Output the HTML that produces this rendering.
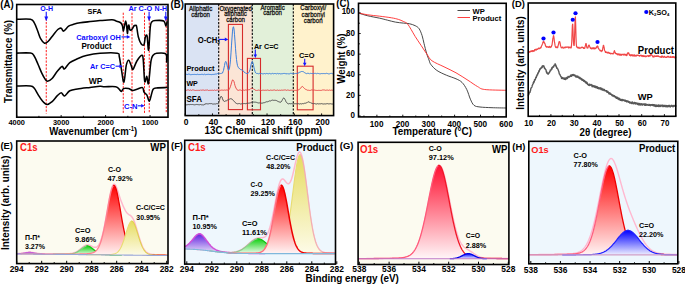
<!DOCTYPE html><html><head><meta charset="utf-8"><style>html,body{margin:0;padding:0;background:#fff;width:685px;height:284px;overflow:hidden}svg{display:block}text{font-family:"Liberation Sans",sans-serif;font-weight:bold}</style></head><body>
<svg width="685" height="284" viewBox="0 0 685 284"><defs>
<linearGradient id="gr" x1="0" y1="0" x2="0" y2="1"><stop offset="0" stop-color="#ff0000"/><stop offset="1" stop-color="#fff4f4"/></linearGradient>
<linearGradient id="gy" x1="0" y1="0" x2="0" y2="1"><stop offset="0" stop-color="#e6dc60"/><stop offset="1" stop-color="#fdfbe8"/></linearGradient>
<linearGradient id="gg" x1="0" y1="0" x2="0" y2="1"><stop offset="0" stop-color="#10d010"/><stop offset="1" stop-color="#eefcee"/></linearGradient>
<linearGradient id="gp" x1="0" y1="0" x2="0" y2="1"><stop offset="0" stop-color="#6020e0"/><stop offset="1" stop-color="#ece6fa"/></linearGradient>
<linearGradient id="gb" x1="0" y1="0" x2="0" y2="1"><stop offset="0" stop-color="#0000ff"/><stop offset="1" stop-color="#eeeeff"/></linearGradient>
<linearGradient id="gr2" x1="0" y1="0" x2="0" y2="1"><stop offset="0" stop-color="#ff1030"/><stop offset="1" stop-color="#fff6f8"/></linearGradient>
</defs>
<line x1="46.25" y1="18.5" x2="46.25" y2="113.5" stroke="#ff1010" stroke-width="0.95" stroke-dasharray="2.2,1.3" />
<line x1="123.25" y1="12.7" x2="123.25" y2="113.5" stroke="#ff1010" stroke-width="0.95" stroke-dasharray="2.2,1.3" />
<line x1="132" y1="12.7" x2="132" y2="113.5" stroke="#ff1010" stroke-width="0.95" stroke-dasharray="2.2,1.3" />
<line x1="144.5" y1="12.7" x2="144.5" y2="113.5" stroke="#ff1010" stroke-width="0.95" stroke-dasharray="2.2,1.3" />
<line x1="149.25" y1="19" x2="149.25" y2="113.5" stroke="#ff1010" stroke-width="0.95" stroke-dasharray="2.2,1.3" />
<line x1="166.25" y1="19" x2="166.25" y2="113.5" stroke="#ff1010" stroke-width="0.95" stroke-dasharray="2.2,1.3" />
<path d="M16.7 19.3 C19 19.3 27.57 18.7 30.5 19.3 C33.43 19.9 33.13 21.03 34.3 22.9 C35.47 24.77 36.45 27.87 37.5 30.5 C38.55 33.13 39.43 36.58 40.6 38.7 C41.77 40.82 43.22 42.77 44.5 43.2 C45.78 43.63 46.83 42.68 48.3 41.3 C49.77 39.92 51.72 36.87 53.3 34.9 C54.88 32.93 56.48 30.62 57.8 29.5 C59.12 28.38 60.22 27.93 61.2 28.2 C62.18 28.47 62.47 31.45 63.7 31.1 C64.93 30.75 66.95 27.23 68.6 26.1 C70.25 24.97 71.7 24.85 73.6 24.3 C75.5 23.75 77.25 23.25 80 22.8 C82.75 22.35 86.77 21.97 90.1 21.6 C93.43 21.23 96.35 20.9 100 20.6 C103.65 20.3 109.33 19.75 112 19.8 C114.67 19.85 114.92 20.57 116 20.9 C117.08 21.23 117.67 21.43 118.5 21.8 C119.33 22.17 120.33 22.42 121 23.1 C121.67 23.78 122.1 24.6 122.5 25.9 C122.9 27.2 123.05 30.97 123.4 30.9 C123.75 30.83 124.22 27.15 124.6 25.5 C124.98 23.85 125.37 21 125.7 21 C126.03 21 126.32 23.42 126.6 25.5 C126.88 27.58 127.13 33.33 127.4 33.5 C127.67 33.67 127.93 27.87 128.2 26.5 C128.47 25.13 128.73 24.78 129 25.3 C129.27 25.82 129.43 28.82 129.8 29.6 C130.17 30.38 130.75 30.17 131.2 30 C131.65 29.83 132.03 29.28 132.5 28.6 C132.97 27.92 133.5 26.43 134 25.9 C134.5 25.37 135.07 25.32 135.5 25.4 C135.93 25.48 136.13 24.5 136.6 26.4 C137.07 28.3 137.55 33.9 138.3 36.8 C139.05 39.7 140.15 42.5 141.1 43.8 C142.05 45.1 143.28 45.77 144 44.6 C144.72 43.43 144.88 38.22 145.4 36.8 C145.92 35.38 146.57 33.9 147.1 36.1 C147.63 38.3 148.07 51.53 148.6 50 C149.13 48.47 149.78 31.57 150.3 26.9 C150.82 22.23 150.88 23.05 151.7 22 C152.52 20.95 153.2 20.77 155.2 20.6 C157.2 20.43 161.92 20.1 163.7 21 C165.48 21.9 165.32 25.95 165.9 26 C166.48 26.05 166.98 22.08 167.2 21.3" stroke="#000" stroke-width="1.55" fill="none" stroke-linejoin="round" />
<path d="M16.7 53.1 C19 53.1 27.57 52.58 30.5 53.1 C33.43 53.62 33.03 54.3 34.3 56.2 C35.57 58.1 36.83 61.63 38.1 64.5 C39.37 67.37 40.73 70.97 41.9 73.4 C43.07 75.83 44.15 77.8 45.1 79.1 C46.05 80.4 46.43 81.3 47.6 81.2 C48.77 81.1 50.52 80.12 52.1 78.5 C53.68 76.88 55.45 73.52 57.1 71.5 C58.75 69.48 60.77 66.83 62 66.4 C63.23 65.97 63.2 69.53 64.5 68.9 C65.8 68.27 67.63 64.28 69.8 62.6 C71.97 60.92 74.75 59.97 77.5 58.8 C80.25 57.63 82.55 56.52 86.3 55.6 C90.05 54.68 94.85 53.7 100 53.3 C105.15 52.9 113.98 52.63 117.2 53.2 C120.42 53.77 118.6 54 119.3 56.7 C120 59.4 120.63 65.17 121.4 69.4 C122.17 73.63 123.08 82.8 123.9 82.1 C124.72 81.4 125.5 68.85 126.3 65.2 C127.1 61.55 127.87 60.08 128.7 60.2 C129.53 60.32 130.58 64.37 131.3 65.9 C132.02 67.43 132.07 70.22 133 69.4 C133.93 68.58 135.43 63.35 136.9 61 C138.37 58.65 140.75 55.55 141.8 55.3 C142.85 55.05 142.72 55.15 143.2 59.5 C143.68 63.85 144.1 78.58 144.7 81.4 C145.3 84.22 146.17 76.05 146.8 76.4 C147.43 76.75 147.8 86.08 148.5 83.5 C149.2 80.92 150.23 65.6 151 60.9 C151.77 56.2 152.17 56.58 153.1 55.3 C154.03 54.02 154.48 53.43 156.6 53.2 C158.72 52.97 164.13 52.43 165.8 53.9 C167.47 55.37 166.37 61.98 166.6 62 C166.83 62.02 167.1 55.33 167.2 54" stroke="#000" stroke-width="1.55" fill="none" stroke-linejoin="round" />
<path d="M16.7 86 C19 86 27.57 85.63 30.5 86 C33.43 86.37 33.03 86.77 34.3 88.2 C35.57 89.63 36.83 92.58 38.1 94.6 C39.37 96.62 40.42 98.67 41.9 100.3 C43.38 101.93 45.3 104.18 47 104.4 C48.7 104.62 50.42 103.02 52.1 101.6 C53.78 100.18 55.58 97.38 57.1 95.9 C58.62 94.42 59.97 92.7 61.2 92.7 C62.43 92.7 63.07 96.22 64.5 95.9 C65.93 95.58 67.63 91.97 69.8 90.8 C71.97 89.63 74.12 89.47 77.5 88.9 C80.88 88.33 86.35 87.83 90.1 87.4 C93.85 86.97 97.6 86.42 100 86.3 C102.4 86.18 101.88 86.63 104.5 86.7 C107.12 86.77 113.23 86.27 115.7 86.7 C118.17 87.13 118.35 88.52 119.3 89.3 C120.25 90.08 120.7 91.52 121.4 91.4 C122.1 91.28 122.33 89.07 123.5 88.6 C124.67 88.13 126.87 88.3 128.4 88.6 C129.93 88.9 131.28 90.28 132.7 90.4 C134.12 90.52 135.27 89.77 136.9 89.3 C138.53 88.83 141.32 87.13 142.5 87.6 C143.68 88.07 143.28 90.88 144 92.1 C144.72 93.32 145.92 93.37 146.8 94.9 C147.68 96.43 148.55 101.3 149.3 101.3 C150.05 101.3 150.67 96.9 151.3 94.9 C151.93 92.9 152.22 90.47 153.1 89.3 C153.98 88.13 154.37 88.18 156.6 87.9 C158.83 87.62 164.68 87.65 166.5 87.6 C168.32 87.55 167.33 87.6 167.5 87.6" stroke="#000" stroke-width="1.55" fill="none" stroke-linejoin="round" />
<rect x="16.7" y="4.5" width="151.3" height="112.7" fill="none" stroke="#000" stroke-width="1.6" />
<line x1="16.7" y1="117.2" x2="16.7" y2="115" stroke="#000" stroke-width="0.9" />
<line x1="38.92" y1="117.2" x2="38.92" y2="115.8" stroke="#000" stroke-width="0.9" />
<line x1="61.15" y1="117.2" x2="61.15" y2="115" stroke="#000" stroke-width="0.9" />
<line x1="83.38" y1="117.2" x2="83.38" y2="115.8" stroke="#000" stroke-width="0.9" />
<line x1="105.6" y1="117.2" x2="105.6" y2="115" stroke="#000" stroke-width="0.9" />
<line x1="127.83" y1="117.2" x2="127.83" y2="115.8" stroke="#000" stroke-width="0.9" />
<line x1="150.05" y1="117.2" x2="150.05" y2="115" stroke="#000" stroke-width="0.9" />
<text transform="translate(16.7 124.7) scale(1 1.06)" font-size="7.4" fill="#000" text-anchor="middle" >4000</text>
<text transform="translate(61.15 124.7) scale(1 1.06)" font-size="7.4" fill="#000" text-anchor="middle" >3000</text>
<text transform="translate(105.6 124.7) scale(1 1.06)" font-size="7.4" fill="#000" text-anchor="middle" >2000</text>
<text transform="translate(150.05 124.7) scale(1 1.06)" font-size="7.4" fill="#000" text-anchor="middle" >1000</text>
<text transform="translate(49.2 135.1) scale(1 1.06)" font-size="9.6">Wavenumber (cm<tspan font-size="6" dy="-3.6">-1</tspan><tspan dy="3.6">)</tspan></text>
<text font-size="9.64" fill="#000" text-anchor="middle" transform="translate(11.9 61.5) rotate(-90) scale(1 1.12)">Transmittance (%)</text>
<text transform="translate(0.3 7.8) scale(1 1.06)" font-size="9.6" fill="#000" text-anchor="start" >(A)</text>
<text transform="translate(87.6 13.9) scale(1 1.06)" font-size="7.35" fill="#000" text-anchor="start" >SFA</text>
<text transform="translate(81.4 49.1) scale(1 1.06)" font-size="8.02" fill="#000" text-anchor="start" >Product</text>
<text transform="translate(88.75 83.5) scale(1 1.06)" font-size="8.54" fill="#000" text-anchor="start" >WP</text>
<text transform="translate(40.3 11.2) scale(1 1.06)" font-size="7.04" fill="#0a0aff" text-anchor="start" >O-H</text>
<text transform="translate(128.4 11.4) scale(1 1.06)" font-size="7.36" fill="#0a0aff" text-anchor="start" >Ar C-O</text>
<text transform="translate(154.6 11.4) scale(1 1.06)" font-size="6.98" fill="#0a0aff" text-anchor="start" >N-H</text>
<text transform="translate(76.2 39.6) scale(1 1.06)" font-size="7.4" fill="#0a0aff" text-anchor="start" >Carboxyl OH</text>
<text transform="translate(90 68.5) scale(1 1.06)" font-size="7.32" fill="#0a0aff" text-anchor="start" >Ar C=C</text>
<text transform="translate(124 108.5) scale(1 1.06)" font-size="7.6" fill="#0a0aff" text-anchor="start" >C-N</text>
<line x1="46.25" y1="11.8" x2="46.25" y2="16.9" stroke="#1515ff" stroke-width="1.1" />
<path d="M44.35 16.4 L48.15 16.4 L46.25 21.2 Z" fill="#1515ff"/>
<line x1="149.1" y1="11.8" x2="149.1" y2="16.9" stroke="#1515ff" stroke-width="1.1" />
<path d="M147.2 16.4 L151 16.4 L149.1 21.2 Z" fill="#1515ff"/>
<line x1="165.8" y1="11.8" x2="165.8" y2="16.9" stroke="#1515ff" stroke-width="1.1" />
<path d="M163.9 16.4 L167.7 16.4 L165.8 21.2 Z" fill="#1515ff"/>
<line x1="121.5" y1="36.9" x2="127.3" y2="36.9" stroke="#1515ff" stroke-width="1.1" />
<path d="M126.8 35.1 L126.8 38.7 L130.3 36.9 Z" fill="#1515ff"/>
<line x1="115.5" y1="66.2" x2="119.8" y2="66.2" stroke="#1515ff" stroke-width="1.1" />
<path d="M119.3 64.4 L119.3 68 L122.8 66.2 Z" fill="#1515ff"/>
<line x1="137.8" y1="105.8" x2="141.6" y2="105.8" stroke="#1515ff" stroke-width="1.1" />
<path d="M141.1 104 L141.1 107.6 L144.6 105.8 Z" fill="#1515ff"/>
<rect x="185.2" y="4" width="33.5" height="111.6" fill="#dae3f3" stroke="none" stroke-width="1" />
<rect x="218.7" y="4" width="33.6" height="111.6" fill="#fbe5d6" stroke="none" stroke-width="1" />
<rect x="252.3" y="4" width="41" height="111.6" fill="#e2f0d9" stroke="none" stroke-width="1" />
<rect x="293.3" y="4" width="40.3" height="111.6" fill="#fff2cc" stroke="none" stroke-width="1" />
<line x1="218.7" y1="4" x2="218.7" y2="115.6" stroke="#000" stroke-width="1.1" stroke-dasharray="2.2,1.4" />
<line x1="252.3" y1="4" x2="252.3" y2="115.6" stroke="#000" stroke-width="1.1" stroke-dasharray="2.2,1.4" />
<line x1="293.3" y1="4" x2="293.3" y2="115.6" stroke="#000" stroke-width="1.1" stroke-dasharray="2.2,1.4" />
<rect x="228.4" y="24.4" width="14.1" height="85.2" fill="none" stroke="#d62b2b" stroke-width="1.1" />
<rect x="247.4" y="58.4" width="13.1" height="51.4" fill="none" stroke="#d62b2b" stroke-width="1.1" />
<rect x="297.3" y="66.2" width="15.8" height="43.6" fill="none" stroke="#d62b2b" stroke-width="1.1" />
<text transform="translate(200.6 10.7) scale(1 1.06)" font-size="6.15" fill="#111" text-anchor="middle" style="font-weight:normal" stroke="#111" stroke-width="0.25">Aliphatic</text>
<text transform="translate(200.6 16.9) scale(1 1.06)" font-size="6.15" fill="#111" text-anchor="middle" style="font-weight:normal" stroke="#111" stroke-width="0.25">carbon</text>
<text transform="translate(235.6 10.9) scale(1 1.06)" font-size="6" fill="#111" text-anchor="middle" style="font-weight:normal" stroke="#111" stroke-width="0.25">Oxygenated</text>
<text transform="translate(235.6 16.3) scale(1 1.06)" font-size="6.15" fill="#111" text-anchor="middle" style="font-weight:normal" stroke="#111" stroke-width="0.25">aliphatic</text>
<text transform="translate(235.6 22) scale(1 1.06)" font-size="6.15" fill="#111" text-anchor="middle" style="font-weight:normal" stroke="#111" stroke-width="0.25">carbon</text>
<text transform="translate(272.6 9.7) scale(1 1.06)" font-size="6.15" fill="#111" text-anchor="middle" style="font-weight:normal" stroke="#111" stroke-width="0.25">Aromatic</text>
<text transform="translate(272.6 15.3) scale(1 1.06)" font-size="6.15" fill="#111" text-anchor="middle" style="font-weight:normal" stroke="#111" stroke-width="0.25">carbon</text>
<text transform="translate(313.2 9.9) scale(1 1.06)" font-size="6.15" fill="#111" text-anchor="middle" style="font-weight:normal" stroke="#111" stroke-width="0.25">Carboxyl/</text>
<text transform="translate(313.2 17.4) scale(1 1.06)" font-size="6.15" fill="#111" text-anchor="middle" style="font-weight:normal" stroke="#111" stroke-width="0.25">carbonyl</text>
<text transform="translate(313.2 22.8) scale(1 1.06)" font-size="6.15" fill="#111" text-anchor="middle" style="font-weight:normal" stroke="#111" stroke-width="0.25">carbon</text>
<path d="M185.5 74.24 L186 74.43 L186.5 74.32 L187 74.46 L187.5 74.48 L188 74.14 L188.5 74.11 L189 74.6 L189.5 74.26 L190 74.24 L190.5 74.7 L191 74.38 L191.5 74.6 L192 74.39 L192.5 74.48 L193 74.19 L193.5 74.48 L194 74.62 L194.5 74.41 L195 74.54 L195.5 74.5 L196 74.14 L196.5 74.55 L197 74.45 L197.5 74.28 L198 74.12 L198.5 74.62 L199 74.38 L199.5 74.53 L200 74.63 L200.5 74.53 L201 74.65 L201.5 74.34 L202 74.58 L202.5 74.37 L203 74.66 L203.5 74.63 L204 74.16 L204.5 74.18 L205 74.23 L205.5 74.68 L206 74.36 L206.5 74.48 L207 74.28 L207.5 74.4 L208 74.33 L208.5 74.31 L209 74.45 L209.5 74.45 L210 74.64 L210.5 74.51 L211 74.66 L211.5 74.61 L212 74.69 L212.5 74.44 L213 74.06 L213.5 74.42 L214 74.41 L214.5 74.31 L215 74.04 L215.5 74.06 L216 73.69 L216.5 74 L217 73.78 L217.5 73.54 L218 73.34 L218.5 73.81 L219 73.89 L219.5 73.35 L220 73.78 L220.5 73.54 L221 73.36 L221.5 73.36 L222 73.45 L222.5 73.05 L223 71.63 L223.5 70.43 L224 67.86 L224.5 65.61 L225 62.88 L225.5 61.61 L226 61.5 L226.5 62.54 L227 65.14 L227.5 67.25 L228 69.1 L228.5 70.39 L229 69.73 L229.5 68.05 L230 64.78 L230.5 59.8 L231 52.88 L231.5 45.14 L232 37.94 L232.5 31.14 L233 27.52 L233.5 26.73 L234 29 L234.5 34.31 L235 41.13 L235.5 48.25 L236 54.52 L236.5 59.49 L237 63.1 L237.5 65.64 L238 66.84 L238.5 67.69 L239 68.44 L239.5 68.55 L240 68.89 L240.5 69.55 L241 69.52 L241.5 69.81 L242 69.82 L242.5 70.45 L243 71 L243.5 71.14 L244 71.98 L244.5 72.44 L245 72.47 L245.5 73.11 L246 73.22 L246.5 73.49 L247 73.37 L247.5 73.58 L248 73.48 L248.5 72.73 L249 72.1 L249.5 71.33 L250 69.78 L250.5 67.14 L251 64.86 L251.5 62.89 L252 61.6 L252.5 61.76 L253 63.08 L253.5 65.28 L254 67.82 L254.5 69.78 L255 71.42 L255.5 72.7 L256 72.83 L256.5 73.44 L257 73.67 L257.5 73.46 L258 73.43 L258.5 73.78 L259 73.44 L259.5 73.41 L260 73.56 L260.5 73.72 L261 73.36 L261.5 73.49 L262 73.5 L262.5 73.8 L263 73.56 L263.5 73.81 L264 73.4 L264.5 73.5 L265 73.69 L265.5 73.83 L266 73.57 L266.5 73.44 L267 73.37 L267.5 73.62 L268 73.41 L268.5 73.78 L269 73.8 L269.5 73.41 L270 73.47 L270.5 73.78 L271 73.69 L271.5 73.78 L272 73.51 L272.5 73.38 L273 73.48 L273.5 73.78 L274 73.46 L274.5 73.51 L275 73.55 L275.5 73.55 L276 73.55 L276.5 73.85 L277 73.39 L277.5 73.3 L278 73.87 L278.5 73.83 L279 73.89 L279.5 73.56 L280 73.87 L280.5 73.86 L281 73.43 L281.5 73.75 L282 73.8 L282.5 73.7 L283 73.61 L283.5 73.47 L284 73.5 L284.5 73.44 L285 73.34 L285.5 73.65 L286 73.47 L286.5 73.79 L287 73.33 L287.5 73.84 L288 73.72 L288.5 73.85 L289 73.84 L289.5 73.84 L290 73.65 L290.5 73.31 L291 73.75 L291.5 73.4 L292 73.48 L292.5 73.7 L293 73.61 L293.5 73.55 L294 73.86 L294.5 73.66 L295 73.5 L295.5 73.43 L296 73.78 L296.5 73.51 L297 73.62 L297.5 73.26 L298 73 L298.5 72.98 L299 72.87 L299.5 72.15 L300 72.17 L300.5 71.93 L301 71.62 L301.5 71.51 L302 71.03 L302.5 71.55 L303 71.96 L303.5 71.8 L304 72.28 L304.5 72.6 L305 73.03 L305.5 73.18 L306 73.36 L306.5 73.64 L307 73.23 L307.5 73.3 L308 73.36 L308.5 73.37 L309 73.34 L309.5 73.88 L310 73.81 L310.5 73.35 L311 73.6 L311.5 73.49 L312 73.49 L312.5 73.51 L313 73.69 L313.5 73.65 L314 73.52 L314.5 73.41 L315 73.5 L315.5 73.37 L316 73.63 L316.5 73.73 L317 73.53 L317.5 73.35 L318 73.41 L318.5 73.52 L319 73.66 L319.5 73.77 L320 73.53 L320.5 73.78 L321 73.67 L321.5 73.56 L322 73.52 L322.5 73.6 L323 73.72 L323.5 73.55 L324 73.72 L324.5 73.58 L325 73.45 L325.5 73.62 L326 73.72 L326.5 73.34 L327 73.55 L327.5 73.56 L328 73.83 L328.5 73.86 L329 73.52 L329.5 73.84 L330 73.77 L330.5 73.46 L331 73.58 L331.5 73.37 L332 73.79 L332.5 73.7 L333 73.83" stroke="#3a80dc" stroke-width="1" fill="none" stroke-linejoin="round" stroke-linecap="round" />
<path d="M185.5 90.38 L186 90.3 L186.5 90.34 L187 90.24 L187.5 89.96 L188 90.25 L188.5 89.9 L189 89.99 L189.5 90.36 L190 89.93 L190.5 89.96 L191 89.96 L191.5 90.43 L192 90.01 L192.5 89.91 L193 90.4 L193.5 89.97 L194 90.41 L194.5 90.3 L195 90.4 L195.5 90.47 L196 90.25 L196.5 90.38 L197 89.92 L197.5 90.36 L198 90.21 L198.5 90.33 L199 89.96 L199.5 90.35 L200 90.46 L200.5 89.94 L201 90.09 L201.5 90.24 L202 90.4 L202.5 90.05 L203 90.01 L203.5 90.05 L204 90.27 L204.5 90.35 L205 90.14 L205.5 90.12 L206 90.14 L206.5 90.11 L207 90.15 L207.5 89.95 L208 90.2 L208.5 90.48 L209 90.15 L209.5 90.35 L210 90 L210.5 90.31 L211 90.35 L211.5 90.3 L212 90.21 L212.5 90.19 L213 90.29 L213.5 90.44 L214 89.99 L214.5 89.96 L215 90.35 L215.5 90.45 L216 90.21 L216.5 90.17 L217 90.33 L217.5 90.01 L218 90.06 L218.5 90.02 L219 90.25 L219.5 90.09 L220 90.04 L220.5 90.31 L221 90.47 L221.5 90.08 L222 90.32 L222.5 90.15 L223 90.41 L223.5 90.25 L224 90.06 L224.5 90.03 L225 89.91 L225.5 90.19 L226 90.13 L226.5 89.99 L227 90.09 L227.5 90.03 L228 90.2 L228.5 89.62 L229 89.74 L229.5 88.77 L230 87.81 L230.5 86.3 L231 84.78 L231.5 82.91 L232 81.11 L232.5 79.98 L233 79.85 L233.5 80.55 L234 81.62 L234.5 83.6 L235 85.58 L235.5 86.92 L236 88.05 L236.5 88.93 L237 89.76 L237.5 90.04 L238 90.36 L238.5 90.37 L239 90.03 L239.5 90.01 L240 90.05 L240.5 90.01 L241 90.32 L241.5 90.42 L242 90.44 L242.5 90.05 L243 90.42 L243.5 90.09 L244 90.15 L244.5 90.34 L245 89.95 L245.5 89.96 L246 90.4 L246.5 90.07 L247 90.11 L247.5 90.23 L248 90.25 L248.5 89.77 L249 89.83 L249.5 89.66 L250 89.37 L250.5 88.81 L251 88.65 L251.5 88.58 L252 88.13 L252.5 88.33 L253 88.37 L253.5 88.85 L254 89.48 L254.5 89.47 L255 90.16 L255.5 90.31 L256 89.9 L256.5 90.44 L257 90.12 L257.5 90.36 L258 90.35 L258.5 90.08 L259 90.31 L259.5 90.29 L260 90.38 L260.5 90.06 L261 90.35 L261.5 90.48 L262 90.3 L262.5 90.22 L263 89.97 L263.5 90.2 L264 90.11 L264.5 90.33 L265 90.31 L265.5 90.24 L266 90.01 L266.5 90.29 L267 90.28 L267.5 90.01 L268 90.43 L268.5 90.29 L269 89.97 L269.5 90.46 L270 89.98 L270.5 90.1 L271 90.33 L271.5 90.26 L272 90.23 L272.5 90.29 L273 90.17 L273.5 90.09 L274 90.01 L274.5 89.94 L275 90.33 L275.5 90.35 L276 90.23 L276.5 90.34 L277 90.12 L277.5 90.06 L278 90.13 L278.5 90.42 L279 89.93 L279.5 90.2 L280 90.05 L280.5 90.36 L281 90.11 L281.5 90.1 L282 90.14 L282.5 90.22 L283 90.36 L283.5 90.11 L284 90.41 L284.5 89.97 L285 90.06 L285.5 89.96 L286 89.97 L286.5 90.37 L287 90.34 L287.5 90.01 L288 90.01 L288.5 90.15 L289 90.35 L289.5 90.39 L290 90.35 L290.5 90.26 L291 89.99 L291.5 90.14 L292 90.02 L292.5 90.22 L293 90.24 L293.5 90.02 L294 90.05 L294.5 90.37 L295 89.92 L295.5 90.38 L296 90.43 L296.5 90.45 L297 90.08 L297.5 90.13 L298 90.05 L298.5 89.9 L299 89.83 L299.5 89.27 L300 88.53 L300.5 88.29 L301 87.49 L301.5 87.09 L302 86.88 L302.5 86.42 L303 87.12 L303.5 87.49 L304 87.95 L304.5 88.56 L305 89.04 L305.5 89.3 L306 89.79 L306.5 89.69 L307 90.08 L307.5 90.23 L308 90.14 L308.5 90.23 L309 90.47 L309.5 90.43 L310 89.98 L310.5 90.38 L311 90.27 L311.5 89.93 L312 90.12 L312.5 90.04 L313 89.95 L313.5 90.22 L314 90.46 L314.5 90.09 L315 90.42 L315.5 90.32 L316 89.98 L316.5 90.41 L317 90.26 L317.5 90.46 L318 90.33 L318.5 90.34 L319 90.11 L319.5 90.38 L320 90.46 L320.5 90.42 L321 90.16 L321.5 90.35 L322 90.19 L322.5 89.97 L323 89.93 L323.5 89.95 L324 90.02 L324.5 90 L325 90.2 L325.5 90.32 L326 90.22 L326.5 90.15 L327 90.29 L327.5 90.08 L328 90.18 L328.5 90.35 L329 90.14 L329.5 90.01 L330 90.44 L330.5 90.33 L331 90.12 L331.5 90.12 L332 90.22 L332.5 90.26 L333 90.03" stroke="#e84444" stroke-width="0.95" fill="none" stroke-linejoin="round" stroke-linecap="round" />
<path d="M185.5 104.45 L186 104.55 L186.5 104.84 L187 104.52 L187.5 104.68 L188 104.55 L188.5 104.55 L189 104.54 L189.5 104.65 L190 104.53 L190.5 104.46 L191 104.51 L191.5 104.53 L192 104.7 L192.5 104.48 L193 104.46 L193.5 104.67 L194 104.65 L194.5 104.8 L195 104.48 L195.5 104.65 L196 104.65 L196.5 104.46 L197 104.93 L197.5 104.56 L198 104.5 L198.5 104.69 L199 104.53 L199.5 104.76 L200 104.62 L200.5 104.51 L201 104.48 L201.5 104.81 L202 104.59 L202.5 104.84 L203 104.68 L203.5 104.92 L204 104.6 L204.5 104.57 L205 103.68 L205.5 103.96 L206 103.86 L206.5 103.72 L207 103.6 L207.5 103.89 L208 104.03 L208.5 103.85 L209 103.55 L209.5 103.57 L210 103.6 L210.5 103.64 L211 103.57 L211.5 103.58 L212 103.88 L212.5 104 L213 103.65 L213.5 104.04 L214 103.79 L214.5 103.95 L215 104.01 L215.5 104.01 L216 103.55 L216.5 103.67 L217 103.78 L217.5 103.83 L218 103.11 L218.5 102.64 L219 101.91 L219.5 100.09 L220 98.51 L220.5 96.96 L221 96.29 L221.5 96.52 L222 97.1 L222.5 98.73 L223 99.98 L223.5 100.89 L224 101.18 L224.5 101.47 L225 101.1 L225.5 100.96 L226 100.68 L226.5 100.76 L227 100.4 L227.5 100.06 L228 99.75 L228.5 99.74 L229 99.39 L229.5 99.17 L230 98.78 L230.5 98.71 L231 98.54 L231.5 98.95 L232 98.9 L232.5 99.53 L233 100.19 L233.5 100.72 L234 101.02 L234.5 101.64 L235 102.44 L235.5 102.76 L236 103.21 L236.5 103.46 L237 103.44 L237.5 103.79 L238 103.79 L238.5 103.64 L239 103.69 L239.5 103.56 L240 103.74 L240.5 104.02 L241 103.59 L241.5 103.82 L242 103.59 L242.5 103.57 L243 103.84 L243.5 103.62 L244 103.51 L244.5 103.54 L245 103.75 L245.5 103.69 L246 103.35 L246.5 103.41 L247 103.71 L247.5 103.26 L248 103.34 L248.5 103.18 L249 103.25 L249.5 103.05 L250 103.03 L250.5 102.79 L251 102.51 L251.5 102.4 L252 102.26 L252.5 102.56 L253 102.14 L253.5 102.06 L254 102.52 L254.5 102.14 L255 102.52 L255.5 102.16 L256 102.41 L256.5 102.37 L257 102.75 L257.5 102.73 L258 102.83 L258.5 102.97 L259 103.1 L259.5 102.89 L260 103.06 L260.5 103 L261 102.84 L261.5 103.18 L262 103.03 L262.5 103.08 L263 102.7 L263.5 102.78 L264 102.63 L264.5 102.65 L265 102.19 L265.5 102.19 L266 102.11 L266.5 101.76 L267 101.84 L267.5 101.78 L268 101.46 L268.5 101.41 L269 101.23 L269.5 100.88 L270 100.79 L270.5 100.96 L271 100.49 L271.5 100.41 L272 100.13 L272.5 100.1 L273 100 L273.5 100.34 L274 100.22 L274.5 100.32 L275 100.43 L275.5 100.34 L276 100.62 L276.5 100.59 L277 100.72 L277.5 101.2 L278 101.41 L278.5 101.67 L279 101.67 L279.5 102.02 L280 101.96 L280.5 102.25 L281 102 L281.5 101.2 L282 100.76 L282.5 99.44 L283 98.49 L283.5 98.2 L284 97.9 L284.5 98.5 L285 99.49 L285.5 100.33 L286 101.76 L286.5 102.4 L287 103.07 L287.5 103.38 L288 103.77 L288.5 103.86 L289 103.67 L289.5 103.59 L290 103.69 L290.5 103.75 L291 103.59 L291.5 103.63 L292 103.93 L292.5 103.9 L293 104.04 L293.5 104.04 L294 103.99 L294.5 103.74 L295 103.63 L295.5 103.71 L296 103.78 L296.5 103.81 L297 103.82 L297.5 103.73 L298 103.98 L298.5 103.69 L299 103.78 L299.5 103.99 L300 103.95 L300.5 103.7 L301 103.67 L301.5 103.95 L302 103.54 L302.5 103.58 L303 103.75 L303.5 103.7 L304 103.43 L304.5 103.25 L305 103.15 L305.5 103.21 L306 102.8 L306.5 102.79 L307 102.44 L307.5 102.35 L308 101.78 L308.5 101.86 L309 101.89 L309.5 102.31 L310 102.52 L310.5 102.65 L311 103.15 L311.5 103.14 L312 103.41 L312.5 103.5 L313 103.85 L313.5 103.71 L314 103.65 L314.5 103.56 L315 103.76 L315.5 103.86 L316 103.89 L316.5 104.01 L317 103.95 L317.5 103.67 L318 103.62 L318.5 103.93 L319 103.94 L319.5 103.8 L320 103.97 L320.5 103.83 L321 103.69 L321.5 103.63 L322 103.56 L322.5 103.87 L323 104 L323.5 104 L324 103.78 L324.5 103.88 L325 104.01 L325.5 103.96 L326 103.85 L326.5 103.76 L327 103.81 L327.5 103.64 L328 103.64 L328.5 103.89 L329 104.05 L329.5 103.82 L330 103.75 L330.5 103.73 L331 103.78 L331.5 103.95 L332 103.78 L332.5 104.03 L333 103.63" stroke="#505050" stroke-width="1" fill="none" stroke-linejoin="round" stroke-linecap="round" />
<rect x="185.2" y="4" width="148.4" height="111.6" fill="none" stroke="#000" stroke-width="1.6" />
<line x1="185.2" y1="115.6" x2="185.2" y2="113.4" stroke="#000" stroke-width="0.9" />
<line x1="198.84" y1="115.6" x2="198.84" y2="114.2" stroke="#000" stroke-width="0.9" />
<line x1="212.48" y1="115.6" x2="212.48" y2="113.4" stroke="#000" stroke-width="0.9" />
<line x1="226.12" y1="115.6" x2="226.12" y2="114.2" stroke="#000" stroke-width="0.9" />
<line x1="239.76" y1="115.6" x2="239.76" y2="113.4" stroke="#000" stroke-width="0.9" />
<line x1="253.4" y1="115.6" x2="253.4" y2="114.2" stroke="#000" stroke-width="0.9" />
<line x1="267.04" y1="115.6" x2="267.04" y2="113.4" stroke="#000" stroke-width="0.9" />
<line x1="280.68" y1="115.6" x2="280.68" y2="114.2" stroke="#000" stroke-width="0.9" />
<line x1="294.32" y1="115.6" x2="294.32" y2="113.4" stroke="#000" stroke-width="0.9" />
<line x1="307.96" y1="115.6" x2="307.96" y2="114.2" stroke="#000" stroke-width="0.9" />
<line x1="321.6" y1="115.6" x2="321.6" y2="113.4" stroke="#000" stroke-width="0.9" />
<text transform="translate(186.1 125.1) scale(1 1.06)" font-size="8.5" fill="#000" text-anchor="middle" >0</text>
<text transform="translate(213.4 125.1) scale(1 1.06)" font-size="8.5" fill="#000" text-anchor="middle" >40</text>
<text transform="translate(240.7 125.1) scale(1 1.06)" font-size="8.5" fill="#000" text-anchor="middle" >80</text>
<text transform="translate(268 125.1) scale(1 1.06)" font-size="8.5" fill="#000" text-anchor="middle" >120</text>
<text transform="translate(295.3 125.1) scale(1 1.06)" font-size="8.5" fill="#000" text-anchor="middle" >160</text>
<text transform="translate(322.6 125.1) scale(1 1.06)" font-size="8.5" fill="#000" text-anchor="middle" >200</text>
<text transform="translate(263.5 133.6) scale(1 1.06)" font-size="9.83" fill="#000" text-anchor="middle" >13C Chemical shift (ppm)</text>
<text transform="translate(170.6 7.9) scale(1 1.06)" font-size="9.6" fill="#000" text-anchor="start" >(B)</text>
<text transform="translate(186.4 71.4) scale(1 1.06)" font-size="7.46" fill="#000" text-anchor="start" >Product</text>
<text transform="translate(186.4 86) scale(1 1.06)" font-size="7.08" fill="#000" text-anchor="start" >WP</text>
<text transform="translate(186.4 102.4) scale(1 1.06)" font-size="8.07" fill="#000" text-anchor="start" >SFA</text>
<text transform="translate(197.7 42.9) scale(1 1.06)" font-size="7.7" fill="#000" text-anchor="start" >O-CH<tspan font-size="4.5" dy="1.5">3</tspan></text>
<line x1="218.5" y1="39.4" x2="225.3" y2="39.4" stroke="#1515ff" stroke-width="1.1" />
<path d="M224.8 37.6 L224.8 41.2 L228.3 39.4 Z" fill="#1515ff"/>
<text transform="translate(253.9 49.1) scale(1 1.06)" font-size="7.23" fill="#000" text-anchor="start" >Ar C=C</text>
<line x1="255.3" y1="49.5" x2="255.3" y2="55" stroke="#1515ff" stroke-width="1.1" />
<path d="M253.5 54.5 L257.1 54.5 L255.3 58 Z" fill="#1515ff"/>
<text transform="translate(299 58.4) scale(1 1.06)" font-size="7.39" fill="#000" text-anchor="start" >C=O</text>
<line x1="304.7" y1="58.8" x2="304.7" y2="63.2" stroke="#1515ff" stroke-width="1.1" />
<path d="M302.9 62.7 L306.5 62.7 L304.7 66.2 Z" fill="#1515ff"/>
<path d="M358 12.9 C359.63 13.38 364.18 14.92 367.8 15.8 C371.42 16.68 376.4 17.47 379.7 18.2 C383 18.93 384.98 19.55 387.6 20.2 C390.22 20.85 392.78 21.62 395.4 22.1 C398.02 22.58 400.98 22.83 403.3 23.1 C405.62 23.37 407.32 23.27 409.3 23.7 C411.28 24.13 413.57 24.87 415.2 25.7 C416.83 26.53 417.95 27.05 419.1 28.7 C420.25 30.35 421.28 33.15 422.1 35.6 C422.92 38.05 423.25 40.45 424 43.4 C424.75 46.35 425.77 50.53 426.6 53.3 C427.43 56.07 428.3 58.15 429 60 C429.7 61.85 429.5 62.67 430.8 64.4 C432.1 66.13 434.2 68.6 436.8 70.4 C439.4 72.2 443.2 73.8 446.4 75.2 C449.6 76.6 453.4 77.6 456 78.8 C458.6 80 460.2 80.6 462 82.4 C463.8 84.2 465.4 86.8 466.8 89.6 C468.2 92.4 469.2 96.58 470.4 99.2 C471.6 101.82 472.4 104 474 105.3 C475.6 106.6 477 106.6 480 107 C483 107.4 487.67 107.53 492 107.7 C496.33 107.87 503.67 107.95 506 108" stroke="#333" stroke-width="0.9" fill="none" stroke-linejoin="round" />
<path d="M358 12.9 C359.63 13.22 364.18 14.25 367.8 14.8 C371.42 15.35 375.75 15.7 379.7 16.2 C383.65 16.7 388.38 17.27 391.5 17.8 C394.62 18.33 396.43 18.8 398.4 19.4 C400.37 20 401.82 20.68 403.3 21.4 C404.78 22.12 405.98 22.33 407.3 23.7 C408.62 25.07 409.88 27.47 411.2 29.6 C412.52 31.73 413.55 33.87 415.2 36.5 C416.85 39.13 419.13 42.43 421.1 45.4 C423.07 48.37 425.18 51.73 427 54.3 C428.82 56.87 429.17 58.72 432 60.8 C434.83 62.88 440 64.8 444 66.8 C448 68.8 452 70.55 456 72.8 C460 75.05 464.4 78 468 80.3 C471.6 82.6 474.82 85.07 477.6 86.6 C480.38 88.13 479.97 88.88 484.7 89.5 C489.43 90.12 502.45 90.17 506 90.3" stroke="#ff2a2a" stroke-width="0.9" fill="none" stroke-linejoin="round" />
<rect x="358.5" y="3.3" width="147.7" height="113.6" fill="none" stroke="#000" stroke-width="1.6" />
<line x1="358.5" y1="116" x2="360.7" y2="116" stroke="#000" stroke-width="0.9" />
<line x1="358.5" y1="105.69" x2="359.9" y2="105.69" stroke="#000" stroke-width="0.9" />
<line x1="358.5" y1="95.38" x2="360.7" y2="95.38" stroke="#000" stroke-width="0.9" />
<line x1="358.5" y1="85.07" x2="359.9" y2="85.07" stroke="#000" stroke-width="0.9" />
<line x1="358.5" y1="74.76" x2="360.7" y2="74.76" stroke="#000" stroke-width="0.9" />
<line x1="358.5" y1="64.45" x2="359.9" y2="64.45" stroke="#000" stroke-width="0.9" />
<line x1="358.5" y1="54.14" x2="360.7" y2="54.14" stroke="#000" stroke-width="0.9" />
<line x1="358.5" y1="43.83" x2="359.9" y2="43.83" stroke="#000" stroke-width="0.9" />
<line x1="358.5" y1="33.52" x2="360.7" y2="33.52" stroke="#000" stroke-width="0.9" />
<line x1="358.5" y1="23.21" x2="359.9" y2="23.21" stroke="#000" stroke-width="0.9" />
<line x1="358.5" y1="12.9" x2="360.7" y2="12.9" stroke="#000" stroke-width="0.9" />
<text transform="translate(355 118.3) scale(1 1.06)" font-size="8" fill="#000" text-anchor="end" >0</text>
<text transform="translate(355 97.68) scale(1 1.06)" font-size="8" fill="#000" text-anchor="end" >20</text>
<text transform="translate(355 77.06) scale(1 1.06)" font-size="8" fill="#000" text-anchor="end" >40</text>
<text transform="translate(355 56.44) scale(1 1.06)" font-size="8" fill="#000" text-anchor="end" >60</text>
<text transform="translate(355 35.82) scale(1 1.06)" font-size="8" fill="#000" text-anchor="end" >80</text>
<text transform="translate(355 14.4) scale(1 1.06)" font-size="8" fill="#000" text-anchor="end" >100</text>
<line x1="363.95" y1="116.9" x2="363.95" y2="115.5" stroke="#000" stroke-width="0.9" />
<line x1="376.9" y1="116.9" x2="376.9" y2="114.7" stroke="#000" stroke-width="0.9" />
<line x1="389.85" y1="116.9" x2="389.85" y2="115.5" stroke="#000" stroke-width="0.9" />
<line x1="402.8" y1="116.9" x2="402.8" y2="114.7" stroke="#000" stroke-width="0.9" />
<line x1="415.75" y1="116.9" x2="415.75" y2="115.5" stroke="#000" stroke-width="0.9" />
<line x1="428.7" y1="116.9" x2="428.7" y2="114.7" stroke="#000" stroke-width="0.9" />
<line x1="441.65" y1="116.9" x2="441.65" y2="115.5" stroke="#000" stroke-width="0.9" />
<line x1="454.6" y1="116.9" x2="454.6" y2="114.7" stroke="#000" stroke-width="0.9" />
<line x1="467.55" y1="116.9" x2="467.55" y2="115.5" stroke="#000" stroke-width="0.9" />
<line x1="480.5" y1="116.9" x2="480.5" y2="114.7" stroke="#000" stroke-width="0.9" />
<line x1="493.45" y1="116.9" x2="493.45" y2="115.5" stroke="#000" stroke-width="0.9" />
<text transform="translate(376.6 127) scale(1 1.06)" font-size="8.2" fill="#000" text-anchor="middle" >100</text>
<text transform="translate(402.5 127) scale(1 1.06)" font-size="8.2" fill="#000" text-anchor="middle" >200</text>
<text transform="translate(428.4 127) scale(1 1.06)" font-size="8.2" fill="#000" text-anchor="middle" >300</text>
<text transform="translate(454.3 127) scale(1 1.06)" font-size="8.2" fill="#000" text-anchor="middle" >400</text>
<text transform="translate(480.2 127) scale(1 1.06)" font-size="8.2" fill="#000" text-anchor="middle" >500</text>
<text transform="translate(506.1 127) scale(1 1.06)" font-size="8.2" fill="#000" text-anchor="middle" >600</text>
<text transform="translate(432.2 134.7) scale(1 1.06)" font-size="9.88" fill="#000" text-anchor="middle" >Temperature (°C)</text>
<text font-size="9.75" fill="#000" text-anchor="middle" transform="translate(344.5 58.6) rotate(-90) scale(1 1.12)">Weight (%)</text>
<text transform="translate(336.2 6.8) scale(1 1.06)" font-size="9.6" fill="#000" text-anchor="start" >(C)</text>
<line x1="457.5" y1="10.5" x2="470" y2="10.5" stroke="#333" stroke-width="0.9" />
<text transform="translate(472.5 13.5) scale(1 1.06)" font-size="7.6" fill="#000" text-anchor="start" >WP</text>
<line x1="457.5" y1="17.5" x2="470" y2="17.5" stroke="#ff2a2a" stroke-width="0.9" />
<text transform="translate(472.5 20.6) scale(1 1.06)" font-size="7.6" fill="#000" text-anchor="start" >Product</text>
<path d="M528.3 52.34 L528.6 51.99 L528.9 52.58 L529.2 51.65 L529.5 52.19 L529.8 51.84 L530.1 51.3 L530.4 51.82 L530.7 51.05 L531 51.49 L531.3 50.87 L531.6 50.79 L531.9 51.14 L532.2 51.59 L532.5 50.5 L532.8 50.52 L533.1 50.98 L533.4 51.31 L533.7 50.68 L534 50.32 L534.3 51.02 L534.6 49.61 L534.9 50.63 L535.2 49.72 L535.5 49.41 L535.8 49.26 L536.1 49.41 L536.4 50.01 L536.7 49.01 L537 49.46 L537.3 49.43 L537.6 48.94 L537.9 49.08 L538.2 48.28 L538.5 48.17 L538.8 48.25 L539.1 48.81 L539.4 48.38 L539.7 48.12 L540 48.36 L540.3 47.98 L540.6 47.5 L540.9 47.82 L541.2 47.18 L541.5 45.9 L541.8 45.59 L542.1 44.66 L542.4 44.25 L542.7 43.22 L543 41.93 L543.3 42.48 L543.6 41.16 L543.9 41.78 L544.2 42.73 L544.5 42.55 L544.8 43.79 L545.1 43.92 L545.4 45.49 L545.7 46.2 L546 46.36 L546.3 47.08 L546.6 46.47 L546.9 47.1 L547.2 46.99 L547.5 46.96 L547.8 46.75 L548.1 47.27 L548.4 47.44 L548.7 46.79 L549 47.08 L549.3 46.25 L549.6 47.16 L549.9 47.09 L550.2 47.59 L550.5 47.36 L550.8 46.59 L551.1 46.66 L551.4 46.85 L551.7 45.43 L552 45.04 L552.3 42.97 L552.6 40.64 L552.9 38.11 L553.2 37.17 L553.5 35.54 L553.8 36.47 L554.1 38.63 L554.4 41.78 L554.7 42.96 L555 45.16 L555.3 46.34 L555.6 47.34 L555.9 47.5 L556.2 47.66 L556.5 46.88 L556.8 47.09 L557.1 47 L557.4 47.68 L557.7 47.58 L558 45.97 L558.3 45.09 L558.6 43.8 L558.9 42.29 L559.2 41.55 L559.5 41.53 L559.8 41.93 L560.1 43.04 L560.4 45.11 L560.7 46.15 L561 47.06 L561.3 47.91 L561.6 47.66 L561.9 47.47 L562.2 47.63 L562.5 47.73 L562.8 46.87 L563.1 48.07 L563.4 47.92 L563.7 48.06 L564 47.97 L564.3 47.42 L564.6 47.44 L564.9 47.04 L565.2 47.79 L565.5 46.99 L565.8 46.99 L566.1 47.19 L566.4 47.13 L566.7 47.38 L567 46.97 L567.3 46.9 L567.6 47.11 L567.9 47.04 L568.2 47.41 L568.5 46.94 L568.8 48.12 L569.1 47.76 L569.4 47.11 L569.7 47.25 L570 47.39 L570.3 47.41 L570.6 47.06 L570.9 48.02 L571.2 47.82 L571.5 45.44 L571.8 40.96 L572.1 32.58 L572.4 25.07 L572.7 24.05 L573 29.99 L573.3 39.12 L573.6 43.81 L573.9 45.51 L574.2 45.35 L574.5 39.06 L574.8 28.42 L575.1 19.23 L575.4 16.75 L575.7 25.27 L576 36.71 L576.3 43.94 L576.6 46.83 L576.9 47.08 L577.2 47.39 L577.5 47.13 L577.8 47.98 L578.1 47.65 L578.4 47.99 L578.7 47.36 L579 47.21 L579.3 48.04 L579.6 48.28 L579.9 48.09 L580.2 48.04 L580.5 48.07 L580.8 47.97 L581.1 47.27 L581.4 47.69 L581.7 47.48 L582 47.03 L582.3 47.05 L582.6 47.41 L582.9 47.4 L583.2 48.02 L583.5 48.4 L583.8 47.7 L584.1 48.4 L584.4 48.46 L584.7 48.32 L585 47.1 L585.3 45.95 L585.6 44.57 L585.9 43.53 L586.2 43.78 L586.5 45.65 L586.8 47.37 L587.1 48.05 L587.4 47.82 L587.7 48.04 L588 47.92 L588.3 46.09 L588.6 45.68 L588.9 45.16 L589.2 45.19 L589.5 46.27 L589.8 47.05 L590.1 47.31 L590.4 48.42 L590.7 47.85 L591 48.53 L591.3 48.79 L591.6 48 L591.9 48.02 L592.2 48.79 L592.5 48.5 L592.8 47.74 L593.1 47.69 L593.4 47.74 L593.7 48.81 L594 48.68 L594.3 47.77 L594.6 48.73 L594.9 48.95 L595.2 48.55 L595.5 48.16 L595.8 48.36 L596.1 47.52 L596.4 46.89 L596.7 47.6 L597 46.53 L597.3 45.98 L597.6 46.6 L597.9 46.42 L598.2 47.87 L598.5 48.73 L598.8 48.67 L599.1 49.32 L599.4 49.78 L599.7 49.97 L600 50.64 L600.3 50.34 L600.6 50.7 L600.9 50.44 L601.2 51.62 L601.5 50.89 L601.8 51.02 L602.1 50.96 L602.4 50.7 L602.7 48.63 L603 47.48 L603.3 45.42 L603.6 45.27 L603.9 46.54 L604.2 47.82 L604.5 50.15 L604.8 50.86 L605.1 51.12 L605.4 52.45 L605.7 51.68 L606 52.18 L606.3 52.61 L606.6 52.45 L606.9 52.2 L607.2 52.54 L607.5 52.67 L607.8 53.06 L608.1 52.18 L608.4 52.89 L608.7 52.53 L609 52.64 L609.3 53.41 L609.6 53.11 L609.9 53.26 L610.2 53.59 L610.5 53.85 L610.8 53.24 L611.1 53.52 L611.4 53.42 L611.7 53.47 L612 53.77 L612.3 53.47 L612.6 53.6 L612.9 53.47 L613.2 53.89 L613.5 53.03 L613.8 52.48 L614.1 51.79 L614.4 50.52 L614.7 51.34 L615 52.75 L615.3 53.5 L615.6 53.13 L615.9 53.42 L616.2 54.02 L616.5 53.57 L616.8 53.86 L617.1 53.67 L617.4 54.55 L617.7 54.75 L618 54.96 L618.3 53.94 L618.6 54.74 L618.9 54.69 L619.2 53.98 L619.5 55.04 L619.8 55.18 L620.1 54.15 L620.4 55.2 L620.7 54.44 L621 54.59 L621.3 55.31 L621.6 55.11 L621.9 54.19 L622.2 54.59 L622.5 54.73 L622.8 54.5 L623.1 54.32 L623.4 54.51 L623.7 55.1 L624 54.14 L624.3 54.91 L624.6 54.77 L624.9 54.2 L625.2 54.65 L625.5 55.08 L625.8 54.95 L626.1 54.33 L626.4 55.6 L626.7 55.25 L627 55.32 L627.3 53.76 L627.6 53.51 L627.9 52.73 L628.2 53.51 L628.5 52.87 L628.8 53.07 L629.1 54.01 L629.4 55.17 L629.7 55.37 L630 54.78 L630.3 54.71 L630.6 55.84 L630.9 55.38 L631.2 55.58 L631.5 54.75 L631.8 54.72 L632.1 55.62 L632.4 55.28 L632.7 54.8 L633 56.04 L633.3 55.63 L633.6 55.89 L633.9 54.9 L634.2 56 L634.5 54.92 L634.8 56.05 L635.1 55.5 L635.4 55.36 L635.7 55.68 L636 56.22 L636.3 55.32 L636.6 55.15 L636.9 55.73 L637.2 55.34 L637.5 55.18 L637.8 55.28 L638.1 55.14 L638.4 55.37 L638.7 55.55 L639 55.56 L639.3 56.22 L639.6 55.58 L639.9 55.89 L640.2 55.46 L640.5 55.7 L640.8 55.25 L641.1 55.59 L641.4 55.27 L641.7 56.29 L642 56.04 L642.3 55.55 L642.6 55.96 L642.9 56.61 L643.2 55.46 L643.5 56.47 L643.8 55.94 L644.1 56.04 L644.4 56.52 L644.7 55.91 L645 56.08 L645.3 56.35 L645.6 56.77 L645.9 55.89 L646.2 56.58 L646.5 56.42 L646.8 56.33 L647.1 56.02 L647.4 55.95 L647.7 55.55 L648 55.66 L648.3 55.58 L648.6 56.52 L648.9 55.82 L649.2 55.63 L649.5 55.39 L649.8 56.23 L650.1 55.98 L650.4 55.37 L650.7 54.57 L651 54.42 L651.3 54.61 L651.6 55.12 L651.9 55.04 L652.2 55.76 L652.5 55.75 L652.8 56.88 L653.1 56.97 L653.4 56.42 L653.7 56.02 L654 57.04 L654.3 56.13 L654.6 56.21 L654.9 55.72 L655.2 56.27 L655.5 56.41 L655.8 56.46 L656.1 56.04 L656.4 56.48 L656.7 55.79 L657 56.16 L657.3 55.93 L657.6 56.38 L657.9 55.88 L658.2 55.87 L658.5 56.27 L658.8 56.18 L659.1 56.69 L659.4 56.62 L659.7 56.94 L660 56.82 L660.3 56.92 L660.6 57.16 L660.9 56.48 L661.2 56.41 L661.5 57.34 L661.8 56.19 L662.1 57 L662.4 56.9 L662.7 56.08 L663 57.2 L663.3 57.29 L663.6 56.93 L663.9 57.09 L664.2 57.22 L664.5 56.29 L664.8 56.84 L665.1 56.82 L665.4 57.3 L665.7 57.27 L666 57.31 L666.3 56.98 L666.6 57.43 L666.9 57.15 L667.2 57.18 L667.5 56.54 L667.8 56.27 L668.1 56.43 L668.4 56.76 L668.7 56.42 L669 57.45 L669.3 57.08 L669.6 57.19 L669.9 57.2 L670.2 57.29 L670.5 57.03 L670.8 56.36 L671.1 57.49 L671.4 57.43 L671.7 57.1 L672 57.16 L672.3 57.34 L672.6 56.53 L672.9 57.48 L673.2 56.81 L673.5 56.58 L673.8 56.86 L674.1 57.52 L674.4 56.8 L674.7 57.56 L675 57.9 L675.3 57.24 L675.6 57.1 L675.9 57.25" stroke="#f04848" stroke-width="1.2" fill="none" stroke-linejoin="round" stroke-linecap="round" />
<path d="M528.3 95.31 L528.55 95.01 L528.8 94.32 L529.05 93.92 L529.3 92.52 L529.55 92.19 L529.8 91.93 L530.05 92.26 L530.3 90.77 L530.55 90.47 L530.8 88.77 L531.05 88.1 L531.3 87.71 L531.55 87.67 L531.8 87.11 L532.05 86.48 L532.3 85.22 L532.55 85.01 L532.8 84.32 L533.05 83.72 L533.3 82.53 L533.55 83.25 L533.8 81.47 L534.05 82.21 L534.3 81.64 L534.55 79.58 L534.8 79.83 L535.05 79.94 L535.3 79.7 L535.55 78.31 L535.8 77.51 L536.05 76.91 L536.3 77.66 L536.55 75.9 L536.8 75.98 L537.05 74.68 L537.3 74.78 L537.55 74.96 L537.8 73.02 L538.05 73.63 L538.3 72.55 L538.55 72.65 L538.8 71.79 L539.05 70.48 L539.3 71.27 L539.55 70.23 L539.8 69.1 L540.05 68.72 L540.3 69.21 L540.55 68.8 L540.8 68.21 L541.05 67.59 L541.3 67.63 L541.55 67.31 L541.8 67.93 L542.05 66.23 L542.3 67.23 L542.55 67.11 L542.8 65.61 L543.05 66.71 L543.3 66.08 L543.55 66.29 L543.8 65.76 L544.05 66.42 L544.3 66.98 L544.55 68.52 L544.8 68.34 L545.05 68.47 L545.3 69.11 L545.55 69.36 L545.8 69.5 L546.05 70.11 L546.3 71.87 L546.55 71.45 L546.8 73.08 L547.05 72.43 L547.3 72.97 L547.55 73.91 L547.8 73.54 L548.05 73.51 L548.3 74.15 L548.55 73.69 L548.8 73.23 L549.05 72.58 L549.3 72.71 L549.55 72.42 L549.8 71.41 L550.05 71.36 L550.3 69.88 L550.55 70.69 L550.8 69.87 L551.05 70.05 L551.3 69.52 L551.55 68.57 L551.8 67.84 L552.05 69.01 L552.3 67.33 L552.55 67.59 L552.8 67.05 L553.05 66.65 L553.3 67.07 L553.55 67.15 L553.8 65.61 L554.05 65.96 L554.3 65.03 L554.55 65.14 L554.8 64.54 L555.05 63.83 L555.3 63.83 L555.55 64.43 L555.8 66.13 L556.05 65.96 L556.3 66 L556.55 67.69 L556.8 68.36 L557.05 67.95 L557.3 67.94 L557.55 68.54 L557.8 68.89 L558.05 69.85 L558.3 70.03 L558.55 70.89 L558.8 71.52 L559.05 72.66 L559.3 73.8 L559.55 74.17 L559.8 74.21 L560.05 74.81 L560.3 75.61 L560.55 75.96 L560.8 76.5 L561.05 76.63 L561.3 77.19 L561.55 78.45 L561.8 77.11 L562.05 77.84 L562.3 78.14 L562.55 78.62 L562.8 77.61 L563.05 77.79 L563.3 77.84 L563.55 78.18 L563.8 78.35 L564.05 79.3 L564.3 79.21 L564.55 79.34 L564.8 77.98 L565.05 78.08 L565.3 79.32 L565.55 79.57 L565.8 78.68 L566.05 78.7 L566.3 77.53 L566.55 78.02 L566.8 78.75 L567.05 78.41 L567.3 78.28 L567.55 78.31 L567.8 76.91 L568.05 76.5 L568.3 76.4 L568.55 76.85 L568.8 76.95 L569.05 77.23 L569.3 76.77 L569.55 76.55 L569.8 76.66 L570.05 76.04 L570.3 76.11 L570.55 75.15 L570.8 76.32 L571.05 75.3 L571.3 76.37 L571.55 75.81 L571.8 75.14 L572.05 74.75 L572.3 74.87 L572.55 75.43 L572.8 75.45 L573.05 74.36 L573.3 74.35 L573.55 75.23 L573.8 75.43 L574.05 75.2 L574.3 75.02 L574.55 75.76 L574.8 74.86 L575.05 75.46 L575.3 75.83 L575.55 76.78 L575.8 76.35 L576.05 76.86 L576.3 76.26 L576.55 75.96 L576.8 76.08 L577.05 77.4 L577.3 77.06 L577.55 76.49 L577.8 76.11 L578.05 77.03 L578.3 77.48 L578.55 77.2 L578.8 77.08 L579.05 77.93 L579.3 78.52 L579.55 77.49 L579.8 77.31 L580.05 77.98 L580.3 78.28 L580.55 78.88 L580.8 78.21 L581.05 79.38 L581.3 79.43 L581.55 79.19 L581.8 78.83 L582.05 80.29 L582.3 79.32 L582.55 80.34 L582.8 79.49 L583.05 79.63 L583.3 80.7 L583.55 80.06 L583.8 81.35 L584.05 80.78 L584.3 80.46 L584.55 80.72 L584.8 81.26 L585.05 81.88 L585.3 82.57 L585.55 81.41 L585.8 82.03 L586.05 81.93 L586.3 83.43 L586.55 82.22 L586.8 82.27 L587.05 82.49 L587.3 83.26 L587.55 84.32 L587.8 84.5 L588.05 84.45 L588.3 85.1 L588.55 85.19 L588.8 84.28 L589.05 84.12 L589.3 85.49 L589.55 85.25 L589.8 84.12 L590.05 85.29 L590.3 84.89 L590.55 84.97 L590.8 84.99 L591.05 84.8 L591.3 84.6 L591.55 85.16 L591.8 85.37 L592.05 86.48 L592.3 85.16 L592.55 86.67 L592.8 85.48 L593.05 85.82 L593.3 86.69 L593.55 86.78 L593.8 86.21 L594.05 85.64 L594.3 86.45 L594.55 86.37 L594.8 87.39 L595.05 86.24 L595.3 86.62 L595.55 87.61 L595.8 86.23 L596.05 86.96 L596.3 87.73 L596.55 87.74 L596.8 86.59 L597.05 86.66 L597.3 86.79 L597.55 88.34 L597.8 87.29 L598.05 88.21 L598.3 88.55 L598.55 87.69 L598.8 87.66 L599.05 88.91 L599.3 88.41 L599.55 87.89 L599.8 88.75 L600.05 88.15 L600.3 88.17 L600.55 87.79 L600.8 89.15 L601.05 89.51 L601.3 89.11 L601.55 89.72 L601.8 88.25 L602.05 88.69 L602.3 89.18 L602.55 90.08 L602.8 90.16 L603.05 89.28 L603.3 89.14 L603.55 89.53 L603.8 89.72 L604.05 90.54 L604.3 89.36 L604.55 90.5 L604.8 90.54 L605.05 90.85 L605.3 90.94 L605.55 90.82 L605.8 90.52 L606.05 90.67 L606.3 90.91 L606.55 91.8 L606.8 90.77 L607.05 91.14 L607.3 92.25 L607.55 91.56 L607.8 91.42 L608.05 91.54 L608.3 92.59 L608.55 92.37 L608.8 93.65 L609.05 93.66 L609.3 94 L609.55 92.94 L609.8 92.81 L610.05 93 L610.3 93.85 L610.55 94.38 L610.8 94.1 L611.05 93.91 L611.3 94.39 L611.55 94.9 L611.8 95.16 L612.05 95.45 L612.3 95.75 L612.55 95.58 L612.8 94.8 L613.05 96.16 L613.3 95.36 L613.55 95.97 L613.8 95.77 L614.05 96.53 L614.3 95.75 L614.55 95.97 L614.8 96.11 L615.05 96.09 L615.3 97.47 L615.55 97.09 L615.8 96.79 L616.05 97.05 L616.3 98.2 L616.55 97.51 L616.8 97.18 L617.05 98.3 L617.3 98.18 L617.55 98.89 L617.8 97.51 L618.05 98.28 L618.3 99.01 L618.55 99.18 L618.8 99.44 L619.05 98.1 L619.3 98.66 L619.55 98.51 L619.8 98.76 L620.05 100.22 L620.3 99.63 L620.55 100.3 L620.8 99.42 L621.05 100.34 L621.3 99.7 L621.55 99.46 L621.8 100.41 L622.05 100.77 L622.3 99.42 L622.55 100.33 L622.8 100.44 L623.05 99.83 L623.3 100.17 L623.55 99.86 L623.8 100.04 L624.05 100.2 L624.3 100.86 L624.55 101.02 L624.8 100.34 L625.05 100.08 L625.3 100.7 L625.55 101.37 L625.8 100.6 L626.05 100.9 L626.3 100.79 L626.55 101.87 L626.8 101.52 L627.05 100.77 L627.3 100.91 L627.55 101.49 L627.8 101.83 L628.05 102.05 L628.3 101.19 L628.55 101.39 L628.8 102.37 L629.05 101.96 L629.3 101.82 L629.55 101.94 L629.8 103.11 L630.05 102.09 L630.3 102.57 L630.55 102.26 L630.8 102.4 L631.05 103.21 L631.3 103.48 L631.55 102.45 L631.8 102.21 L632.05 103.16 L632.3 102.31 L632.55 102.02 L632.8 103.59 L633.05 102.82 L633.3 103.54 L633.55 102.88 L633.8 103.73 L634.05 103.06 L634.3 102.6 L634.55 102.39 L634.8 103.35 L635.05 103.55 L635.3 104.05 L635.55 102.7 L635.8 103.65 L636.05 103.27 L636.3 103.54 L636.55 102.98 L636.8 103.26 L637.05 103.7 L637.3 104.44 L637.55 103.09 L637.8 103.79 L638.05 104.37 L638.3 104.69 L638.55 103.42 L638.8 103.35 L639.05 104.78 L639.3 104.88 L639.55 104.09 L639.8 103.4 L640.05 104.93 L640.3 104.04 L640.55 104.94 L640.8 104.48 L641.05 104.86 L641.3 103.75 L641.55 104.84 L641.8 103.91 L642.05 104.24 L642.3 105.02 L642.55 105.01 L642.8 103.94 L643.05 104.03 L643.3 104.36 L643.55 104.59 L643.8 104.38 L644.05 103.96 L644.3 104.2 L644.55 105.04 L644.8 105.36 L645.05 103.92 L645.3 104.84 L645.55 105.19 L645.8 103.99 L646.05 105.38 L646.3 104.18 L646.55 105.02 L646.8 104.97 L647.05 105.12 L647.3 104.6 L647.55 104.82 L647.8 105.12 L648.05 104.88 L648.3 105.3 L648.55 104.96 L648.8 104.98 L649.05 104.29 L649.3 105.33 L649.55 105.14 L649.8 104.73 L650.05 105.65 L650.3 105.69 L650.55 105.16 L650.8 104.7 L651.05 105.22 L651.3 104.61 L651.55 104.66 L651.8 105.19 L652.05 104.63 L652.3 105.24 L652.55 105.37 L652.8 104.59 L653.05 105.61 L653.3 104.69 L653.55 105.81 L653.8 105.9 L654.05 105.46 L654.3 104.7 L654.55 105.48 L654.8 105.28 L655.05 106.27 L655.3 104.9 L655.55 106.14 L655.8 106.39 L656.05 105.96 L656.3 106.11 L656.55 105.07 L656.8 106.43 L657.05 105.61 L657.3 106.41 L657.55 106.36 L657.8 105.1 L658.05 106.17 L658.3 106.43 L658.55 104.97 L658.8 105.47 L659.05 106.18 L659.3 105.18 L659.55 106.45 L659.8 105.41 L660.05 106.34 L660.3 105.2 L660.55 105.82 L660.8 106.54 L661.05 105.34 L661.3 105.44 L661.55 105.86 L661.8 105.55 L662.05 105.08 L662.3 105.33 L662.55 105.3 L662.8 106.63 L663.05 106.2 L663.3 106.58 L663.55 105.35 L663.8 106.4 L664.05 105.27 L664.3 105.99 L664.55 106.17 L664.8 105.71 L665.05 106.59 L665.3 106.06 L665.55 106.11 L665.8 106.63 L666.05 105.32 L666.3 106.83 L666.55 106.23 L666.8 105.83 L667.05 106.53 L667.3 105.63 L667.55 106.87 L667.8 106.18 L668.05 105.81 L668.3 106.51 L668.55 105.97 L668.8 105.53 L669.05 106.5 L669.3 105.32 L669.55 106.64 L669.8 105.69 L670.05 106.35 L670.3 106.94 L670.55 106.28 L670.8 106.42 L671.05 105.83 L671.3 105.31 L671.55 105.37 L671.8 105.57 L672.05 106.37 L672.3 106.07 L672.55 106.21 L672.8 106.87 L673.05 105.58 L673.3 105.75 L673.55 106.48 L673.8 105.42 L674.05 105.39 L674.3 106 L674.55 105.59 L674.8 106.02 L675.05 105.8 L675.3 106.42 L675.55 106.44 L675.8 105.79" stroke="#585858" stroke-width="1.4" fill="none" stroke-linejoin="round" stroke-linecap="round" />
<circle cx="543.5" cy="38.5" r="2.1" fill="#0000ff"/>
<circle cx="553.5" cy="32.5" r="2.1" fill="#0000ff"/>
<circle cx="572.75" cy="19.75" r="2.1" fill="#0000ff"/>
<circle cx="575.5" cy="13.25" r="2.1" fill="#0000ff"/>
<circle cx="597.5" cy="42" r="2.1" fill="#0000ff"/>
<circle cx="646.3" cy="12" r="2.1" fill="#0000ff"/>
<text x="648.8" y="14.8" font-size="7.3" font-weight="bold">K<tspan font-size="4.2" dy="1.2">2</tspan><tspan dy="-1.2">SO</tspan><tspan font-size="4.2" dy="1.2">4</tspan></text>
<rect x="528.2" y="3" width="147.6" height="113.3" fill="none" stroke="#000" stroke-width="1.6" />
<line x1="539.55" y1="116.3" x2="539.55" y2="114.9" stroke="#000" stroke-width="0.9" />
<line x1="550.9" y1="116.3" x2="550.9" y2="114.1" stroke="#000" stroke-width="0.9" />
<line x1="562.25" y1="116.3" x2="562.25" y2="114.9" stroke="#000" stroke-width="0.9" />
<line x1="573.6" y1="116.3" x2="573.6" y2="114.1" stroke="#000" stroke-width="0.9" />
<line x1="584.95" y1="116.3" x2="584.95" y2="114.9" stroke="#000" stroke-width="0.9" />
<line x1="596.3" y1="116.3" x2="596.3" y2="114.1" stroke="#000" stroke-width="0.9" />
<line x1="607.65" y1="116.3" x2="607.65" y2="114.9" stroke="#000" stroke-width="0.9" />
<line x1="619" y1="116.3" x2="619" y2="114.1" stroke="#000" stroke-width="0.9" />
<line x1="630.35" y1="116.3" x2="630.35" y2="114.9" stroke="#000" stroke-width="0.9" />
<line x1="641.7" y1="116.3" x2="641.7" y2="114.1" stroke="#000" stroke-width="0.9" />
<line x1="653.05" y1="116.3" x2="653.05" y2="114.9" stroke="#000" stroke-width="0.9" />
<line x1="664.4" y1="116.3" x2="664.4" y2="114.1" stroke="#000" stroke-width="0.9" />
<line x1="675.75" y1="116.3" x2="675.75" y2="114.9" stroke="#000" stroke-width="0.9" />
<text transform="translate(528.8 126.2) scale(1 1.06)" font-size="8" fill="#000" text-anchor="middle" >10</text>
<text transform="translate(551.5 126.2) scale(1 1.06)" font-size="8" fill="#000" text-anchor="middle" >20</text>
<text transform="translate(574.2 126.2) scale(1 1.06)" font-size="8" fill="#000" text-anchor="middle" >30</text>
<text transform="translate(596.9 126.2) scale(1 1.06)" font-size="8" fill="#000" text-anchor="middle" >40</text>
<text transform="translate(619.6 126.2) scale(1 1.06)" font-size="8" fill="#000" text-anchor="middle" >50</text>
<text transform="translate(642.3 126.2) scale(1 1.06)" font-size="8" fill="#000" text-anchor="middle" >60</text>
<text transform="translate(665 126.2) scale(1 1.06)" font-size="8" fill="#000" text-anchor="middle" >70</text>
<text transform="translate(605.5 136.3) scale(1 1.06)" font-size="9.77" fill="#000" text-anchor="middle" >2θ (degree)</text>
<text font-size="9.8" fill="#000" text-anchor="middle" transform="translate(524.2 63) rotate(-90) scale(1 1.12)">Intensity (arb. units)</text>
<text transform="translate(511.8 7.4) scale(1 1.06)" font-size="9.4" fill="#000" text-anchor="start" >(D)</text>
<text transform="translate(637.8 53.8) scale(1 1.06)" font-size="9.56" fill="#000" text-anchor="start" >Product</text>
<text transform="translate(637.8 99.7) scale(1 1.06)" font-size="9.31" fill="#000" text-anchor="start" >WP</text>
<rect x="16.7" y="141" width="151.3" height="122.6" fill="#fcfbf0" stroke="none" stroke-width="1" />
<path d="M17.3 253.65 L17.7 253.64 L18.1 253.62 L18.5 253.6 L18.9 253.58 L19.3 253.56 L19.7 253.53 L20.1 253.5 L20.5 253.47 L20.9 253.43 L21.3 253.39 L21.7 253.35 L22.1 253.3 L22.5 253.24 L22.9 253.19 L23.3 253.13 L23.7 253.07 L24.1 253 L24.5 252.93 L24.9 252.87 L25.3 252.8 L25.7 252.73 L26.1 252.66 L26.5 252.59 L26.9 252.53 L27.3 252.48 L27.7 252.42 L28.1 252.38 L28.5 252.34 L28.9 252.32 L29.3 252.3 L29.7 252.3 L30.1 252.3 L30.5 252.32 L30.9 252.35 L31.3 252.38 L31.7 252.43 L32.1 252.48 L32.5 252.54 L32.9 252.61 L33.3 252.68 L33.7 252.75 L34.1 252.82 L34.5 252.9 L34.9 252.97 L35.3 253.05 L35.7 253.12 L36.1 253.19 L36.5 253.26 L36.9 253.32 L37.3 253.38 L37.7 253.44 L38.1 253.49 L38.5 253.54 L38.9 253.58 L39.3 253.62 L39.7 253.66 L40.1 253.7 L40.5 253.73 L40.9 253.75 L41.3 253.78 L41.7 253.8 L42.1 253.82 L42.5 253.84 L42.9 253.85 L43.3 253.87 L43.7 253.88 L44.1 253.89 L44.5 253.9 L44.9 253.91 L45.3 253.91 L45.7 253.92 L46.1 253.93 L46.5 253.93 L46.9 253.94 L47.3 253.94 L47.7 253.94 L48.1 253.95 L48.5 253.95 L48.9 253.95 L49.3 253.96 L49.7 253.96 L50.1 253.96 L50.5 253.96 L50.9 253.96 L51.3 253.97 L51.7 253.97 L52.1 253.97 L52.5 253.97 L52.9 253.97 L53.3 253.97 L53.7 253.97 L54.1 253.97 L54.5 253.97 L54.9 253.97 L55.3 253.97 L55.7 253.97 L56.1 253.97 L56.5 253.97 L56.9 253.97 L57.3 253.97 L57.7 253.97 L58.1 253.97 L58.5 253.97 L58.9 253.97 L59.3 253.96 L59.7 253.96 L60.1 253.96 L60.5 253.96 L60.9 253.95 L61.3 253.95 L61.7 253.95 L62.1 253.94 L62.5 253.94 L62.9 253.93 L63.3 253.93 L63.7 253.92 L64.1 253.91 L64.5 253.91 L64.9 253.9 L65.3 253.89 L65.7 253.88 L66.1 253.86 L66.5 253.85 L66.9 253.83 L67.3 253.82 L67.7 253.8 L68.1 253.77 L68.5 253.75 L68.9 253.72 L69.3 253.68 L69.7 253.65 L70.1 253.6 L70.5 253.56 L70.9 253.5 L71.3 253.44 L71.7 253.37 L72.1 253.3 L72.5 253.21 L72.9 253.12 L73.3 253.01 L73.7 252.9 L74.1 252.77 L74.5 252.63 L74.9 252.48 L75.3 252.32 L75.7 252.14 L76.1 251.95 L76.5 251.74 L76.9 251.52 L77.3 251.28 L77.7 251.03 L78.1 250.77 L78.5 250.5 L78.9 250.21 L79.3 249.91 L79.7 249.6 L80.1 249.28 L80.5 248.96 L80.9 248.63 L81.3 248.3 L81.7 247.97 L82.1 247.65 L82.5 247.32 L82.9 247.01 L83.3 246.71 L83.7 246.42 L84.1 246.15 L84.5 245.89 L84.9 245.67 L85.3 245.47 L85.7 245.3 L86.1 245.15 L86.5 245.05 L86.9 244.97 L87.3 244.94 L87.7 244.93 L88.1 244.96 L88.5 245.02 L88.9 245.11 L89.3 245.23 L89.7 245.37 L90.1 245.53 L90.5 245.71 L90.9 245.9 L91.3 246.09 L91.7 246.29 L92.1 246.48 L92.5 246.67 L92.9 246.84 L93.3 247 L93.7 247.14 L94.1 247.24 L94.5 247.32 L94.9 247.36 L95.3 247.36 L95.7 247.31 L96.1 247.21 L96.5 247.05 L96.9 246.83 L97.3 246.54 L97.7 246.18 L98.1 245.75 L98.5 245.23 L98.9 244.64 L99.3 243.95 L99.7 243.17 L100.1 242.29 L100.5 241.31 L100.9 240.24 L101.3 239.05 L101.7 237.77 L102.1 236.38 L102.5 234.88 L102.9 233.29 L103.3 231.59 L103.7 229.79 L104.1 227.9 L104.5 225.92 L104.9 223.86 L105.3 221.72 L105.7 219.52 L106.1 217.27 L106.5 214.98 L106.9 212.65 L107.3 210.31 L107.7 207.97 L108.1 205.64 L108.5 203.35 L108.9 201.1 L109.3 198.92 L109.7 196.83 L110.1 194.84 L110.5 192.97 L110.9 191.25 L111.3 189.68 L111.7 188.29 L112.1 187.08 L112.5 186.08 L112.9 185.28 L113.3 184.7 L113.7 184.35 L114.1 184.2 L114.5 184.27 L114.9 184.55 L115.3 185.02 L115.7 185.66 L116.1 186.46 L116.5 187.39 L116.9 188.43 L117.3 189.57 L117.7 190.77 L118.1 192.01 L118.5 193.27 L118.9 194.54 L119.3 195.79 L119.7 197.02 L120.1 198.21 L120.5 199.37 L120.9 200.48 L121.3 201.55 L121.7 202.58 L122.1 203.57 L122.5 204.52 L122.9 205.45 L123.3 206.34 L123.7 207.21 L124.1 208.05 L124.5 208.86 L124.9 209.63 L125.3 210.35 L125.7 211.04 L126.1 211.67 L126.5 212.24 L126.9 212.76 L127.3 213.21 L127.7 213.61 L128.1 213.95 L128.5 214.25 L128.9 214.52 L129.3 214.77 L129.7 215.01 L130.1 215.26 L130.5 215.53 L130.9 215.85 L131.3 216.22 L131.7 216.66 L132.1 217.17 L132.5 217.77 L132.9 218.46 L133.3 219.24 L133.7 220.12 L134.1 221.08 L134.5 222.12 L134.9 223.24 L135.3 224.42 L135.7 225.67 L136.1 226.96 L136.5 228.29 L136.9 229.65 L137.3 231.02 L137.7 232.4 L138.1 233.77 L138.5 235.13 L138.9 236.47 L139.3 237.77 L139.7 239.04 L140.1 240.27 L140.5 241.44 L140.9 242.56 L141.3 243.63 L141.7 244.63 L142.1 245.58 L142.5 246.46 L142.9 247.28 L143.3 248.04 L143.7 248.74 L144.1 249.38 L144.5 249.97 L144.9 250.5 L145.3 250.99 L145.7 251.42 L146.1 251.81 L146.5 252.16 L146.9 252.47 L147.3 252.75 L147.7 253 L148.1 253.21 L148.5 253.41 L148.9 253.58 L149.3 253.72 L149.7 253.86 L150.1 253.97 L150.5 254.07 L150.9 254.16 L151.3 254.24 L151.7 254.31 L152.1 254.37 L152.5 254.42 L152.9 254.47 L153.3 254.52 L153.7 254.56 L154.1 254.59 L154.5 254.63 L154.9 254.66 L155.3 254.68 L155.7 254.71 L156.1 254.73 L156.5 254.76 L156.9 254.78 L157.3 254.8 L157.7 254.82 L158.1 254.84 L158.5 254.86 L158.9 254.87 L159.3 254.89 L159.7 254.91 L160.1 254.92 L160.5 254.94 L160.9 254.95 L161.3 254.97 L161.7 254.98 L162.1 255 L162.5 255.01 L162.9 255.03 L163.3 255.04 L163.7 255.05 L164.1 255.06 L164.5 255.08 L164.9 255.09 L165.3 255.1 L165.7 255.11 L166.1 255.13 L166.5 255.14 L166.9 255.15 L167.3 255.16" stroke="#ffb8cc" stroke-width="1.5" fill="none" stroke-linejoin="round" stroke-linecap="round" />
<path d="M17.3 253.76 L17.7 253.75 L18.1 253.73 L18.5 253.72 L18.9 253.7 L19.3 253.67 L19.7 253.65 L20.1 253.62 L20.5 253.59 L20.9 253.55 L21.3 253.51 L21.7 253.46 L22.1 253.42 L22.5 253.37 L22.9 253.31 L23.3 253.25 L23.7 253.19 L24.1 253.13 L24.5 253.06 L24.9 252.99 L25.3 252.93 L25.7 252.86 L26.1 252.79 L26.5 252.73 L26.9 252.67 L27.3 252.61 L27.7 252.56 L28.1 252.52 L28.5 252.48 L28.9 252.46 L29.3 252.44 L29.7 252.44 L30.1 252.45 L30.5 252.47 L30.9 252.49 L31.3 252.53 L31.7 252.58 L32.1 252.64 L32.5 252.7 L32.9 252.77 L33.3 252.84 L33.7 252.91 L34.1 252.99 L34.5 253.06 L34.9 253.14 L35.3 253.21 L35.7 253.29 L36.1 253.36 L36.5 253.43 L36.9 253.49 L37.3 253.56 L37.7 253.62 L38.1 253.67 L38.5 253.72 L38.9 253.77 L39.3 253.81 L39.7 253.85 L40.1 253.89 L40.5 253.92 L40.9 253.95 L41.3 253.98 L41.7 254 L42.1 254.02 L42.5 254.04 L42.9 254.06 L43.3 254.08 L43.7 254.09 L44.1 254.1 L44.5 254.12 L44.5 254.2 L44.1 254.2 L43.7 254.19 L43.3 254.19 L42.9 254.18 L42.5 254.18 L42.1 254.18 L41.7 254.17 L41.3 254.17 L40.9 254.16 L40.5 254.16 L40.1 254.15 L39.7 254.15 L39.3 254.15 L38.9 254.14 L38.5 254.14 L38.1 254.13 L37.7 254.13 L37.3 254.12 L36.9 254.12 L36.5 254.11 L36.1 254.11 L35.7 254.11 L35.3 254.1 L34.9 254.1 L34.5 254.09 L34.1 254.09 L33.7 254.08 L33.3 254.08 L32.9 254.07 L32.5 254.07 L32.1 254.07 L31.7 254.06 L31.3 254.06 L30.9 254.05 L30.5 254.05 L30.1 254.04 L29.7 254.04 L29.3 254.04 L28.9 254.03 L28.5 254.03 L28.1 254.02 L27.7 254.02 L27.3 254.01 L26.9 254.01 L26.5 254 L26.1 254 L25.7 254 L25.3 253.99 L24.9 253.99 L24.5 253.98 L24.1 253.98 L23.7 253.97 L23.3 253.97 L22.9 253.96 L22.5 253.96 L22.1 253.96 L21.7 253.95 L21.3 253.95 L20.9 253.94 L20.5 253.94 L20.1 253.93 L19.7 253.93 L19.3 253.93 L18.9 253.92 L18.5 253.92 L18.1 253.91 L17.7 253.91 L17.3 253.9 Z" fill="url(#gp)" stroke="none"/>
<path d="M17.3 253.76 L17.7 253.75 L18.1 253.73 L18.5 253.72 L18.9 253.7 L19.3 253.67 L19.7 253.65 L20.1 253.62 L20.5 253.59 L20.9 253.55 L21.3 253.51 L21.7 253.46 L22.1 253.42 L22.5 253.37 L22.9 253.31 L23.3 253.25 L23.7 253.19 L24.1 253.13 L24.5 253.06 L24.9 252.99 L25.3 252.93 L25.7 252.86 L26.1 252.79 L26.5 252.73 L26.9 252.67 L27.3 252.61 L27.7 252.56 L28.1 252.52 L28.5 252.48 L28.9 252.46 L29.3 252.44 L29.7 252.44 L30.1 252.45" stroke="#c860d8" stroke-width="1.3" fill="none" stroke-linejoin="round" stroke-linecap="round" />
<path d="M29.7 252.44 L30.1 252.45 L30.5 252.47 L30.9 252.49 L31.3 252.53 L31.7 252.58 L32.1 252.64 L32.5 252.7 L32.9 252.77 L33.3 252.84 L33.7 252.91 L34.1 252.99 L34.5 253.06 L34.9 253.14 L35.3 253.21 L35.7 253.29 L36.1 253.36 L36.5 253.43 L36.9 253.49 L37.3 253.56 L37.7 253.62 L38.1 253.67 L38.5 253.72 L38.9 253.77 L39.3 253.81 L39.7 253.85 L40.1 253.89 L40.5 253.92 L40.9 253.95 L41.3 253.98 L41.7 254 L42.1 254.02 L42.5 254.04 L42.9 254.06 L43.3 254.08 L43.7 254.09 L44.1 254.1 L44.5 254.12" stroke="#c860d8" stroke-width="1.3" fill="none" stroke-linejoin="round" stroke-linecap="round" />
<path d="M53.3 254.22 L53.7 254.22 L54.1 254.22 L54.5 254.23 L54.9 254.23 L55.3 254.23 L55.7 254.23 L56.1 254.23 L56.5 254.24 L56.9 254.24 L57.3 254.24 L57.7 254.24 L58.1 254.24 L58.5 254.24 L58.9 254.25 L59.3 254.25 L59.7 254.25 L60.1 254.25 L60.5 254.25 L60.9 254.25 L61.3 254.25 L61.7 254.25 L62.1 254.25 L62.5 254.25 L62.9 254.25 L63.3 254.25 L63.7 254.25 L64.1 254.24 L64.5 254.24 L64.9 254.23 L65.3 254.23 L65.7 254.22 L66.1 254.22 L66.5 254.21 L66.9 254.2 L67.3 254.18 L67.7 254.17 L68.1 254.15 L68.5 254.13 L68.9 254.11 L69.3 254.08 L69.7 254.05 L70.1 254.01 L70.5 253.97 L70.9 253.93 L71.3 253.87 L71.7 253.81 L72.1 253.74 L72.5 253.67 L72.9 253.58 L73.3 253.48 L73.7 253.38 L74.1 253.26 L74.5 253.13 L74.9 252.99 L75.3 252.83 L75.7 252.66 L76.1 252.48 L76.5 252.28 L76.9 252.07 L77.3 251.85 L77.7 251.61 L78.1 251.36 L78.5 251.1 L78.9 250.82 L79.3 250.53 L79.7 250.24 L80.1 249.94 L80.5 249.63 L80.9 249.31 L81.3 249 L81.7 248.69 L82.1 248.37 L82.5 248.07 L82.9 247.77 L83.3 247.49 L83.7 247.22 L84.1 246.97 L84.5 246.74 L84.9 246.54 L85.3 246.36 L85.7 246.21 L86.1 246.1 L86.5 246.02 L86.9 245.98 L87.3 245.97 L87.7 246.01 L88.1 246.08 L88.5 246.18 L88.9 246.32 L89.3 246.49 L89.7 246.69 L90.1 246.92 L90.5 247.16 L90.9 247.43 L91.3 247.72 L91.7 248.02 L92.1 248.33 L92.5 248.65 L92.9 248.97 L93.3 249.29 L93.7 249.61 L94.1 249.93 L94.5 250.25 L94.9 250.56 L95.3 250.86 L95.7 251.15 L96.1 251.43 L96.5 251.69 L96.9 251.94 L97.3 252.18 L97.7 252.41 L98.1 252.62 L98.5 252.82 L98.9 253.01 L99.3 253.18 L99.7 253.33 L100.1 253.48 L100.5 253.61 L100.9 253.73 L101.3 253.84 L101.7 253.94 L102.1 254.03 L102.5 254.11 L102.9 254.19 L103.3 254.25 L103.7 254.31 L104.1 254.37 L104.5 254.41 L104.9 254.46 L105.3 254.49 L105.7 254.53 L106.1 254.56 L106.5 254.59 L106.9 254.61 L107.3 254.63 L107.7 254.65 L108.1 254.67 L108.5 254.69 L108.9 254.7 L109.3 254.72 L109.7 254.73 L110.1 254.74 L110.5 254.76 L110.9 254.77 L111.3 254.78 L111.7 254.79 L112.1 254.8 L112.5 254.81 L112.9 254.82 L113.3 254.83 L113.7 254.83 L114.1 254.84 L114.5 254.85 L114.9 254.86 L115.3 254.87 L115.7 254.87 L116.1 254.88 L116.5 254.89 L116.9 254.89 L117.3 254.9 L117.7 254.91 L118.1 254.92 L118.5 254.92 L118.9 254.93 L119.3 254.94 L119.7 254.94 L120.1 254.95 L120.5 254.95 L120.9 254.96 L121.3 254.97 L121.3 255.05 L120.9 255.04 L120.5 255.04 L120.1 255.03 L119.7 255.03 L119.3 255.03 L118.9 255.02 L118.5 255.02 L118.1 255.01 L117.7 255.01 L117.3 255 L116.9 255 L116.5 254.99 L116.1 254.99 L115.7 254.99 L115.3 254.98 L114.9 254.98 L114.5 254.97 L114.1 254.97 L113.7 254.96 L113.3 254.96 L112.9 254.95 L112.5 254.95 L112.1 254.95 L111.7 254.94 L111.3 254.94 L110.9 254.93 L110.5 254.93 L110.1 254.92 L109.7 254.92 L109.3 254.92 L108.9 254.91 L108.5 254.91 L108.1 254.9 L107.7 254.9 L107.3 254.89 L106.9 254.89 L106.5 254.88 L106.1 254.88 L105.7 254.88 L105.3 254.87 L104.9 254.87 L104.5 254.86 L104.1 254.86 L103.7 254.85 L103.3 254.85 L102.9 254.84 L102.5 254.84 L102.1 254.84 L101.7 254.83 L101.3 254.83 L100.9 254.82 L100.5 254.82 L100.1 254.81 L99.7 254.81 L99.3 254.81 L98.9 254.8 L98.5 254.8 L98.1 254.79 L97.7 254.79 L97.3 254.78 L96.9 254.78 L96.5 254.77 L96.1 254.77 L95.7 254.77 L95.3 254.76 L94.9 254.76 L94.5 254.75 L94.1 254.75 L93.7 254.74 L93.3 254.74 L92.9 254.73 L92.5 254.73 L92.1 254.73 L91.7 254.72 L91.3 254.72 L90.9 254.71 L90.5 254.71 L90.1 254.7 L89.7 254.7 L89.3 254.7 L88.9 254.69 L88.5 254.69 L88.1 254.68 L87.7 254.68 L87.3 254.67 L86.9 254.67 L86.5 254.66 L86.1 254.66 L85.7 254.66 L85.3 254.65 L84.9 254.65 L84.5 254.64 L84.1 254.64 L83.7 254.63 L83.3 254.63 L82.9 254.62 L82.5 254.62 L82.1 254.62 L81.7 254.61 L81.3 254.61 L80.9 254.6 L80.5 254.6 L80.1 254.59 L79.7 254.59 L79.3 254.59 L78.9 254.58 L78.5 254.58 L78.1 254.57 L77.7 254.57 L77.3 254.56 L76.9 254.56 L76.5 254.55 L76.1 254.55 L75.7 254.55 L75.3 254.54 L74.9 254.54 L74.5 254.53 L74.1 254.53 L73.7 254.52 L73.3 254.52 L72.9 254.51 L72.5 254.51 L72.1 254.51 L71.7 254.5 L71.3 254.5 L70.9 254.49 L70.5 254.49 L70.1 254.48 L69.7 254.48 L69.3 254.48 L68.9 254.47 L68.5 254.47 L68.1 254.46 L67.7 254.46 L67.3 254.45 L66.9 254.45 L66.5 254.44 L66.1 254.44 L65.7 254.44 L65.3 254.43 L64.9 254.43 L64.5 254.42 L64.1 254.42 L63.7 254.41 L63.3 254.41 L62.9 254.4 L62.5 254.4 L62.1 254.4 L61.7 254.39 L61.3 254.39 L60.9 254.38 L60.5 254.38 L60.1 254.37 L59.7 254.37 L59.3 254.37 L58.9 254.36 L58.5 254.36 L58.1 254.35 L57.7 254.35 L57.3 254.34 L56.9 254.34 L56.5 254.33 L56.1 254.33 L55.7 254.33 L55.3 254.32 L54.9 254.32 L54.5 254.31 L54.1 254.31 L53.7 254.3 L53.3 254.3 Z" fill="url(#gg)" stroke="none"/>
<path d="M53.3 254.22 L53.7 254.22 L54.1 254.22 L54.5 254.23 L54.9 254.23 L55.3 254.23 L55.7 254.23 L56.1 254.23 L56.5 254.24 L56.9 254.24 L57.3 254.24 L57.7 254.24 L58.1 254.24 L58.5 254.24 L58.9 254.25 L59.3 254.25 L59.7 254.25 L60.1 254.25 L60.5 254.25 L60.9 254.25 L61.3 254.25 L61.7 254.25 L62.1 254.25 L62.5 254.25 L62.9 254.25 L63.3 254.25 L63.7 254.25 L64.1 254.24 L64.5 254.24 L64.9 254.23 L65.3 254.23 L65.7 254.22 L66.1 254.22 L66.5 254.21 L66.9 254.2 L67.3 254.18 L67.7 254.17 L68.1 254.15 L68.5 254.13 L68.9 254.11 L69.3 254.08 L69.7 254.05 L70.1 254.01 L70.5 253.97 L70.9 253.93 L71.3 253.87 L71.7 253.81 L72.1 253.74 L72.5 253.67 L72.9 253.58 L73.3 253.48 L73.7 253.38 L74.1 253.26 L74.5 253.13 L74.9 252.99 L75.3 252.83 L75.7 252.66 L76.1 252.48 L76.5 252.28 L76.9 252.07 L77.3 251.85 L77.7 251.61 L78.1 251.36 L78.5 251.1 L78.9 250.82 L79.3 250.53 L79.7 250.24 L80.1 249.94 L80.5 249.63 L80.9 249.31 L81.3 249 L81.7 248.69 L82.1 248.37 L82.5 248.07 L82.9 247.77 L83.3 247.49 L83.7 247.22 L84.1 246.97 L84.5 246.74 L84.9 246.54 L85.3 246.36 L85.7 246.21 L86.1 246.1 L86.5 246.02 L86.9 245.98 L87.3 245.97" stroke="#80d080" stroke-width="1.3" fill="none" stroke-linejoin="round" stroke-linecap="round" />
<path d="M86.9 245.98 L87.3 245.97 L87.7 246.01 L88.1 246.08 L88.5 246.18 L88.9 246.32 L89.3 246.49 L89.7 246.69 L90.1 246.92 L90.5 247.16 L90.9 247.43 L91.3 247.72 L91.7 248.02 L92.1 248.33 L92.5 248.65 L92.9 248.97 L93.3 249.29 L93.7 249.61 L94.1 249.93 L94.5 250.25 L94.9 250.56 L95.3 250.86 L95.7 251.15 L96.1 251.43 L96.5 251.69 L96.9 251.94 L97.3 252.18 L97.7 252.41 L98.1 252.62 L98.5 252.82 L98.9 253.01 L99.3 253.18 L99.7 253.33 L100.1 253.48 L100.5 253.61 L100.9 253.73 L101.3 253.84 L101.7 253.94 L102.1 254.03 L102.5 254.11 L102.9 254.19 L103.3 254.25 L103.7 254.31 L104.1 254.37 L104.5 254.41 L104.9 254.46 L105.3 254.49 L105.7 254.53 L106.1 254.56 L106.5 254.59 L106.9 254.61 L107.3 254.63 L107.7 254.65 L108.1 254.67 L108.5 254.69 L108.9 254.7 L109.3 254.72 L109.7 254.73 L110.1 254.74 L110.5 254.76 L110.9 254.77 L111.3 254.78 L111.7 254.79 L112.1 254.8 L112.5 254.81 L112.9 254.82 L113.3 254.83 L113.7 254.83 L114.1 254.84 L114.5 254.85 L114.9 254.86 L115.3 254.87 L115.7 254.87 L116.1 254.88 L116.5 254.89 L116.9 254.89 L117.3 254.9 L117.7 254.91 L118.1 254.92 L118.5 254.92 L118.9 254.93 L119.3 254.94 L119.7 254.94 L120.1 254.95 L120.5 254.95 L120.9 254.96 L121.3 254.97" stroke="#10c810" stroke-width="1.3" fill="none" stroke-linejoin="round" stroke-linecap="round" />
<path d="M20.9 253.86 L21.3 253.87 L21.7 253.87 L22.1 253.87 L22.5 253.88 L22.9 253.88 L23.3 253.88 L23.7 253.89 L24.1 253.89 L24.5 253.9 L24.9 253.9 L25.3 253.9 L25.7 253.91 L26.1 253.91 L26.5 253.91 L26.9 253.92 L27.3 253.92 L27.7 253.92 L28.1 253.93 L28.5 253.93 L28.9 253.93 L29.3 253.94 L29.7 253.94 L30.1 253.95 L30.5 253.95 L30.9 253.95 L31.3 253.96 L31.7 253.96 L32.1 253.96 L32.5 253.97 L32.9 253.97 L33.3 253.97 L33.7 253.98 L34.1 253.98 L34.5 253.98 L34.9 253.99 L35.3 253.99 L35.7 253.99 L36.1 254 L36.5 254 L36.9 254 L37.3 254.01 L37.7 254.01 L38.1 254.01 L38.5 254.01 L38.9 254.02 L39.3 254.02 L39.7 254.02 L40.1 254.03 L40.5 254.03 L40.9 254.03 L41.3 254.04 L41.7 254.04 L42.1 254.04 L42.5 254.04 L42.9 254.05 L43.3 254.05 L43.7 254.05 L44.1 254.06 L44.5 254.06 L44.9 254.06 L45.3 254.06 L45.7 254.07 L46.1 254.07 L46.5 254.07 L46.9 254.08 L47.3 254.08 L47.7 254.08 L48.1 254.08 L48.5 254.09 L48.9 254.09 L49.3 254.09 L49.7 254.09 L50.1 254.09 L50.5 254.1 L50.9 254.1 L51.3 254.1 L51.7 254.1 L52.1 254.11 L52.5 254.11 L52.9 254.11 L53.3 254.11 L53.7 254.11 L54.1 254.12 L54.5 254.12 L54.9 254.12 L55.3 254.12 L55.7 254.12 L56.1 254.12 L56.5 254.13 L56.9 254.13 L57.3 254.13 L57.7 254.13 L58.1 254.13 L58.5 254.13 L58.9 254.13 L59.3 254.14 L59.7 254.14 L60.1 254.14 L60.5 254.14 L60.9 254.14 L61.3 254.14 L61.7 254.14 L62.1 254.14 L62.5 254.14 L62.9 254.14 L63.3 254.14 L63.7 254.14 L64.1 254.14 L64.5 254.14 L64.9 254.14 L65.3 254.14 L65.7 254.14 L66.1 254.14 L66.5 254.14 L66.9 254.14 L67.3 254.14 L67.7 254.14 L68.1 254.14 L68.5 254.14 L68.9 254.14 L69.3 254.13 L69.7 254.13 L70.1 254.13 L70.5 254.13 L70.9 254.13 L71.3 254.12 L71.7 254.12 L72.1 254.12 L72.5 254.12 L72.9 254.11 L73.3 254.11 L73.7 254.11 L74.1 254.1 L74.5 254.1 L74.9 254.1 L75.3 254.09 L75.7 254.09 L76.1 254.08 L76.5 254.08 L76.9 254.07 L77.3 254.06 L77.7 254.06 L78.1 254.05 L78.5 254.05 L78.9 254.04 L79.3 254.03 L79.7 254.02 L80.1 254.01 L80.5 254.01 L80.9 254 L81.3 253.99 L81.7 253.98 L82.1 253.96 L82.5 253.95 L82.9 253.94 L83.3 253.93 L83.7 253.91 L84.1 253.9 L84.5 253.88 L84.9 253.86 L85.3 253.85 L85.7 253.83 L86.1 253.81 L86.5 253.78 L86.9 253.76 L87.3 253.73 L87.7 253.7 L88.1 253.66 L88.5 253.63 L88.9 253.58 L89.3 253.54 L89.7 253.48 L90.1 253.43 L90.5 253.36 L90.9 253.28 L91.3 253.2 L91.7 253.1 L92.1 252.99 L92.5 252.87 L92.9 252.73 L93.3 252.57 L93.7 252.39 L94.1 252.18 L94.5 251.95 L94.9 251.69 L95.3 251.4 L95.7 251.06 L96.1 250.69 L96.5 250.27 L96.9 249.81 L97.3 249.29 L97.7 248.71 L98.1 248.07 L98.5 247.37 L98.9 246.59 L99.3 245.74 L99.7 244.81 L100.1 243.8 L100.5 242.7 L100.9 241.51 L101.3 240.23 L101.7 238.85 L102.1 237.38 L102.5 235.81 L102.9 234.15 L103.3 232.4 L103.7 230.55 L104.1 228.61 L104.5 226.6 L104.9 224.51 L105.3 222.35 L105.7 220.13 L106.1 217.86 L106.5 215.55 L106.9 213.21 L107.3 210.86 L107.7 208.52 L108.1 206.19 L108.5 203.9 L108.9 201.66 L109.3 199.49 L109.7 197.41 L110.1 195.44 L110.5 193.59 L110.9 191.9 L111.3 190.37 L111.7 189.02 L112.1 187.87 L112.5 186.93 L112.9 186.21 L113.3 185.73 L113.7 185.49 L114.1 185.5 L114.5 185.75 L114.9 186.24 L115.3 186.96 L115.7 187.91 L116.1 189.07 L116.5 190.42 L116.9 191.96 L117.3 193.67 L117.7 195.52 L118.1 197.5 L118.5 199.59 L118.9 201.77 L119.3 204.02 L119.7 206.32 L120.1 208.65 L120.5 211.01 L120.9 213.36 L121.3 215.71 L121.7 218.03 L122.1 220.31 L122.5 222.54 L122.9 224.7 L123.3 226.81 L123.7 228.83 L124.1 230.77 L124.5 232.63 L124.9 234.39 L125.3 236.06 L125.7 237.64 L126.1 239.12 L126.5 240.5 L126.9 241.8 L127.3 242.99 L127.7 244.1 L128.1 245.12 L128.5 246.06 L128.9 246.92 L129.3 247.71 L129.7 248.42 L130.1 249.07 L130.5 249.65 L130.9 250.18 L131.3 250.66 L131.7 251.08 L132.1 251.46 L132.5 251.8 L132.9 252.11 L133.3 252.38 L133.7 252.62 L134.1 252.83 L134.5 253.02 L134.9 253.19 L135.3 253.34 L135.7 253.47 L136.1 253.59 L136.5 253.7 L136.9 253.79 L137.3 253.87 L137.7 253.95 L138.1 254.02 L138.5 254.08 L138.9 254.13 L139.3 254.18 L139.7 254.23 L140.1 254.27 L140.5 254.31 L140.9 254.35 L141.3 254.38 L141.7 254.42 L142.1 254.45 L142.5 254.48 L142.9 254.5 L143.3 254.53 L143.7 254.55 L144.1 254.58 L144.5 254.6 L144.9 254.62 L145.3 254.64 L145.7 254.66 L146.1 254.68 L146.5 254.7 L146.9 254.72 L147.3 254.74 L147.7 254.76 L148.1 254.78 L148.5 254.79 L148.9 254.81 L149.3 254.82 L149.7 254.84 L150.1 254.86 L150.5 254.87 L150.9 254.88 L151.3 254.9 L151.7 254.91 L152.1 254.93 L152.5 254.94 L152.9 254.95 L153.3 254.97 L153.7 254.98 L154.1 254.99 L154.5 255 L154.9 255.02 L155.3 255.03 L155.7 255.04 L156.1 255.05 L156.5 255.06 L156.9 255.07 L157.3 255.08 L157.7 255.09 L158.1 255.11 L158.5 255.12 L158.9 255.13 L159.3 255.14 L159.7 255.15 L160.1 255.16 L160.5 255.17 L160.9 255.17 L161.3 255.18 L161.7 255.19 L162.1 255.2 L162.5 255.21 L162.9 255.22 L163.3 255.23 L163.7 255.24 L164.1 255.25 L164.5 255.26 L164.9 255.26 L165.3 255.27 L165.7 255.28 L166.1 255.29 L166.5 255.3 L166.9 255.31 L167.3 255.31 L167.3 255.55 L166.9 255.55 L166.5 255.54 L166.1 255.54 L165.7 255.54 L165.3 255.53 L164.9 255.53 L164.5 255.52 L164.1 255.52 L163.7 255.51 L163.3 255.51 L162.9 255.5 L162.5 255.5 L162.1 255.5 L161.7 255.49 L161.3 255.49 L160.9 255.48 L160.5 255.48 L160.1 255.47 L159.7 255.47 L159.3 255.47 L158.9 255.46 L158.5 255.46 L158.1 255.45 L157.7 255.45 L157.3 255.44 L156.9 255.44 L156.5 255.43 L156.1 255.43 L155.7 255.43 L155.3 255.42 L154.9 255.42 L154.5 255.41 L154.1 255.41 L153.7 255.4 L153.3 255.4 L152.9 255.39 L152.5 255.39 L152.1 255.39 L151.7 255.38 L151.3 255.38 L150.9 255.37 L150.5 255.37 L150.1 255.36 L149.7 255.36 L149.3 255.36 L148.9 255.35 L148.5 255.35 L148.1 255.34 L147.7 255.34 L147.3 255.33 L146.9 255.33 L146.5 255.32 L146.1 255.32 L145.7 255.32 L145.3 255.31 L144.9 255.31 L144.5 255.3 L144.1 255.3 L143.7 255.29 L143.3 255.29 L142.9 255.28 L142.5 255.28 L142.1 255.28 L141.7 255.27 L141.3 255.27 L140.9 255.26 L140.5 255.26 L140.1 255.25 L139.7 255.25 L139.3 255.25 L138.9 255.24 L138.5 255.24 L138.1 255.23 L137.7 255.23 L137.3 255.22 L136.9 255.22 L136.5 255.21 L136.1 255.21 L135.7 255.21 L135.3 255.2 L134.9 255.2 L134.5 255.19 L134.1 255.19 L133.7 255.18 L133.3 255.18 L132.9 255.17 L132.5 255.17 L132.1 255.17 L131.7 255.16 L131.3 255.16 L130.9 255.15 L130.5 255.15 L130.1 255.14 L129.7 255.14 L129.3 255.14 L128.9 255.13 L128.5 255.13 L128.1 255.12 L127.7 255.12 L127.3 255.11 L126.9 255.11 L126.5 255.1 L126.1 255.1 L125.7 255.1 L125.3 255.09 L124.9 255.09 L124.5 255.08 L124.1 255.08 L123.7 255.07 L123.3 255.07 L122.9 255.06 L122.5 255.06 L122.1 255.06 L121.7 255.05 L121.3 255.05 L120.9 255.04 L120.5 255.04 L120.1 255.03 L119.7 255.03 L119.3 255.03 L118.9 255.02 L118.5 255.02 L118.1 255.01 L117.7 255.01 L117.3 255 L116.9 255 L116.5 254.99 L116.1 254.99 L115.7 254.99 L115.3 254.98 L114.9 254.98 L114.5 254.97 L114.1 254.97 L113.7 254.96 L113.3 254.96 L112.9 254.95 L112.5 254.95 L112.1 254.95 L111.7 254.94 L111.3 254.94 L110.9 254.93 L110.5 254.93 L110.1 254.92 L109.7 254.92 L109.3 254.92 L108.9 254.91 L108.5 254.91 L108.1 254.9 L107.7 254.9 L107.3 254.89 L106.9 254.89 L106.5 254.88 L106.1 254.88 L105.7 254.88 L105.3 254.87 L104.9 254.87 L104.5 254.86 L104.1 254.86 L103.7 254.85 L103.3 254.85 L102.9 254.84 L102.5 254.84 L102.1 254.84 L101.7 254.83 L101.3 254.83 L100.9 254.82 L100.5 254.82 L100.1 254.81 L99.7 254.81 L99.3 254.81 L98.9 254.8 L98.5 254.8 L98.1 254.79 L97.7 254.79 L97.3 254.78 L96.9 254.78 L96.5 254.77 L96.1 254.77 L95.7 254.77 L95.3 254.76 L94.9 254.76 L94.5 254.75 L94.1 254.75 L93.7 254.74 L93.3 254.74 L92.9 254.73 L92.5 254.73 L92.1 254.73 L91.7 254.72 L91.3 254.72 L90.9 254.71 L90.5 254.71 L90.1 254.7 L89.7 254.7 L89.3 254.7 L88.9 254.69 L88.5 254.69 L88.1 254.68 L87.7 254.68 L87.3 254.67 L86.9 254.67 L86.5 254.66 L86.1 254.66 L85.7 254.66 L85.3 254.65 L84.9 254.65 L84.5 254.64 L84.1 254.64 L83.7 254.63 L83.3 254.63 L82.9 254.62 L82.5 254.62 L82.1 254.62 L81.7 254.61 L81.3 254.61 L80.9 254.6 L80.5 254.6 L80.1 254.59 L79.7 254.59 L79.3 254.59 L78.9 254.58 L78.5 254.58 L78.1 254.57 L77.7 254.57 L77.3 254.56 L76.9 254.56 L76.5 254.55 L76.1 254.55 L75.7 254.55 L75.3 254.54 L74.9 254.54 L74.5 254.53 L74.1 254.53 L73.7 254.52 L73.3 254.52 L72.9 254.51 L72.5 254.51 L72.1 254.51 L71.7 254.5 L71.3 254.5 L70.9 254.49 L70.5 254.49 L70.1 254.48 L69.7 254.48 L69.3 254.48 L68.9 254.47 L68.5 254.47 L68.1 254.46 L67.7 254.46 L67.3 254.45 L66.9 254.45 L66.5 254.44 L66.1 254.44 L65.7 254.44 L65.3 254.43 L64.9 254.43 L64.5 254.42 L64.1 254.42 L63.7 254.41 L63.3 254.41 L62.9 254.4 L62.5 254.4 L62.1 254.4 L61.7 254.39 L61.3 254.39 L60.9 254.38 L60.5 254.38 L60.1 254.37 L59.7 254.37 L59.3 254.37 L58.9 254.36 L58.5 254.36 L58.1 254.35 L57.7 254.35 L57.3 254.34 L56.9 254.34 L56.5 254.33 L56.1 254.33 L55.7 254.33 L55.3 254.32 L54.9 254.32 L54.5 254.31 L54.1 254.31 L53.7 254.3 L53.3 254.3 L52.9 254.29 L52.5 254.29 L52.1 254.29 L51.7 254.28 L51.3 254.28 L50.9 254.27 L50.5 254.27 L50.1 254.26 L49.7 254.26 L49.3 254.26 L48.9 254.25 L48.5 254.25 L48.1 254.24 L47.7 254.24 L47.3 254.23 L46.9 254.23 L46.5 254.22 L46.1 254.22 L45.7 254.22 L45.3 254.21 L44.9 254.21 L44.5 254.2 L44.1 254.2 L43.7 254.19 L43.3 254.19 L42.9 254.18 L42.5 254.18 L42.1 254.18 L41.7 254.17 L41.3 254.17 L40.9 254.16 L40.5 254.16 L40.1 254.15 L39.7 254.15 L39.3 254.15 L38.9 254.14 L38.5 254.14 L38.1 254.13 L37.7 254.13 L37.3 254.12 L36.9 254.12 L36.5 254.11 L36.1 254.11 L35.7 254.11 L35.3 254.1 L34.9 254.1 L34.5 254.09 L34.1 254.09 L33.7 254.08 L33.3 254.08 L32.9 254.07 L32.5 254.07 L32.1 254.07 L31.7 254.06 L31.3 254.06 L30.9 254.05 L30.5 254.05 L30.1 254.04 L29.7 254.04 L29.3 254.04 L28.9 254.03 L28.5 254.03 L28.1 254.02 L27.7 254.02 L27.3 254.01 L26.9 254.01 L26.5 254 L26.1 254 L25.7 254 L25.3 253.99 L24.9 253.99 L24.5 253.98 L24.1 253.98 L23.7 253.97 L23.3 253.97 L22.9 253.96 L22.5 253.96 L22.1 253.96 L21.7 253.95 L21.3 253.95 L20.9 253.94 Z" fill="url(#gr)" stroke="none"/>
<path d="M20.9 253.86 L21.3 253.87 L21.7 253.87 L22.1 253.87 L22.5 253.88 L22.9 253.88 L23.3 253.88 L23.7 253.89 L24.1 253.89 L24.5 253.9 L24.9 253.9 L25.3 253.9 L25.7 253.91 L26.1 253.91 L26.5 253.91 L26.9 253.92 L27.3 253.92 L27.7 253.92 L28.1 253.93 L28.5 253.93 L28.9 253.93 L29.3 253.94 L29.7 253.94 L30.1 253.95 L30.5 253.95 L30.9 253.95 L31.3 253.96 L31.7 253.96 L32.1 253.96 L32.5 253.97 L32.9 253.97 L33.3 253.97 L33.7 253.98 L34.1 253.98 L34.5 253.98 L34.9 253.99 L35.3 253.99 L35.7 253.99 L36.1 254 L36.5 254 L36.9 254 L37.3 254.01 L37.7 254.01 L38.1 254.01 L38.5 254.01 L38.9 254.02 L39.3 254.02 L39.7 254.02 L40.1 254.03 L40.5 254.03 L40.9 254.03 L41.3 254.04 L41.7 254.04 L42.1 254.04 L42.5 254.04 L42.9 254.05 L43.3 254.05 L43.7 254.05 L44.1 254.06 L44.5 254.06 L44.9 254.06 L45.3 254.06 L45.7 254.07 L46.1 254.07 L46.5 254.07 L46.9 254.08 L47.3 254.08 L47.7 254.08 L48.1 254.08 L48.5 254.09 L48.9 254.09 L49.3 254.09 L49.7 254.09 L50.1 254.09 L50.5 254.1 L50.9 254.1 L51.3 254.1 L51.7 254.1 L52.1 254.11 L52.5 254.11 L52.9 254.11 L53.3 254.11 L53.7 254.11 L54.1 254.12 L54.5 254.12 L54.9 254.12 L55.3 254.12 L55.7 254.12 L56.1 254.12 L56.5 254.13 L56.9 254.13 L57.3 254.13 L57.7 254.13 L58.1 254.13 L58.5 254.13 L58.9 254.13 L59.3 254.14 L59.7 254.14 L60.1 254.14 L60.5 254.14 L60.9 254.14 L61.3 254.14 L61.7 254.14 L62.1 254.14 L62.5 254.14 L62.9 254.14 L63.3 254.14 L63.7 254.14 L64.1 254.14 L64.5 254.14 L64.9 254.14 L65.3 254.14 L65.7 254.14 L66.1 254.14 L66.5 254.14 L66.9 254.14 L67.3 254.14 L67.7 254.14 L68.1 254.14 L68.5 254.14 L68.9 254.14 L69.3 254.13 L69.7 254.13 L70.1 254.13 L70.5 254.13 L70.9 254.13 L71.3 254.12 L71.7 254.12 L72.1 254.12 L72.5 254.12 L72.9 254.11 L73.3 254.11 L73.7 254.11 L74.1 254.1 L74.5 254.1 L74.9 254.1 L75.3 254.09 L75.7 254.09 L76.1 254.08 L76.5 254.08 L76.9 254.07 L77.3 254.06 L77.7 254.06 L78.1 254.05 L78.5 254.05 L78.9 254.04 L79.3 254.03 L79.7 254.02 L80.1 254.01 L80.5 254.01 L80.9 254 L81.3 253.99 L81.7 253.98 L82.1 253.96 L82.5 253.95 L82.9 253.94 L83.3 253.93 L83.7 253.91 L84.1 253.9 L84.5 253.88 L84.9 253.86 L85.3 253.85 L85.7 253.83 L86.1 253.81 L86.5 253.78 L86.9 253.76 L87.3 253.73 L87.7 253.7 L88.1 253.66 L88.5 253.63 L88.9 253.58 L89.3 253.54 L89.7 253.48 L90.1 253.43 L90.5 253.36 L90.9 253.28 L91.3 253.2 L91.7 253.1 L92.1 252.99 L92.5 252.87 L92.9 252.73 L93.3 252.57 L93.7 252.39 L94.1 252.18 L94.5 251.95 L94.9 251.69 L95.3 251.4 L95.7 251.06 L96.1 250.69 L96.5 250.27 L96.9 249.81 L97.3 249.29 L97.7 248.71 L98.1 248.07 L98.5 247.37 L98.9 246.59 L99.3 245.74 L99.7 244.81 L100.1 243.8 L100.5 242.7 L100.9 241.51 L101.3 240.23 L101.7 238.85 L102.1 237.38 L102.5 235.81 L102.9 234.15 L103.3 232.4 L103.7 230.55 L104.1 228.61 L104.5 226.6 L104.9 224.51 L105.3 222.35 L105.7 220.13 L106.1 217.86 L106.5 215.55 L106.9 213.21 L107.3 210.86 L107.7 208.52 L108.1 206.19 L108.5 203.9 L108.9 201.66 L109.3 199.49 L109.7 197.41 L110.1 195.44 L110.5 193.59 L110.9 191.9 L111.3 190.37 L111.7 189.02 L112.1 187.87 L112.5 186.93 L112.9 186.21 L113.3 185.73 L113.7 185.49 L114.1 185.5" stroke="#ff8090" stroke-width="1.3" fill="none" stroke-linejoin="round" stroke-linecap="round" />
<path d="M113.7 185.49 L114.1 185.5 L114.5 185.75 L114.9 186.24 L115.3 186.96 L115.7 187.91 L116.1 189.07 L116.5 190.42 L116.9 191.96 L117.3 193.67 L117.7 195.52 L118.1 197.5 L118.5 199.59 L118.9 201.77 L119.3 204.02 L119.7 206.32 L120.1 208.65 L120.5 211.01 L120.9 213.36 L121.3 215.71 L121.7 218.03 L122.1 220.31 L122.5 222.54 L122.9 224.7 L123.3 226.81 L123.7 228.83 L124.1 230.77 L124.5 232.63 L124.9 234.39 L125.3 236.06 L125.7 237.64 L126.1 239.12 L126.5 240.5 L126.9 241.8 L127.3 242.99 L127.7 244.1 L128.1 245.12 L128.5 246.06 L128.9 246.92 L129.3 247.71 L129.7 248.42 L130.1 249.07 L130.5 249.65 L130.9 250.18 L131.3 250.66 L131.7 251.08 L132.1 251.46 L132.5 251.8 L132.9 252.11 L133.3 252.38 L133.7 252.62 L134.1 252.83 L134.5 253.02 L134.9 253.19 L135.3 253.34 L135.7 253.47 L136.1 253.59 L136.5 253.7 L136.9 253.79 L137.3 253.87 L137.7 253.95 L138.1 254.02 L138.5 254.08 L138.9 254.13 L139.3 254.18 L139.7 254.23 L140.1 254.27 L140.5 254.31 L140.9 254.35 L141.3 254.38 L141.7 254.42 L142.1 254.45 L142.5 254.48 L142.9 254.5 L143.3 254.53 L143.7 254.55 L144.1 254.58 L144.5 254.6 L144.9 254.62 L145.3 254.64 L145.7 254.66 L146.1 254.68 L146.5 254.7 L146.9 254.72 L147.3 254.74 L147.7 254.76 L148.1 254.78 L148.5 254.79 L148.9 254.81 L149.3 254.82 L149.7 254.84 L150.1 254.86 L150.5 254.87 L150.9 254.88 L151.3 254.9 L151.7 254.91 L152.1 254.93 L152.5 254.94 L152.9 254.95 L153.3 254.97 L153.7 254.98 L154.1 254.99 L154.5 255 L154.9 255.02 L155.3 255.03 L155.7 255.04 L156.1 255.05 L156.5 255.06 L156.9 255.07 L157.3 255.08 L157.7 255.09 L158.1 255.11 L158.5 255.12 L158.9 255.13 L159.3 255.14 L159.7 255.15 L160.1 255.16 L160.5 255.17 L160.9 255.17 L161.3 255.18 L161.7 255.19 L162.1 255.2 L162.5 255.21 L162.9 255.22 L163.3 255.23 L163.7 255.24 L164.1 255.25 L164.5 255.26 L164.9 255.26 L165.3 255.27 L165.7 255.28 L166.1 255.29 L166.5 255.3 L166.9 255.31 L167.3 255.31" stroke="#ee0000" stroke-width="1.3" fill="none" stroke-linejoin="round" stroke-linecap="round" />
<path d="M84.9 254.57 L85.3 254.57 L85.7 254.57 L86.1 254.58 L86.5 254.58 L86.9 254.58 L87.3 254.58 L87.7 254.59 L88.1 254.59 L88.5 254.59 L88.9 254.6 L89.3 254.6 L89.7 254.6 L90.1 254.6 L90.5 254.61 L90.9 254.61 L91.3 254.61 L91.7 254.61 L92.1 254.61 L92.5 254.62 L92.9 254.62 L93.3 254.62 L93.7 254.62 L94.1 254.63 L94.5 254.63 L94.9 254.63 L95.3 254.63 L95.7 254.63 L96.1 254.63 L96.5 254.64 L96.9 254.64 L97.3 254.64 L97.7 254.64 L98.1 254.64 L98.5 254.64 L98.9 254.64 L99.3 254.64 L99.7 254.64 L100.1 254.64 L100.5 254.64 L100.9 254.64 L101.3 254.64 L101.7 254.64 L102.1 254.64 L102.5 254.64 L102.9 254.64 L103.3 254.64 L103.7 254.64 L104.1 254.64 L104.5 254.63 L104.9 254.63 L105.3 254.63 L105.7 254.62 L106.1 254.62 L106.5 254.62 L106.9 254.61 L107.3 254.6 L107.7 254.6 L108.1 254.59 L108.5 254.58 L108.9 254.56 L109.3 254.55 L109.7 254.53 L110.1 254.51 L110.5 254.49 L110.9 254.46 L111.3 254.43 L111.7 254.39 L112.1 254.34 L112.5 254.28 L112.9 254.22 L113.3 254.14 L113.7 254.06 L114.1 253.95 L114.5 253.83 L114.9 253.7 L115.3 253.54 L115.7 253.36 L116.1 253.15 L116.5 252.91 L116.9 252.64 L117.3 252.33 L117.7 251.98 L118.1 251.6 L118.5 251.16 L118.9 250.68 L119.3 250.15 L119.7 249.57 L120.1 248.92 L120.5 248.22 L120.9 247.47 L121.3 246.65 L121.7 245.77 L122.1 244.83 L122.5 243.83 L122.9 242.78 L123.3 241.67 L123.7 240.52 L124.1 239.32 L124.5 238.08 L124.9 236.82 L125.3 235.53 L125.7 234.23 L126.1 232.93 L126.5 231.64 L126.9 230.37 L127.3 229.14 L127.7 227.94 L128.1 226.81 L128.5 225.74 L128.9 224.77 L129.3 223.88 L129.7 223.11 L130.1 222.45 L130.5 221.92 L130.9 221.52 L131.3 221.27 L131.7 221.17 L132.1 221.21 L132.5 221.4 L132.9 221.73 L133.3 222.2 L133.7 222.8 L134.1 223.53 L134.5 224.37 L134.9 225.31 L135.3 226.34 L135.7 227.45 L136.1 228.63 L136.5 229.85 L136.9 231.12 L137.3 232.41 L137.7 233.71 L138.1 235.02 L138.5 236.32 L138.9 237.61 L139.3 238.87 L139.7 240.1 L140.1 241.28 L140.5 242.42 L140.9 243.51 L141.3 244.54 L141.7 245.52 L142.1 246.44 L142.5 247.3 L142.9 248.1 L143.3 248.83 L143.7 249.51 L144.1 250.14 L144.5 250.7 L144.9 251.22 L145.3 251.68 L145.7 252.1 L146.1 252.48 L146.5 252.81 L146.9 253.11 L147.3 253.37 L147.7 253.6 L148.1 253.81 L148.5 253.99 L148.9 254.14 L149.3 254.28 L149.7 254.4 L150.1 254.5 L150.5 254.6 L150.9 254.67 L151.3 254.74 L151.7 254.8 L152.1 254.85 L152.5 254.9 L152.9 254.94 L153.3 254.97 L153.7 255 L154.1 255.03 L154.5 255.06 L154.9 255.08 L155.3 255.1 L155.7 255.12 L156.1 255.13 L156.5 255.15 L156.9 255.17 L157.3 255.18 L157.7 255.19 L158.1 255.21 L158.5 255.22 L158.9 255.23 L159.3 255.24 L159.7 255.25 L160.1 255.26 L160.5 255.27 L160.9 255.28 L161.3 255.29 L161.7 255.3 L162.1 255.31 L162.5 255.32 L162.9 255.33 L163.3 255.34 L163.7 255.34 L164.1 255.35 L164.5 255.36 L164.9 255.37 L165.3 255.38 L165.7 255.39 L166.1 255.39 L166.5 255.4 L166.9 255.41 L167.3 255.42 L167.3 255.55 L166.9 255.55 L166.5 255.54 L166.1 255.54 L165.7 255.54 L165.3 255.53 L164.9 255.53 L164.5 255.52 L164.1 255.52 L163.7 255.51 L163.3 255.51 L162.9 255.5 L162.5 255.5 L162.1 255.5 L161.7 255.49 L161.3 255.49 L160.9 255.48 L160.5 255.48 L160.1 255.47 L159.7 255.47 L159.3 255.47 L158.9 255.46 L158.5 255.46 L158.1 255.45 L157.7 255.45 L157.3 255.44 L156.9 255.44 L156.5 255.43 L156.1 255.43 L155.7 255.43 L155.3 255.42 L154.9 255.42 L154.5 255.41 L154.1 255.41 L153.7 255.4 L153.3 255.4 L152.9 255.39 L152.5 255.39 L152.1 255.39 L151.7 255.38 L151.3 255.38 L150.9 255.37 L150.5 255.37 L150.1 255.36 L149.7 255.36 L149.3 255.36 L148.9 255.35 L148.5 255.35 L148.1 255.34 L147.7 255.34 L147.3 255.33 L146.9 255.33 L146.5 255.32 L146.1 255.32 L145.7 255.32 L145.3 255.31 L144.9 255.31 L144.5 255.3 L144.1 255.3 L143.7 255.29 L143.3 255.29 L142.9 255.28 L142.5 255.28 L142.1 255.28 L141.7 255.27 L141.3 255.27 L140.9 255.26 L140.5 255.26 L140.1 255.25 L139.7 255.25 L139.3 255.25 L138.9 255.24 L138.5 255.24 L138.1 255.23 L137.7 255.23 L137.3 255.22 L136.9 255.22 L136.5 255.21 L136.1 255.21 L135.7 255.21 L135.3 255.2 L134.9 255.2 L134.5 255.19 L134.1 255.19 L133.7 255.18 L133.3 255.18 L132.9 255.17 L132.5 255.17 L132.1 255.17 L131.7 255.16 L131.3 255.16 L130.9 255.15 L130.5 255.15 L130.1 255.14 L129.7 255.14 L129.3 255.14 L128.9 255.13 L128.5 255.13 L128.1 255.12 L127.7 255.12 L127.3 255.11 L126.9 255.11 L126.5 255.1 L126.1 255.1 L125.7 255.1 L125.3 255.09 L124.9 255.09 L124.5 255.08 L124.1 255.08 L123.7 255.07 L123.3 255.07 L122.9 255.06 L122.5 255.06 L122.1 255.06 L121.7 255.05 L121.3 255.05 L120.9 255.04 L120.5 255.04 L120.1 255.03 L119.7 255.03 L119.3 255.03 L118.9 255.02 L118.5 255.02 L118.1 255.01 L117.7 255.01 L117.3 255 L116.9 255 L116.5 254.99 L116.1 254.99 L115.7 254.99 L115.3 254.98 L114.9 254.98 L114.5 254.97 L114.1 254.97 L113.7 254.96 L113.3 254.96 L112.9 254.95 L112.5 254.95 L112.1 254.95 L111.7 254.94 L111.3 254.94 L110.9 254.93 L110.5 254.93 L110.1 254.92 L109.7 254.92 L109.3 254.92 L108.9 254.91 L108.5 254.91 L108.1 254.9 L107.7 254.9 L107.3 254.89 L106.9 254.89 L106.5 254.88 L106.1 254.88 L105.7 254.88 L105.3 254.87 L104.9 254.87 L104.5 254.86 L104.1 254.86 L103.7 254.85 L103.3 254.85 L102.9 254.84 L102.5 254.84 L102.1 254.84 L101.7 254.83 L101.3 254.83 L100.9 254.82 L100.5 254.82 L100.1 254.81 L99.7 254.81 L99.3 254.81 L98.9 254.8 L98.5 254.8 L98.1 254.79 L97.7 254.79 L97.3 254.78 L96.9 254.78 L96.5 254.77 L96.1 254.77 L95.7 254.77 L95.3 254.76 L94.9 254.76 L94.5 254.75 L94.1 254.75 L93.7 254.74 L93.3 254.74 L92.9 254.73 L92.5 254.73 L92.1 254.73 L91.7 254.72 L91.3 254.72 L90.9 254.71 L90.5 254.71 L90.1 254.7 L89.7 254.7 L89.3 254.7 L88.9 254.69 L88.5 254.69 L88.1 254.68 L87.7 254.68 L87.3 254.67 L86.9 254.67 L86.5 254.66 L86.1 254.66 L85.7 254.66 L85.3 254.65 L84.9 254.65 Z" fill="url(#gy)" stroke="none"/>
<path d="M84.9 254.57 L85.3 254.57 L85.7 254.57 L86.1 254.58 L86.5 254.58 L86.9 254.58 L87.3 254.58 L87.7 254.59 L88.1 254.59 L88.5 254.59 L88.9 254.6 L89.3 254.6 L89.7 254.6 L90.1 254.6 L90.5 254.61 L90.9 254.61 L91.3 254.61 L91.7 254.61 L92.1 254.61 L92.5 254.62 L92.9 254.62 L93.3 254.62 L93.7 254.62 L94.1 254.63 L94.5 254.63 L94.9 254.63 L95.3 254.63 L95.7 254.63 L96.1 254.63 L96.5 254.64 L96.9 254.64 L97.3 254.64 L97.7 254.64 L98.1 254.64 L98.5 254.64 L98.9 254.64 L99.3 254.64 L99.7 254.64 L100.1 254.64 L100.5 254.64 L100.9 254.64 L101.3 254.64 L101.7 254.64 L102.1 254.64 L102.5 254.64 L102.9 254.64 L103.3 254.64 L103.7 254.64 L104.1 254.64 L104.5 254.63 L104.9 254.63 L105.3 254.63 L105.7 254.62 L106.1 254.62 L106.5 254.62 L106.9 254.61 L107.3 254.6 L107.7 254.6 L108.1 254.59 L108.5 254.58 L108.9 254.56 L109.3 254.55 L109.7 254.53 L110.1 254.51 L110.5 254.49 L110.9 254.46 L111.3 254.43 L111.7 254.39 L112.1 254.34 L112.5 254.28 L112.9 254.22 L113.3 254.14 L113.7 254.06 L114.1 253.95 L114.5 253.83 L114.9 253.7 L115.3 253.54 L115.7 253.36 L116.1 253.15 L116.5 252.91 L116.9 252.64 L117.3 252.33 L117.7 251.98 L118.1 251.6 L118.5 251.16 L118.9 250.68 L119.3 250.15 L119.7 249.57 L120.1 248.92 L120.5 248.22 L120.9 247.47 L121.3 246.65 L121.7 245.77 L122.1 244.83 L122.5 243.83 L122.9 242.78 L123.3 241.67 L123.7 240.52 L124.1 239.32 L124.5 238.08 L124.9 236.82 L125.3 235.53 L125.7 234.23 L126.1 232.93 L126.5 231.64 L126.9 230.37 L127.3 229.14 L127.7 227.94 L128.1 226.81 L128.5 225.74 L128.9 224.77 L129.3 223.88 L129.7 223.11 L130.1 222.45 L130.5 221.92 L130.9 221.52 L131.3 221.27 L131.7 221.17 L132.1 221.21" stroke="#e8dc70" stroke-width="1.1" fill="none" stroke-linejoin="round" stroke-linecap="round" />
<path d="M131.7 221.17 L132.1 221.21 L132.5 221.4 L132.9 221.73 L133.3 222.2 L133.7 222.8 L134.1 223.53 L134.5 224.37 L134.9 225.31 L135.3 226.34 L135.7 227.45 L136.1 228.63 L136.5 229.85 L136.9 231.12 L137.3 232.41 L137.7 233.71 L138.1 235.02 L138.5 236.32 L138.9 237.61 L139.3 238.87 L139.7 240.1 L140.1 241.28 L140.5 242.42 L140.9 243.51 L141.3 244.54 L141.7 245.52 L142.1 246.44 L142.5 247.3 L142.9 248.1 L143.3 248.83 L143.7 249.51 L144.1 250.14 L144.5 250.7 L144.9 251.22 L145.3 251.68 L145.7 252.1 L146.1 252.48 L146.5 252.81 L146.9 253.11 L147.3 253.37 L147.7 253.6 L148.1 253.81 L148.5 253.99 L148.9 254.14 L149.3 254.28 L149.7 254.4 L150.1 254.5 L150.5 254.6 L150.9 254.67 L151.3 254.74 L151.7 254.8 L152.1 254.85 L152.5 254.9 L152.9 254.94 L153.3 254.97 L153.7 255 L154.1 255.03 L154.5 255.06 L154.9 255.08 L155.3 255.1 L155.7 255.12 L156.1 255.13 L156.5 255.15 L156.9 255.17 L157.3 255.18 L157.7 255.19 L158.1 255.21 L158.5 255.22 L158.9 255.23 L159.3 255.24 L159.7 255.25 L160.1 255.26 L160.5 255.27 L160.9 255.28 L161.3 255.29 L161.7 255.3 L162.1 255.31 L162.5 255.32 L162.9 255.33 L163.3 255.34 L163.7 255.34 L164.1 255.35 L164.5 255.36 L164.9 255.37 L165.3 255.38 L165.7 255.39 L166.1 255.39 L166.5 255.4 L166.9 255.41 L167.3 255.42" stroke="#e0d050" stroke-width="1.1" fill="none" stroke-linejoin="round" stroke-linecap="round" />
<path d="M17.3 253.9 L17.7 253.91 L18.1 253.91 L18.5 253.92 L18.9 253.92 L19.3 253.93 L19.7 253.93 L20.1 253.93 L20.5 253.94 L20.9 253.94 L21.3 253.95 L21.7 253.95 L22.1 253.96 L22.5 253.96 L22.9 253.96 L23.3 253.97 L23.7 253.97 L24.1 253.98 L24.5 253.98 L24.9 253.99 L25.3 253.99 L25.7 254 L26.1 254 L26.5 254 L26.9 254.01 L27.3 254.01 L27.7 254.02 L28.1 254.02 L28.5 254.03 L28.9 254.03 L29.3 254.04 L29.7 254.04 L30.1 254.04 L30.5 254.05 L30.9 254.05 L31.3 254.06 L31.7 254.06 L32.1 254.07 L32.5 254.07 L32.9 254.07 L33.3 254.08 L33.7 254.08 L34.1 254.09 L34.5 254.09 L34.9 254.1 L35.3 254.1 L35.7 254.11 L36.1 254.11 L36.5 254.11 L36.9 254.12 L37.3 254.12 L37.7 254.13 L38.1 254.13 L38.5 254.14 L38.9 254.14 L39.3 254.15 L39.7 254.15 L40.1 254.15 L40.5 254.16 L40.9 254.16 L41.3 254.17 L41.7 254.17 L42.1 254.18 L42.5 254.18 L42.9 254.18 L43.3 254.19 L43.7 254.19 L44.1 254.2 L44.5 254.2 L44.9 254.21 L45.3 254.21 L45.7 254.22 L46.1 254.22 L46.5 254.22 L46.9 254.23 L47.3 254.23 L47.7 254.24 L48.1 254.24 L48.5 254.25 L48.9 254.25 L49.3 254.26 L49.7 254.26 L50.1 254.26 L50.5 254.27 L50.9 254.27 L51.3 254.28 L51.7 254.28 L52.1 254.29 L52.5 254.29 L52.9 254.29 L53.3 254.3 L53.7 254.3 L54.1 254.31 L54.5 254.31 L54.9 254.32 L55.3 254.32 L55.7 254.33 L56.1 254.33 L56.5 254.33 L56.9 254.34 L57.3 254.34 L57.7 254.35 L58.1 254.35 L58.5 254.36 L58.9 254.36 L59.3 254.37 L59.7 254.37 L60.1 254.37 L60.5 254.38 L60.9 254.38 L61.3 254.39 L61.7 254.39 L62.1 254.4 L62.5 254.4 L62.9 254.4 L63.3 254.41 L63.7 254.41 L64.1 254.42 L64.5 254.42 L64.9 254.43 L65.3 254.43 L65.7 254.44 L66.1 254.44 L66.5 254.44 L66.9 254.45 L67.3 254.45 L67.7 254.46 L68.1 254.46 L68.5 254.47 L68.9 254.47 L69.3 254.48 L69.7 254.48 L70.1 254.48 L70.5 254.49 L70.9 254.49 L71.3 254.5 L71.7 254.5 L72.1 254.51 L72.5 254.51 L72.9 254.51 L73.3 254.52 L73.7 254.52 L74.1 254.53 L74.5 254.53 L74.9 254.54 L75.3 254.54 L75.7 254.55 L76.1 254.55 L76.5 254.55 L76.9 254.56 L77.3 254.56 L77.7 254.57 L78.1 254.57 L78.5 254.58 L78.9 254.58 L79.3 254.59 L79.7 254.59 L80.1 254.59 L80.5 254.6 L80.9 254.6 L81.3 254.61 L81.7 254.61 L82.1 254.62 L82.5 254.62 L82.9 254.62 L83.3 254.63 L83.7 254.63 L84.1 254.64 L84.5 254.64 L84.9 254.65 L85.3 254.65 L85.7 254.66 L86.1 254.66 L86.5 254.66 L86.9 254.67 L87.3 254.67 L87.7 254.68 L88.1 254.68 L88.5 254.69 L88.9 254.69 L89.3 254.7 L89.7 254.7 L90.1 254.7 L90.5 254.71 L90.9 254.71 L91.3 254.72 L91.7 254.72 L92.1 254.73 L92.5 254.73 L92.9 254.73 L93.3 254.74 L93.7 254.74 L94.1 254.75 L94.5 254.75 L94.9 254.76 L95.3 254.76 L95.7 254.77 L96.1 254.77 L96.5 254.77 L96.9 254.78 L97.3 254.78 L97.7 254.79 L98.1 254.79 L98.5 254.8 L98.9 254.8 L99.3 254.81 L99.7 254.81 L100.1 254.81 L100.5 254.82 L100.9 254.82 L101.3 254.83 L101.7 254.83 L102.1 254.84 L102.5 254.84 L102.9 254.84 L103.3 254.85 L103.7 254.85 L104.1 254.86 L104.5 254.86 L104.9 254.87 L105.3 254.87 L105.7 254.88 L106.1 254.88 L106.5 254.88 L106.9 254.89 L107.3 254.89 L107.7 254.9 L108.1 254.9 L108.5 254.91 L108.9 254.91 L109.3 254.92 L109.7 254.92 L110.1 254.92 L110.5 254.93 L110.9 254.93 L111.3 254.94 L111.7 254.94 L112.1 254.95 L112.5 254.95 L112.9 254.95 L113.3 254.96 L113.7 254.96 L114.1 254.97 L114.5 254.97 L114.9 254.98 L115.3 254.98 L115.7 254.99 L116.1 254.99 L116.5 254.99 L116.9 255 L117.3 255 L117.7 255.01 L118.1 255.01 L118.5 255.02 L118.9 255.02 L119.3 255.03 L119.7 255.03 L120.1 255.03 L120.5 255.04 L120.9 255.04 L121.3 255.05 L121.7 255.05 L122.1 255.06 L122.5 255.06 L122.9 255.06 L123.3 255.07 L123.7 255.07 L124.1 255.08 L124.5 255.08 L124.9 255.09 L125.3 255.09 L125.7 255.1 L126.1 255.1 L126.5 255.1 L126.9 255.11 L127.3 255.11 L127.7 255.12 L128.1 255.12 L128.5 255.13 L128.9 255.13 L129.3 255.14 L129.7 255.14 L130.1 255.14 L130.5 255.15 L130.9 255.15 L131.3 255.16 L131.7 255.16 L132.1 255.17 L132.5 255.17 L132.9 255.17 L133.3 255.18 L133.7 255.18 L134.1 255.19 L134.5 255.19 L134.9 255.2 L135.3 255.2 L135.7 255.21 L136.1 255.21 L136.5 255.21 L136.9 255.22 L137.3 255.22 L137.7 255.23 L138.1 255.23 L138.5 255.24 L138.9 255.24 L139.3 255.25 L139.7 255.25 L140.1 255.25 L140.5 255.26 L140.9 255.26 L141.3 255.27 L141.7 255.27 L142.1 255.28 L142.5 255.28 L142.9 255.28 L143.3 255.29 L143.7 255.29 L144.1 255.3 L144.5 255.3 L144.9 255.31 L145.3 255.31 L145.7 255.32 L146.1 255.32 L146.5 255.32 L146.9 255.33 L147.3 255.33 L147.7 255.34 L148.1 255.34 L148.5 255.35 L148.9 255.35 L149.3 255.36 L149.7 255.36 L150.1 255.36 L150.5 255.37 L150.9 255.37 L151.3 255.38 L151.7 255.38 L152.1 255.39 L152.5 255.39 L152.9 255.39 L153.3 255.4 L153.7 255.4 L154.1 255.41 L154.5 255.41 L154.9 255.42 L155.3 255.42 L155.7 255.43 L156.1 255.43 L156.5 255.43 L156.9 255.44 L157.3 255.44 L157.7 255.45 L158.1 255.45 L158.5 255.46 L158.9 255.46 L159.3 255.47 L159.7 255.47 L160.1 255.47 L160.5 255.48 L160.9 255.48 L161.3 255.49 L161.7 255.49 L162.1 255.5 L162.5 255.5 L162.9 255.5 L163.3 255.51 L163.7 255.51 L164.1 255.52 L164.5 255.52 L164.9 255.53 L165.3 255.53 L165.7 255.54 L166.1 255.54 L166.5 255.54 L166.9 255.55 L167.3 255.55" stroke="#98a6d8" stroke-width="1.1" fill="none" stroke-linejoin="round" stroke-linecap="round" />
<rect x="16.7" y="141" width="151.3" height="122.6" fill="none" stroke="#000" stroke-width="1.6" />
<line x1="16.7" y1="263.6" x2="16.7" y2="260.8" stroke="#000" stroke-width="1" />
<line x1="41.7" y1="263.6" x2="41.7" y2="260.8" stroke="#000" stroke-width="1" />
<line x1="66.7" y1="263.6" x2="66.7" y2="260.8" stroke="#000" stroke-width="1" />
<line x1="91.7" y1="263.6" x2="91.7" y2="260.8" stroke="#000" stroke-width="1" />
<line x1="116.7" y1="263.6" x2="116.7" y2="260.8" stroke="#000" stroke-width="1" />
<line x1="141.7" y1="263.6" x2="141.7" y2="260.8" stroke="#000" stroke-width="1" />
<line x1="166.7" y1="263.6" x2="166.7" y2="260.8" stroke="#000" stroke-width="1" />
<line x1="29.2" y1="263.6" x2="29.2" y2="262.1" stroke="#000" stroke-width="1" />
<line x1="54.2" y1="263.6" x2="54.2" y2="262.1" stroke="#000" stroke-width="1" />
<line x1="79.2" y1="263.6" x2="79.2" y2="262.1" stroke="#000" stroke-width="1" />
<line x1="104.2" y1="263.6" x2="104.2" y2="262.1" stroke="#000" stroke-width="1" />
<line x1="129.2" y1="263.6" x2="129.2" y2="262.1" stroke="#000" stroke-width="1" />
<line x1="154.2" y1="263.6" x2="154.2" y2="262.1" stroke="#000" stroke-width="1" />
<text transform="translate(16.7 271.9) scale(1 1.06)" font-size="8.4" fill="#000" text-anchor="middle" >294</text>
<text transform="translate(41.7 271.9) scale(1 1.06)" font-size="8.4" fill="#000" text-anchor="middle" >292</text>
<text transform="translate(66.7 271.9) scale(1 1.06)" font-size="8.4" fill="#000" text-anchor="middle" >290</text>
<text transform="translate(91.7 271.9) scale(1 1.06)" font-size="8.4" fill="#000" text-anchor="middle" >288</text>
<text transform="translate(116.7 271.9) scale(1 1.06)" font-size="8.4" fill="#000" text-anchor="middle" >286</text>
<text transform="translate(141.7 271.9) scale(1 1.06)" font-size="8.4" fill="#000" text-anchor="middle" >284</text>
<text transform="translate(166.7 271.9) scale(1 1.06)" font-size="8.4" fill="#000" text-anchor="middle" >282</text>
<text transform="translate(20 151) scale(1 1.06)" font-size="9.54" fill="#ff1a1a" text-anchor="start" >C1s</text>
<text transform="translate(150.3 151.1) scale(1 1.06)" font-size="9.68" fill="#000" text-anchor="start" >WP</text>
<text transform="translate(0.4 148.9) scale(1 1.06)" font-size="9.4" fill="#000" text-anchor="start" >(E)</text>
<text transform="translate(108 172) scale(1 1.06)" font-size="7.09" fill="#000" text-anchor="start" >C-O</text>
<text transform="translate(107.5 181) scale(1 1.06)" font-size="7.37" fill="#000" text-anchor="start" >47.92%</text>
<text transform="translate(75 233.3) scale(1 1.06)" font-size="7.44" fill="#000" text-anchor="start" >C=O</text>
<text transform="translate(75 242) scale(1 1.06)" font-size="7.5" fill="#000" text-anchor="start" >9.86%</text>
<text transform="translate(25 240) scale(1 1.06)" font-size="6.92" fill="#000" text-anchor="start" >Π-Π*</text>
<text transform="translate(25 249) scale(1 1.06)" font-size="7.05" fill="#000" text-anchor="start" >3.27%</text>
<text transform="translate(136 210) scale(1 1.06)" font-size="7.1" fill="#000" text-anchor="start" >C-C/C=C</text>
<text transform="translate(136.25 219.5) scale(1 1.06)" font-size="7" fill="#000" text-anchor="start" >30.95%</text>
<rect x="184.7" y="140.3" width="150.8" height="123.8" fill="#eef7fd" stroke="none" stroke-width="1" />
<path d="M185.3 248.95 L185.7 248.95 L186.1 248.96 L186.5 248.97 L186.9 248.99 L187.3 249 L187.7 249.01 L188.1 249.02 L188.5 249.03 L188.9 249.05 L189.3 249.06 L189.7 249.07 L190.1 249.09 L190.5 249.1 L190.9 249.12 L191.3 249.13 L191.7 249.15 L192.1 249.17 L192.5 249.19 L192.9 249.21 L193.3 249.23 L193.7 249.25 L194.1 249.27 L194.5 249.29 L194.9 249.31 L195.3 249.34 L195.7 249.36 L196.1 249.38 L196.5 249.41 L196.9 249.44 L197.3 249.46 L197.7 249.49 L198.1 249.52 L198.5 249.55 L198.9 249.58 L199.3 249.62 L199.7 249.65 L200.1 249.68 L200.5 249.72 L200.9 249.75 L201.3 249.79 L201.7 249.82 L202.1 249.86 L202.5 249.9 L202.9 249.94 L203.3 249.98 L203.7 250.02 L204.1 250.07 L204.5 250.11 L204.9 250.15 L205.3 250.2 L205.7 250.24 L206.1 250.29 L206.5 250.33 L206.9 250.38 L207.3 250.43 L207.7 250.48 L208.1 250.53 L208.5 250.58 L208.9 250.62 L209.3 250.67 L209.7 250.72 L210.1 250.78 L210.5 250.83 L210.9 250.88 L211.3 250.93 L211.7 250.98 L212.1 251.03 L212.5 251.08 L212.9 251.13 L213.3 251.18 L213.7 251.23 L214.1 251.28 L214.5 251.33 L214.9 251.38 L215.3 251.43 L215.7 251.48 L216.1 251.53 L216.5 251.57 L216.9 251.62 L217.3 251.66 L217.7 251.71 L218.1 251.75 L218.5 251.8 L218.9 251.84 L219.3 251.88 L219.7 251.92 L220.1 251.96 L220.5 252 L220.9 252.04 L221.3 252.07 L221.7 252.11 L222.1 252.14 L222.5 252.17 L222.9 252.2 L223.3 252.23 L223.7 252.26 L224.1 252.29 L224.5 252.31 L224.9 252.34 L225.3 252.36 L225.7 252.38 L226.1 252.39 L226.5 252.41 L226.9 252.42 L227.3 252.43 L227.7 252.44 L228.1 252.45 L228.5 252.45 L228.9 252.45 L229.3 252.45 L229.7 252.44 L230.1 252.43 L230.5 252.42 L230.9 252.4 L231.3 252.38 L231.7 252.35 L232.1 252.32 L232.5 252.29 L232.9 252.25 L233.3 252.2 L233.7 252.15 L234.1 252.09 L234.5 252.02 L234.9 251.95 L235.3 251.87 L235.7 251.79 L236.1 251.69 L236.5 251.59 L236.9 251.48 L237.3 251.36 L237.7 251.23 L238.1 251.09 L238.5 250.94 L238.9 250.78 L239.3 250.62 L239.7 250.44 L240.1 250.25 L240.5 250.05 L240.9 249.83 L241.3 249.61 L241.7 249.38 L242.1 249.13 L242.5 248.88 L242.9 248.61 L243.3 248.33 L243.7 248.05 L244.1 247.75 L244.5 247.44 L244.9 247.13 L245.3 246.8 L245.7 246.47 L246.1 246.13 L246.5 245.79 L246.9 245.44 L247.3 245.08 L247.7 244.72 L248.1 244.36 L248.5 244 L248.9 243.63 L249.3 243.27 L249.7 242.91 L250.1 242.55 L250.5 242.19 L250.9 241.85 L251.3 241.5 L251.7 241.17 L252.1 240.85 L252.5 240.54 L252.9 240.24 L253.3 239.95 L253.7 239.68 L254.1 239.43 L254.5 239.19 L254.9 238.97 L255.3 238.77 L255.7 238.59 L256.1 238.42 L256.5 238.28 L256.9 238.16 L257.3 238.05 L257.7 237.96 L258.1 237.89 L258.5 237.84 L258.9 237.8 L259.3 237.77 L259.7 237.76 L260.1 237.75 L260.5 237.74 L260.9 237.74 L261.3 237.73 L261.7 237.72 L262.1 237.7 L262.5 237.66 L262.9 237.6 L263.3 237.51 L263.7 237.4 L264.1 237.25 L264.5 237.05 L264.9 236.8 L265.3 236.5 L265.7 236.14 L266.1 235.72 L266.5 235.22 L266.9 234.64 L267.3 233.98 L267.7 233.23 L268.1 232.4 L268.5 231.46 L268.9 230.43 L269.3 229.29 L269.7 228.06 L270.1 226.72 L270.5 225.28 L270.9 223.75 L271.3 222.11 L271.7 220.39 L272.1 218.58 L272.5 216.69 L272.9 214.73 L273.3 212.7 L273.7 210.63 L274.1 208.52 L274.5 206.38 L274.9 204.23 L275.3 202.08 L275.7 199.94 L276.1 197.84 L276.5 195.79 L276.9 193.79 L277.3 191.88 L277.7 190.05 L278.1 188.34 L278.5 186.74 L278.9 185.28 L279.3 183.95 L279.7 182.78 L280.1 181.76 L280.5 180.9 L280.9 180.2 L281.3 179.67 L281.7 179.29 L282.1 179.07 L282.5 178.98 L282.9 179.03 L283.3 179.19 L283.7 179.46 L284.1 179.81 L284.5 180.23 L284.9 180.7 L285.3 181.19 L285.7 181.69 L286.1 182.17 L286.5 182.61 L286.9 183.01 L287.3 183.32 L287.7 183.55 L288.1 183.67 L288.5 183.67 L288.9 183.54 L289.3 183.26 L289.7 182.84 L290.1 182.26 L290.5 181.53 L290.9 180.65 L291.3 179.61 L291.7 178.43 L292.1 177.12 L292.5 175.68 L292.9 174.14 L293.3 172.51 L293.7 170.8 L294.1 169.04 L294.5 167.25 L294.9 165.45 L295.3 163.67 L295.7 161.93 L296.1 160.26 L296.5 158.68 L296.9 157.21 L297.3 155.89 L297.7 154.73 L298.1 153.75 L298.5 152.97 L298.9 152.42 L299.3 152.09 L299.7 152.01 L300.1 152.19 L300.5 152.62 L300.9 153.31 L301.3 154.26 L301.7 155.47 L302.1 156.93 L302.5 158.63 L302.9 160.55 L303.3 162.69 L303.7 165.02 L304.1 167.53 L304.5 170.21 L304.9 173.03 L305.3 175.97 L305.7 179 L306.1 182.12 L306.5 185.3 L306.9 188.52 L307.3 191.76 L307.7 194.99 L308.1 198.21 L308.5 201.4 L308.9 204.54 L309.3 207.61 L309.7 210.61 L310.1 213.52 L310.5 216.33 L310.9 219.04 L311.3 221.64 L311.7 224.11 L312.1 226.47 L312.5 228.69 L312.9 230.8 L313.3 232.77 L313.7 234.62 L314.1 236.35 L314.5 237.95 L314.9 239.43 L315.3 240.8 L315.7 242.07 L316.1 243.22 L316.5 244.28 L316.9 245.24 L317.3 246.11 L317.7 246.9 L318.1 247.61 L318.5 248.25 L318.9 248.83 L319.3 249.34 L319.7 249.8 L320.1 250.2 L320.5 250.57 L320.9 250.88 L321.3 251.17 L321.7 251.41 L322.1 251.63 L322.5 251.82 L322.9 251.99 L323.3 252.14 L323.7 252.27 L324.1 252.38 L324.5 252.47 L324.9 252.56 L325.3 252.63 L325.7 252.7 L326.1 252.76 L326.5 252.8 L326.9 252.85 L327.3 252.89 L327.7 252.92 L328.1 252.95 L328.5 252.98 L328.9 253 L329.3 253.02 L329.7 253.04 L330.1 253.06 L330.5 253.07 L330.9 253.09 L331.3 253.1 L331.7 253.12 L332.1 253.13 L332.5 253.14 L332.9 253.15 L333.3 253.16 L333.7 253.17 L334.1 253.18 L334.5 253.19 L334.9 253.2" stroke="#ffb8cc" stroke-width="1.5" fill="none" stroke-linejoin="round" stroke-linecap="round" />
<path d="M185.3 246.26 L185.7 246.04 L186.1 245.81 L186.5 245.55 L186.9 245.28 L187.3 244.99 L187.7 244.69 L188.1 244.36 L188.5 244.01 L188.9 243.65 L189.3 243.27 L189.7 242.87 L190.1 242.45 L190.5 242.02 L190.9 241.58 L191.3 241.12 L191.7 240.65 L192.1 240.17 L192.5 239.69 L192.9 239.2 L193.3 238.71 L193.7 238.22 L194.1 237.74 L194.5 237.27 L194.9 236.81 L195.3 236.36 L195.7 235.94 L196.1 235.54 L196.5 235.17 L196.9 234.84 L197.3 234.54 L197.7 234.29 L198.1 234.08 L198.5 233.92 L198.9 233.82 L199.3 233.77 L199.7 233.78 L200.1 233.84 L200.5 233.96 L200.9 234.13 L201.3 234.36 L201.7 234.63 L202.1 234.96 L202.5 235.32 L202.9 235.72 L203.3 236.16 L203.7 236.63 L204.1 237.12 L204.5 237.64 L204.9 238.17 L205.3 238.71 L205.7 239.26 L206.1 239.82 L206.5 240.37 L206.9 240.93 L207.3 241.48 L207.7 242.03 L208.1 242.57 L208.5 243.09 L208.9 243.61 L209.3 244.11 L209.7 244.59 L210.1 245.06 L210.5 245.51 L210.9 245.94 L211.3 246.35 L211.7 246.74 L212.1 247.12 L212.5 247.47 L212.9 247.81 L213.3 248.13 L213.7 248.42 L214.1 248.71 L214.5 248.97 L214.9 249.22 L215.3 249.45 L215.7 249.67 L216.1 249.87 L216.5 250.06 L216.9 250.24 L217.3 250.41 L217.7 250.56 L218.1 250.7 L218.5 250.84 L218.9 250.96 L219.3 251.08 L219.7 251.19 L220.1 251.3 L220.5 251.39 L220.9 251.48 L221.3 251.57 L221.7 251.65 L222.1 251.73 L222.5 251.8 L222.9 251.87 L223.3 251.93 L223.7 251.99 L224.1 252.05 L224.5 252.11 L224.9 252.16 L225.3 252.21 L225.7 252.26 L226.1 252.31 L226.5 252.35 L226.9 252.39 L227.3 252.44 L227.7 252.47 L228.1 252.51 L228.5 252.55 L228.9 252.59 L229.3 252.62 L229.7 252.65 L230.1 252.68 L230.5 252.71 L230.9 252.74 L231.3 252.77 L231.7 252.8 L232.1 252.83 L232.5 252.85 L232.9 252.88 L233.3 252.9 L233.7 252.92 L234.1 252.94 L234.5 252.97 L234.9 252.99 L235.3 253.01 L235.7 253.02 L236.1 253.04 L236.5 253.06 L236.9 253.08 L237.3 253.09 L237.7 253.11 L238.1 253.13 L238.5 253.14 L238.9 253.15 L239.3 253.17 L239.7 253.18 L240.1 253.19 L240.5 253.21 L240.9 253.22 L241.3 253.23 L241.7 253.24 L242.1 253.25 L242.5 253.26 L242.9 253.27 L243.3 253.28 L243.7 253.29 L244.1 253.3 L244.5 253.31 L244.9 253.32 L245.3 253.32 L245.7 253.33 L246.1 253.34 L246.5 253.35 L246.9 253.35 L247.3 253.36 L247.7 253.36 L248.1 253.37 L248.5 253.38 L248.9 253.38 L249.3 253.39 L249.7 253.39 L250.1 253.4 L250.5 253.4 L250.9 253.41 L251.3 253.41 L251.7 253.42 L252.1 253.42 L252.5 253.43 L252.9 253.43 L253.3 253.43 L253.7 253.44 L254.1 253.44 L254.5 253.44 L254.9 253.45 L255.3 253.45 L255.7 253.45 L256.1 253.46 L256.5 253.46 L256.9 253.46 L257.3 253.47 L257.7 253.47 L258.1 253.47 L258.5 253.47 L258.9 253.48 L259.3 253.48 L259.7 253.48 L260.1 253.48 L260.5 253.49 L260.9 253.49 L261.3 253.49 L261.7 253.49 L262.1 253.49 L262.5 253.5 L262.9 253.5 L263.3 253.5 L263.7 253.5 L264.1 253.5 L264.5 253.5 L264.9 253.51 L264.9 253.59 L264.5 253.59 L264.1 253.59 L263.7 253.58 L263.3 253.58 L262.9 253.58 L262.5 253.58 L262.1 253.58 L261.7 253.58 L261.3 253.58 L260.9 253.58 L260.5 253.58 L260.1 253.58 L259.7 253.58 L259.3 253.58 L258.9 253.57 L258.5 253.57 L258.1 253.57 L257.7 253.57 L257.3 253.57 L256.9 253.57 L256.5 253.57 L256.1 253.56 L255.7 253.56 L255.3 253.56 L254.9 253.56 L254.5 253.56 L254.1 253.56 L253.7 253.55 L253.3 253.55 L252.9 253.55 L252.5 253.55 L252.1 253.54 L251.7 253.54 L251.3 253.54 L250.9 253.54 L250.5 253.53 L250.1 253.53 L249.7 253.53 L249.3 253.53 L248.9 253.52 L248.5 253.52 L248.1 253.51 L247.7 253.51 L247.3 253.51 L246.9 253.5 L246.5 253.5 L246.1 253.49 L245.7 253.49 L245.3 253.48 L244.9 253.48 L244.5 253.47 L244.1 253.47 L243.7 253.46 L243.3 253.46 L242.9 253.45 L242.5 253.44 L242.1 253.44 L241.7 253.43 L241.3 253.42 L240.9 253.41 L240.5 253.41 L240.1 253.4 L239.7 253.39 L239.3 253.38 L238.9 253.37 L238.5 253.36 L238.1 253.35 L237.7 253.34 L237.3 253.33 L236.9 253.32 L236.5 253.3 L236.1 253.29 L235.7 253.28 L235.3 253.26 L234.9 253.25 L234.5 253.24 L234.1 253.22 L233.7 253.2 L233.3 253.19 L232.9 253.17 L232.5 253.15 L232.1 253.14 L231.7 253.12 L231.3 253.1 L230.9 253.08 L230.5 253.06 L230.1 253.03 L229.7 253.01 L229.3 252.99 L228.9 252.96 L228.5 252.94 L228.1 252.91 L227.7 252.89 L227.3 252.86 L226.9 252.83 L226.5 252.8 L226.1 252.77 L225.7 252.74 L225.3 252.71 L224.9 252.68 L224.5 252.64 L224.1 252.61 L223.7 252.57 L223.3 252.54 L222.9 252.5 L222.5 252.46 L222.1 252.42 L221.7 252.38 L221.3 252.34 L220.9 252.3 L220.5 252.26 L220.1 252.21 L219.7 252.17 L219.3 252.12 L218.9 252.08 L218.5 252.03 L218.1 251.98 L217.7 251.94 L217.3 251.89 L216.9 251.84 L216.5 251.79 L216.1 251.74 L215.7 251.69 L215.3 251.64 L214.9 251.58 L214.5 251.53 L214.1 251.48 L213.7 251.43 L213.3 251.37 L212.9 251.32 L212.5 251.27 L212.1 251.21 L211.7 251.16 L211.3 251.11 L210.9 251.05 L210.5 251 L210.1 250.95 L209.7 250.89 L209.3 250.84 L208.9 250.79 L208.5 250.74 L208.1 250.69 L207.7 250.64 L207.3 250.59 L206.9 250.54 L206.5 250.49 L206.1 250.44 L205.7 250.39 L205.3 250.35 L204.9 250.3 L204.5 250.25 L204.1 250.21 L203.7 250.17 L203.3 250.12 L202.9 250.08 L202.5 250.04 L202.1 250 L201.7 249.96 L201.3 249.92 L200.9 249.88 L200.5 249.85 L200.1 249.81 L199.7 249.78 L199.3 249.74 L198.9 249.71 L198.5 249.68 L198.1 249.64 L197.7 249.61 L197.3 249.58 L196.9 249.56 L196.5 249.53 L196.1 249.5 L195.7 249.47 L195.3 249.45 L194.9 249.42 L194.5 249.4 L194.1 249.38 L193.7 249.36 L193.3 249.33 L192.9 249.31 L192.5 249.29 L192.1 249.27 L191.7 249.26 L191.3 249.24 L190.9 249.22 L190.5 249.2 L190.1 249.19 L189.7 249.17 L189.3 249.16 L188.9 249.14 L188.5 249.13 L188.1 249.12 L187.7 249.1 L187.3 249.09 L186.9 249.08 L186.5 249.07 L186.1 249.06 L185.7 249.05 L185.3 249.03 Z" fill="url(#gp)" stroke="none"/>
<path d="M185.3 246.26 L185.7 246.04 L186.1 245.81 L186.5 245.55 L186.9 245.28 L187.3 244.99 L187.7 244.69 L188.1 244.36 L188.5 244.01 L188.9 243.65 L189.3 243.27 L189.7 242.87 L190.1 242.45 L190.5 242.02 L190.9 241.58 L191.3 241.12 L191.7 240.65 L192.1 240.17 L192.5 239.69 L192.9 239.2 L193.3 238.71 L193.7 238.22 L194.1 237.74 L194.5 237.27 L194.9 236.81 L195.3 236.36 L195.7 235.94 L196.1 235.54 L196.5 235.17 L196.9 234.84 L197.3 234.54 L197.7 234.29 L198.1 234.08 L198.5 233.92 L198.9 233.82 L199.3 233.77 L199.7 233.78" stroke="#d050d8" stroke-width="1.5" fill="none" stroke-linejoin="round" stroke-linecap="round" />
<path d="M199.7 233.78 L200.1 233.84 L200.5 233.96 L200.9 234.13 L201.3 234.36 L201.7 234.63 L202.1 234.96 L202.5 235.32 L202.9 235.72 L203.3 236.16 L203.7 236.63 L204.1 237.12 L204.5 237.64 L204.9 238.17 L205.3 238.71 L205.7 239.26 L206.1 239.82 L206.5 240.37 L206.9 240.93 L207.3 241.48 L207.7 242.03 L208.1 242.57 L208.5 243.09 L208.9 243.61 L209.3 244.11 L209.7 244.59 L210.1 245.06 L210.5 245.51 L210.9 245.94 L211.3 246.35 L211.7 246.74 L212.1 247.12 L212.5 247.47 L212.9 247.81 L213.3 248.13 L213.7 248.42 L214.1 248.71 L214.5 248.97 L214.9 249.22 L215.3 249.45 L215.7 249.67 L216.1 249.87 L216.5 250.06 L216.9 250.24 L217.3 250.41 L217.7 250.56 L218.1 250.7 L218.5 250.84 L218.9 250.96 L219.3 251.08 L219.7 251.19 L220.1 251.3 L220.5 251.39 L220.9 251.48 L221.3 251.57 L221.7 251.65 L222.1 251.73 L222.5 251.8 L222.9 251.87 L223.3 251.93 L223.7 251.99 L224.1 252.05 L224.5 252.11 L224.9 252.16 L225.3 252.21 L225.7 252.26 L226.1 252.31 L226.5 252.35 L226.9 252.39 L227.3 252.44 L227.7 252.47 L228.1 252.51 L228.5 252.55 L228.9 252.59 L229.3 252.62 L229.7 252.65 L230.1 252.68 L230.5 252.71 L230.9 252.74 L231.3 252.77 L231.7 252.8 L232.1 252.83 L232.5 252.85 L232.9 252.88 L233.3 252.9 L233.7 252.92 L234.1 252.94 L234.5 252.97 L234.9 252.99 L235.3 253.01 L235.7 253.02 L236.1 253.04 L236.5 253.06 L236.9 253.08 L237.3 253.09 L237.7 253.11 L238.1 253.13 L238.5 253.14 L238.9 253.15 L239.3 253.17 L239.7 253.18 L240.1 253.19 L240.5 253.21 L240.9 253.22 L241.3 253.23 L241.7 253.24 L242.1 253.25 L242.5 253.26 L242.9 253.27 L243.3 253.28 L243.7 253.29 L244.1 253.3 L244.5 253.31 L244.9 253.32 L245.3 253.32 L245.7 253.33 L246.1 253.34 L246.5 253.35 L246.9 253.35 L247.3 253.36 L247.7 253.36 L248.1 253.37 L248.5 253.38 L248.9 253.38 L249.3 253.39 L249.7 253.39 L250.1 253.4 L250.5 253.4 L250.9 253.41 L251.3 253.41 L251.7 253.42 L252.1 253.42 L252.5 253.43 L252.9 253.43 L253.3 253.43 L253.7 253.44 L254.1 253.44 L254.5 253.44 L254.9 253.45 L255.3 253.45 L255.7 253.45 L256.1 253.46 L256.5 253.46 L256.9 253.46 L257.3 253.47 L257.7 253.47 L258.1 253.47 L258.5 253.47 L258.9 253.48 L259.3 253.48 L259.7 253.48 L260.1 253.48 L260.5 253.49 L260.9 253.49 L261.3 253.49 L261.7 253.49 L262.1 253.49 L262.5 253.5 L262.9 253.5 L263.3 253.5 L263.7 253.5 L264.1 253.5 L264.5 253.5 L264.9 253.51" stroke="#d050d8" stroke-width="1.5" fill="none" stroke-linejoin="round" stroke-linecap="round" />
<path d="M210.1 250.87 L210.5 250.92 L210.9 250.97 L211.3 251.02 L211.7 251.07 L212.1 251.13 L212.5 251.18 L212.9 251.23 L213.3 251.28 L213.7 251.33 L214.1 251.38 L214.5 251.43 L214.9 251.48 L215.3 251.53 L215.7 251.58 L216.1 251.63 L216.5 251.68 L216.9 251.73 L217.3 251.78 L217.7 251.82 L218.1 251.87 L218.5 251.91 L218.9 251.96 L219.3 252 L219.7 252.04 L220.1 252.08 L220.5 252.12 L220.9 252.16 L221.3 252.2 L221.7 252.23 L222.1 252.27 L222.5 252.3 L222.9 252.33 L223.3 252.36 L223.7 252.39 L224.1 252.42 L224.5 252.45 L224.9 252.47 L225.3 252.5 L225.7 252.52 L226.1 252.54 L226.5 252.55 L226.9 252.57 L227.3 252.58 L227.7 252.59 L228.1 252.6 L228.5 252.6 L228.9 252.61 L229.3 252.61 L229.7 252.6 L230.1 252.59 L230.5 252.58 L230.9 252.57 L231.3 252.55 L231.7 252.52 L232.1 252.5 L232.5 252.46 L232.9 252.42 L233.3 252.38 L233.7 252.33 L234.1 252.28 L234.5 252.21 L234.9 252.14 L235.3 252.07 L235.7 251.98 L236.1 251.89 L236.5 251.79 L236.9 251.69 L237.3 251.57 L237.7 251.44 L238.1 251.31 L238.5 251.16 L238.9 251.01 L239.3 250.84 L239.7 250.67 L240.1 250.48 L240.5 250.28 L240.9 250.08 L241.3 249.86 L241.7 249.63 L242.1 249.39 L242.5 249.14 L242.9 248.87 L243.3 248.6 L243.7 248.32 L244.1 248.03 L244.5 247.73 L244.9 247.42 L245.3 247.1 L245.7 246.77 L246.1 246.44 L246.5 246.1 L246.9 245.75 L247.3 245.4 L247.7 245.05 L248.1 244.7 L248.5 244.34 L248.9 243.98 L249.3 243.63 L249.7 243.27 L250.1 242.92 L250.5 242.58 L250.9 242.24 L251.3 241.91 L251.7 241.59 L252.1 241.27 L252.5 240.98 L252.9 240.69 L253.3 240.42 L253.7 240.17 L254.1 239.93 L254.5 239.71 L254.9 239.51 L255.3 239.34 L255.7 239.18 L256.1 239.05 L256.5 238.95 L256.9 238.87 L257.3 238.81 L257.7 238.78 L258.1 238.77 L258.5 238.79 L258.9 238.84 L259.3 238.91 L259.7 239.01 L260.1 239.13 L260.5 239.27 L260.9 239.44 L261.3 239.63 L261.7 239.84 L262.1 240.07 L262.5 240.32 L262.9 240.59 L263.3 240.87 L263.7 241.16 L264.1 241.47 L264.5 241.79 L264.9 242.12 L265.3 242.46 L265.7 242.8 L266.1 243.15 L266.5 243.51 L266.9 243.87 L267.3 244.23 L267.7 244.59 L268.1 244.95 L268.5 245.31 L268.9 245.67 L269.3 246.02 L269.7 246.36 L270.1 246.71 L270.5 247.04 L270.9 247.37 L271.3 247.69 L271.7 248 L272.1 248.3 L272.5 248.6 L272.9 248.88 L273.3 249.16 L273.7 249.42 L274.1 249.67 L274.5 249.91 L274.9 250.15 L275.3 250.37 L275.7 250.58 L276.1 250.78 L276.5 250.97 L276.9 251.15 L277.3 251.32 L277.7 251.48 L278.1 251.63 L278.5 251.77 L278.9 251.9 L279.3 252.03 L279.7 252.14 L280.1 252.25 L280.5 252.35 L280.9 252.45 L281.3 252.53 L281.7 252.61 L282.1 252.69 L282.5 252.76 L282.9 252.82 L283.3 252.88 L283.7 252.93 L284.1 252.98 L284.5 253.03 L284.9 253.07 L285.3 253.11 L285.7 253.14 L286.1 253.17 L286.5 253.2 L286.9 253.23 L287.3 253.25 L287.7 253.28 L288.1 253.3 L288.5 253.31 L288.9 253.33 L289.3 253.34 L289.7 253.36 L290.1 253.37 L290.5 253.38 L290.9 253.39 L291.3 253.4 L291.7 253.41 L292.1 253.42 L292.5 253.43 L292.9 253.43 L293.3 253.44 L293.7 253.44 L294.1 253.45 L294.5 253.45 L294.9 253.46 L295.3 253.46 L295.7 253.47 L296.1 253.47 L296.5 253.47 L296.9 253.48 L297.3 253.48 L297.7 253.48 L298.1 253.48 L298.5 253.49 L298.9 253.49 L299.3 253.49 L299.7 253.49 L300.1 253.5 L300.5 253.5 L300.9 253.5 L301.3 253.5 L301.7 253.5 L302.1 253.51 L302.5 253.51 L302.9 253.51 L303.3 253.51 L303.7 253.51 L304.1 253.51 L304.5 253.51 L304.9 253.52 L305.3 253.52 L305.7 253.52 L306.1 253.52 L306.1 253.6 L305.7 253.6 L305.3 253.6 L304.9 253.6 L304.5 253.6 L304.1 253.6 L303.7 253.6 L303.3 253.6 L302.9 253.6 L302.5 253.6 L302.1 253.6 L301.7 253.6 L301.3 253.6 L300.9 253.6 L300.5 253.6 L300.1 253.6 L299.7 253.6 L299.3 253.6 L298.9 253.6 L298.5 253.6 L298.1 253.6 L297.7 253.6 L297.3 253.6 L296.9 253.6 L296.5 253.6 L296.1 253.6 L295.7 253.6 L295.3 253.6 L294.9 253.6 L294.5 253.6 L294.1 253.6 L293.7 253.6 L293.3 253.6 L292.9 253.6 L292.5 253.6 L292.1 253.6 L291.7 253.6 L291.3 253.6 L290.9 253.6 L290.5 253.6 L290.1 253.6 L289.7 253.6 L289.3 253.6 L288.9 253.6 L288.5 253.6 L288.1 253.6 L287.7 253.6 L287.3 253.6 L286.9 253.6 L286.5 253.6 L286.1 253.6 L285.7 253.6 L285.3 253.6 L284.9 253.6 L284.5 253.6 L284.1 253.6 L283.7 253.6 L283.3 253.6 L282.9 253.6 L282.5 253.6 L282.1 253.6 L281.7 253.6 L281.3 253.6 L280.9 253.6 L280.5 253.6 L280.1 253.6 L279.7 253.6 L279.3 253.6 L278.9 253.6 L278.5 253.6 L278.1 253.6 L277.7 253.6 L277.3 253.6 L276.9 253.6 L276.5 253.6 L276.1 253.6 L275.7 253.6 L275.3 253.6 L274.9 253.6 L274.5 253.6 L274.1 253.6 L273.7 253.59 L273.3 253.59 L272.9 253.59 L272.5 253.59 L272.1 253.59 L271.7 253.59 L271.3 253.59 L270.9 253.59 L270.5 253.59 L270.1 253.59 L269.7 253.59 L269.3 253.59 L268.9 253.59 L268.5 253.59 L268.1 253.59 L267.7 253.59 L267.3 253.59 L266.9 253.59 L266.5 253.59 L266.1 253.59 L265.7 253.59 L265.3 253.59 L264.9 253.59 L264.5 253.59 L264.1 253.59 L263.7 253.58 L263.3 253.58 L262.9 253.58 L262.5 253.58 L262.1 253.58 L261.7 253.58 L261.3 253.58 L260.9 253.58 L260.5 253.58 L260.1 253.58 L259.7 253.58 L259.3 253.58 L258.9 253.57 L258.5 253.57 L258.1 253.57 L257.7 253.57 L257.3 253.57 L256.9 253.57 L256.5 253.57 L256.1 253.56 L255.7 253.56 L255.3 253.56 L254.9 253.56 L254.5 253.56 L254.1 253.56 L253.7 253.55 L253.3 253.55 L252.9 253.55 L252.5 253.55 L252.1 253.54 L251.7 253.54 L251.3 253.54 L250.9 253.54 L250.5 253.53 L250.1 253.53 L249.7 253.53 L249.3 253.53 L248.9 253.52 L248.5 253.52 L248.1 253.51 L247.7 253.51 L247.3 253.51 L246.9 253.5 L246.5 253.5 L246.1 253.49 L245.7 253.49 L245.3 253.48 L244.9 253.48 L244.5 253.47 L244.1 253.47 L243.7 253.46 L243.3 253.46 L242.9 253.45 L242.5 253.44 L242.1 253.44 L241.7 253.43 L241.3 253.42 L240.9 253.41 L240.5 253.41 L240.1 253.4 L239.7 253.39 L239.3 253.38 L238.9 253.37 L238.5 253.36 L238.1 253.35 L237.7 253.34 L237.3 253.33 L236.9 253.32 L236.5 253.3 L236.1 253.29 L235.7 253.28 L235.3 253.26 L234.9 253.25 L234.5 253.24 L234.1 253.22 L233.7 253.2 L233.3 253.19 L232.9 253.17 L232.5 253.15 L232.1 253.14 L231.7 253.12 L231.3 253.1 L230.9 253.08 L230.5 253.06 L230.1 253.03 L229.7 253.01 L229.3 252.99 L228.9 252.96 L228.5 252.94 L228.1 252.91 L227.7 252.89 L227.3 252.86 L226.9 252.83 L226.5 252.8 L226.1 252.77 L225.7 252.74 L225.3 252.71 L224.9 252.68 L224.5 252.64 L224.1 252.61 L223.7 252.57 L223.3 252.54 L222.9 252.5 L222.5 252.46 L222.1 252.42 L221.7 252.38 L221.3 252.34 L220.9 252.3 L220.5 252.26 L220.1 252.21 L219.7 252.17 L219.3 252.12 L218.9 252.08 L218.5 252.03 L218.1 251.98 L217.7 251.94 L217.3 251.89 L216.9 251.84 L216.5 251.79 L216.1 251.74 L215.7 251.69 L215.3 251.64 L214.9 251.58 L214.5 251.53 L214.1 251.48 L213.7 251.43 L213.3 251.37 L212.9 251.32 L212.5 251.27 L212.1 251.21 L211.7 251.16 L211.3 251.11 L210.9 251.05 L210.5 251 L210.1 250.95 Z" fill="url(#gg)" stroke="none"/>
<path d="M210.1 250.87 L210.5 250.92 L210.9 250.97 L211.3 251.02 L211.7 251.07 L212.1 251.13 L212.5 251.18 L212.9 251.23 L213.3 251.28 L213.7 251.33 L214.1 251.38 L214.5 251.43 L214.9 251.48 L215.3 251.53 L215.7 251.58 L216.1 251.63 L216.5 251.68 L216.9 251.73 L217.3 251.78 L217.7 251.82 L218.1 251.87 L218.5 251.91 L218.9 251.96 L219.3 252 L219.7 252.04 L220.1 252.08 L220.5 252.12 L220.9 252.16 L221.3 252.2 L221.7 252.23 L222.1 252.27 L222.5 252.3 L222.9 252.33 L223.3 252.36 L223.7 252.39 L224.1 252.42 L224.5 252.45 L224.9 252.47 L225.3 252.5 L225.7 252.52 L226.1 252.54 L226.5 252.55 L226.9 252.57 L227.3 252.58 L227.7 252.59 L228.1 252.6 L228.5 252.6 L228.9 252.61 L229.3 252.61 L229.7 252.6 L230.1 252.59 L230.5 252.58 L230.9 252.57 L231.3 252.55 L231.7 252.52 L232.1 252.5 L232.5 252.46 L232.9 252.42 L233.3 252.38 L233.7 252.33 L234.1 252.28 L234.5 252.21 L234.9 252.14 L235.3 252.07 L235.7 251.98 L236.1 251.89 L236.5 251.79 L236.9 251.69 L237.3 251.57 L237.7 251.44 L238.1 251.31 L238.5 251.16 L238.9 251.01 L239.3 250.84 L239.7 250.67 L240.1 250.48 L240.5 250.28 L240.9 250.08 L241.3 249.86 L241.7 249.63 L242.1 249.39 L242.5 249.14 L242.9 248.87 L243.3 248.6 L243.7 248.32 L244.1 248.03 L244.5 247.73 L244.9 247.42 L245.3 247.1 L245.7 246.77 L246.1 246.44 L246.5 246.1 L246.9 245.75 L247.3 245.4 L247.7 245.05 L248.1 244.7 L248.5 244.34 L248.9 243.98 L249.3 243.63 L249.7 243.27 L250.1 242.92 L250.5 242.58 L250.9 242.24 L251.3 241.91 L251.7 241.59 L252.1 241.27 L252.5 240.98 L252.9 240.69 L253.3 240.42 L253.7 240.17 L254.1 239.93 L254.5 239.71 L254.9 239.51 L255.3 239.34 L255.7 239.18 L256.1 239.05 L256.5 238.95 L256.9 238.87 L257.3 238.81 L257.7 238.78 L258.1 238.77" stroke="#90c890" stroke-width="1.2" fill="none" stroke-linejoin="round" stroke-linecap="round" />
<path d="M257.7 238.78 L258.1 238.77 L258.5 238.79 L258.9 238.84 L259.3 238.91 L259.7 239.01 L260.1 239.13 L260.5 239.27 L260.9 239.44 L261.3 239.63 L261.7 239.84 L262.1 240.07 L262.5 240.32 L262.9 240.59 L263.3 240.87 L263.7 241.16 L264.1 241.47 L264.5 241.79 L264.9 242.12 L265.3 242.46 L265.7 242.8 L266.1 243.15 L266.5 243.51 L266.9 243.87 L267.3 244.23 L267.7 244.59 L268.1 244.95 L268.5 245.31 L268.9 245.67 L269.3 246.02 L269.7 246.36 L270.1 246.71 L270.5 247.04 L270.9 247.37 L271.3 247.69 L271.7 248 L272.1 248.3 L272.5 248.6 L272.9 248.88 L273.3 249.16 L273.7 249.42 L274.1 249.67 L274.5 249.91 L274.9 250.15 L275.3 250.37 L275.7 250.58 L276.1 250.78 L276.5 250.97 L276.9 251.15 L277.3 251.32 L277.7 251.48 L278.1 251.63 L278.5 251.77 L278.9 251.9 L279.3 252.03 L279.7 252.14 L280.1 252.25 L280.5 252.35 L280.9 252.45 L281.3 252.53 L281.7 252.61 L282.1 252.69 L282.5 252.76 L282.9 252.82 L283.3 252.88 L283.7 252.93 L284.1 252.98 L284.5 253.03 L284.9 253.07 L285.3 253.11 L285.7 253.14 L286.1 253.17 L286.5 253.2 L286.9 253.23 L287.3 253.25 L287.7 253.28 L288.1 253.3 L288.5 253.31 L288.9 253.33 L289.3 253.34 L289.7 253.36 L290.1 253.37 L290.5 253.38 L290.9 253.39 L291.3 253.4 L291.7 253.41 L292.1 253.42 L292.5 253.43 L292.9 253.43 L293.3 253.44 L293.7 253.44 L294.1 253.45 L294.5 253.45 L294.9 253.46 L295.3 253.46 L295.7 253.47 L296.1 253.47 L296.5 253.47 L296.9 253.48 L297.3 253.48 L297.7 253.48 L298.1 253.48 L298.5 253.49 L298.9 253.49 L299.3 253.49 L299.7 253.49 L300.1 253.5 L300.5 253.5 L300.9 253.5 L301.3 253.5 L301.7 253.5 L302.1 253.51 L302.5 253.51 L302.9 253.51 L303.3 253.51 L303.7 253.51 L304.1 253.51 L304.5 253.51 L304.9 253.52 L305.3 253.52 L305.7 253.52 L306.1 253.52" stroke="#10c010" stroke-width="1.2" fill="none" stroke-linejoin="round" stroke-linecap="round" />
<path d="M232.5 253.07 L232.9 253.09 L233.3 253.11 L233.7 253.12 L234.1 253.14 L234.5 253.15 L234.9 253.16 L235.3 253.18 L235.7 253.19 L236.1 253.2 L236.5 253.21 L236.9 253.22 L237.3 253.23 L237.7 253.24 L238.1 253.25 L238.5 253.26 L238.9 253.27 L239.3 253.28 L239.7 253.29 L240.1 253.3 L240.5 253.3 L240.9 253.31 L241.3 253.32 L241.7 253.32 L242.1 253.33 L242.5 253.33 L242.9 253.34 L243.3 253.34 L243.7 253.35 L244.1 253.35 L244.5 253.36 L244.9 253.36 L245.3 253.36 L245.7 253.37 L246.1 253.37 L246.5 253.37 L246.9 253.37 L247.3 253.38 L247.7 253.38 L248.1 253.38 L248.5 253.38 L248.9 253.38 L249.3 253.38 L249.7 253.39 L250.1 253.39 L250.5 253.39 L250.9 253.39 L251.3 253.39 L251.7 253.39 L252.1 253.39 L252.5 253.39 L252.9 253.39 L253.3 253.39 L253.7 253.39 L254.1 253.38 L254.5 253.38 L254.9 253.38 L255.3 253.38 L255.7 253.38 L256.1 253.38 L256.5 253.38 L256.9 253.37 L257.3 253.37 L257.7 253.37 L258.1 253.37 L258.5 253.37 L258.9 253.36 L259.3 253.36 L259.7 253.36 L260.1 253.35 L260.5 253.35 L260.9 253.35 L261.3 253.34 L261.7 253.34 L262.1 253.34 L262.5 253.33 L262.9 253.33 L263.3 253.32 L263.7 253.32 L264.1 253.31 L264.5 253.31 L264.9 253.3 L265.3 253.29 L265.7 253.29 L266.1 253.28 L266.5 253.28 L266.9 253.27 L267.3 253.26 L267.7 253.25 L268.1 253.24 L268.5 253.23 L268.9 253.22 L269.3 253.21 L269.7 253.2 L270.1 253.18 L270.5 253.17 L270.9 253.15 L271.3 253.13 L271.7 253.11 L272.1 253.09 L272.5 253.06 L272.9 253.03 L273.3 252.99 L273.7 252.95 L274.1 252.9 L274.5 252.85 L274.9 252.79 L275.3 252.72 L275.7 252.64 L276.1 252.54 L276.5 252.43 L276.9 252.31 L277.3 252.16 L277.7 252 L278.1 251.81 L278.5 251.6 L278.9 251.35 L279.3 251.07 L279.7 250.76 L280.1 250.4 L280.5 250 L280.9 249.54 L281.3 249.03 L281.7 248.46 L282.1 247.83 L282.5 247.12 L282.9 246.33 L283.3 245.47 L283.7 244.51 L284.1 243.46 L284.5 242.31 L284.9 241.05 L285.3 239.69 L285.7 238.21 L286.1 236.61 L286.5 234.89 L286.9 233.05 L287.3 231.08 L287.7 228.99 L288.1 226.76 L288.5 224.42 L288.9 221.95 L289.3 219.37 L289.7 216.67 L290.1 213.87 L290.5 210.97 L290.9 207.98 L291.3 204.92 L291.7 201.8 L292.1 198.63 L292.5 195.43 L292.9 192.22 L293.3 189.01 L293.7 185.82 L294.1 182.68 L294.5 179.6 L294.9 176.61 L295.3 173.73 L295.7 170.97 L296.1 168.37 L296.5 165.94 L296.9 163.7 L297.3 161.67 L297.7 159.88 L298.1 158.33 L298.5 157.04 L298.9 156.02 L299.3 155.29 L299.7 154.85 L300.1 154.7 L300.5 154.85 L300.9 155.29 L301.3 156.02 L301.7 157.04 L302.1 158.33 L302.5 159.88 L302.9 161.67 L303.3 163.7 L303.7 165.94 L304.1 168.37 L304.5 170.97 L304.9 173.73 L305.3 176.61 L305.7 179.6 L306.1 182.68 L306.5 185.82 L306.9 189.01 L307.3 192.22 L307.7 195.43 L308.1 198.63 L308.5 201.8 L308.9 204.93 L309.3 207.98 L309.7 210.97 L310.1 213.87 L310.5 216.67 L310.9 219.37 L311.3 221.95 L311.7 224.42 L312.1 226.77 L312.5 228.99 L312.9 231.08 L313.3 233.05 L313.7 234.89 L314.1 236.61 L314.5 238.21 L314.9 239.69 L315.3 241.05 L315.7 242.31 L316.1 243.46 L316.5 244.51 L316.9 245.47 L317.3 246.34 L317.7 247.12 L318.1 247.83 L318.5 248.47 L318.9 249.04 L319.3 249.55 L319.7 250 L320.1 250.4 L320.5 250.76 L320.9 251.08 L321.3 251.35 L321.7 251.6 L322.1 251.81 L322.5 252 L322.9 252.17 L323.3 252.31 L323.7 252.44 L324.1 252.54 L324.5 252.64 L324.9 252.72 L325.3 252.79 L325.7 252.86 L326.1 252.91 L326.5 252.96 L326.9 253 L327.3 253.03 L327.7 253.07 L328.1 253.09 L328.5 253.12 L328.9 253.14 L329.3 253.16 L329.7 253.18 L330.1 253.19 L330.5 253.21 L330.9 253.22 L331.3 253.23 L331.7 253.24 L332.1 253.25 L332.5 253.26 L332.9 253.27 L333.3 253.28 L333.7 253.29 L334.1 253.29 L334.5 253.3 L334.9 253.31 L334.9 253.6 L334.5 253.6 L334.1 253.6 L333.7 253.6 L333.3 253.6 L332.9 253.6 L332.5 253.6 L332.1 253.6 L331.7 253.6 L331.3 253.6 L330.9 253.6 L330.5 253.6 L330.1 253.6 L329.7 253.6 L329.3 253.6 L328.9 253.6 L328.5 253.6 L328.1 253.6 L327.7 253.6 L327.3 253.6 L326.9 253.6 L326.5 253.6 L326.1 253.6 L325.7 253.6 L325.3 253.6 L324.9 253.6 L324.5 253.6 L324.1 253.6 L323.7 253.6 L323.3 253.6 L322.9 253.6 L322.5 253.6 L322.1 253.6 L321.7 253.6 L321.3 253.6 L320.9 253.6 L320.5 253.6 L320.1 253.6 L319.7 253.6 L319.3 253.6 L318.9 253.6 L318.5 253.6 L318.1 253.6 L317.7 253.6 L317.3 253.6 L316.9 253.6 L316.5 253.6 L316.1 253.6 L315.7 253.6 L315.3 253.6 L314.9 253.6 L314.5 253.6 L314.1 253.6 L313.7 253.6 L313.3 253.6 L312.9 253.6 L312.5 253.6 L312.1 253.6 L311.7 253.6 L311.3 253.6 L310.9 253.6 L310.5 253.6 L310.1 253.6 L309.7 253.6 L309.3 253.6 L308.9 253.6 L308.5 253.6 L308.1 253.6 L307.7 253.6 L307.3 253.6 L306.9 253.6 L306.5 253.6 L306.1 253.6 L305.7 253.6 L305.3 253.6 L304.9 253.6 L304.5 253.6 L304.1 253.6 L303.7 253.6 L303.3 253.6 L302.9 253.6 L302.5 253.6 L302.1 253.6 L301.7 253.6 L301.3 253.6 L300.9 253.6 L300.5 253.6 L300.1 253.6 L299.7 253.6 L299.3 253.6 L298.9 253.6 L298.5 253.6 L298.1 253.6 L297.7 253.6 L297.3 253.6 L296.9 253.6 L296.5 253.6 L296.1 253.6 L295.7 253.6 L295.3 253.6 L294.9 253.6 L294.5 253.6 L294.1 253.6 L293.7 253.6 L293.3 253.6 L292.9 253.6 L292.5 253.6 L292.1 253.6 L291.7 253.6 L291.3 253.6 L290.9 253.6 L290.5 253.6 L290.1 253.6 L289.7 253.6 L289.3 253.6 L288.9 253.6 L288.5 253.6 L288.1 253.6 L287.7 253.6 L287.3 253.6 L286.9 253.6 L286.5 253.6 L286.1 253.6 L285.7 253.6 L285.3 253.6 L284.9 253.6 L284.5 253.6 L284.1 253.6 L283.7 253.6 L283.3 253.6 L282.9 253.6 L282.5 253.6 L282.1 253.6 L281.7 253.6 L281.3 253.6 L280.9 253.6 L280.5 253.6 L280.1 253.6 L279.7 253.6 L279.3 253.6 L278.9 253.6 L278.5 253.6 L278.1 253.6 L277.7 253.6 L277.3 253.6 L276.9 253.6 L276.5 253.6 L276.1 253.6 L275.7 253.6 L275.3 253.6 L274.9 253.6 L274.5 253.6 L274.1 253.6 L273.7 253.59 L273.3 253.59 L272.9 253.59 L272.5 253.59 L272.1 253.59 L271.7 253.59 L271.3 253.59 L270.9 253.59 L270.5 253.59 L270.1 253.59 L269.7 253.59 L269.3 253.59 L268.9 253.59 L268.5 253.59 L268.1 253.59 L267.7 253.59 L267.3 253.59 L266.9 253.59 L266.5 253.59 L266.1 253.59 L265.7 253.59 L265.3 253.59 L264.9 253.59 L264.5 253.59 L264.1 253.59 L263.7 253.58 L263.3 253.58 L262.9 253.58 L262.5 253.58 L262.1 253.58 L261.7 253.58 L261.3 253.58 L260.9 253.58 L260.5 253.58 L260.1 253.58 L259.7 253.58 L259.3 253.58 L258.9 253.57 L258.5 253.57 L258.1 253.57 L257.7 253.57 L257.3 253.57 L256.9 253.57 L256.5 253.57 L256.1 253.56 L255.7 253.56 L255.3 253.56 L254.9 253.56 L254.5 253.56 L254.1 253.56 L253.7 253.55 L253.3 253.55 L252.9 253.55 L252.5 253.55 L252.1 253.54 L251.7 253.54 L251.3 253.54 L250.9 253.54 L250.5 253.53 L250.1 253.53 L249.7 253.53 L249.3 253.53 L248.9 253.52 L248.5 253.52 L248.1 253.51 L247.7 253.51 L247.3 253.51 L246.9 253.5 L246.5 253.5 L246.1 253.49 L245.7 253.49 L245.3 253.48 L244.9 253.48 L244.5 253.47 L244.1 253.47 L243.7 253.46 L243.3 253.46 L242.9 253.45 L242.5 253.44 L242.1 253.44 L241.7 253.43 L241.3 253.42 L240.9 253.41 L240.5 253.41 L240.1 253.4 L239.7 253.39 L239.3 253.38 L238.9 253.37 L238.5 253.36 L238.1 253.35 L237.7 253.34 L237.3 253.33 L236.9 253.32 L236.5 253.3 L236.1 253.29 L235.7 253.28 L235.3 253.26 L234.9 253.25 L234.5 253.24 L234.1 253.22 L233.7 253.2 L233.3 253.19 L232.9 253.17 L232.5 253.15 Z" fill="url(#gy)" stroke="none"/>
<path d="M232.5 253.07 L232.9 253.09 L233.3 253.11 L233.7 253.12 L234.1 253.14 L234.5 253.15 L234.9 253.16 L235.3 253.18 L235.7 253.19 L236.1 253.2 L236.5 253.21 L236.9 253.22 L237.3 253.23 L237.7 253.24 L238.1 253.25 L238.5 253.26 L238.9 253.27 L239.3 253.28 L239.7 253.29 L240.1 253.3 L240.5 253.3 L240.9 253.31 L241.3 253.32 L241.7 253.32 L242.1 253.33 L242.5 253.33 L242.9 253.34 L243.3 253.34 L243.7 253.35 L244.1 253.35 L244.5 253.36 L244.9 253.36 L245.3 253.36 L245.7 253.37 L246.1 253.37 L246.5 253.37 L246.9 253.37 L247.3 253.38 L247.7 253.38 L248.1 253.38 L248.5 253.38 L248.9 253.38 L249.3 253.38 L249.7 253.39 L250.1 253.39 L250.5 253.39 L250.9 253.39 L251.3 253.39 L251.7 253.39 L252.1 253.39 L252.5 253.39 L252.9 253.39 L253.3 253.39 L253.7 253.39 L254.1 253.38 L254.5 253.38 L254.9 253.38 L255.3 253.38 L255.7 253.38 L256.1 253.38 L256.5 253.38 L256.9 253.37 L257.3 253.37 L257.7 253.37 L258.1 253.37 L258.5 253.37 L258.9 253.36 L259.3 253.36 L259.7 253.36 L260.1 253.35 L260.5 253.35 L260.9 253.35 L261.3 253.34 L261.7 253.34 L262.1 253.34 L262.5 253.33 L262.9 253.33 L263.3 253.32 L263.7 253.32 L264.1 253.31 L264.5 253.31 L264.9 253.3 L265.3 253.29 L265.7 253.29 L266.1 253.28 L266.5 253.28 L266.9 253.27 L267.3 253.26 L267.7 253.25 L268.1 253.24 L268.5 253.23 L268.9 253.22 L269.3 253.21 L269.7 253.2 L270.1 253.18 L270.5 253.17 L270.9 253.15 L271.3 253.13 L271.7 253.11 L272.1 253.09 L272.5 253.06 L272.9 253.03 L273.3 252.99 L273.7 252.95 L274.1 252.9 L274.5 252.85 L274.9 252.79 L275.3 252.72 L275.7 252.64 L276.1 252.54 L276.5 252.43 L276.9 252.31 L277.3 252.16 L277.7 252 L278.1 251.81 L278.5 251.6 L278.9 251.35 L279.3 251.07 L279.7 250.76 L280.1 250.4 L280.5 250 L280.9 249.54 L281.3 249.03 L281.7 248.46 L282.1 247.83 L282.5 247.12 L282.9 246.33 L283.3 245.47 L283.7 244.51 L284.1 243.46 L284.5 242.31 L284.9 241.05 L285.3 239.69 L285.7 238.21 L286.1 236.61 L286.5 234.89 L286.9 233.05 L287.3 231.08 L287.7 228.99 L288.1 226.76 L288.5 224.42 L288.9 221.95 L289.3 219.37 L289.7 216.67 L290.1 213.87 L290.5 210.97 L290.9 207.98 L291.3 204.92 L291.7 201.8 L292.1 198.63 L292.5 195.43 L292.9 192.22 L293.3 189.01 L293.7 185.82 L294.1 182.68 L294.5 179.6 L294.9 176.61 L295.3 173.73 L295.7 170.97 L296.1 168.37 L296.5 165.94 L296.9 163.7 L297.3 161.67 L297.7 159.88 L298.1 158.33 L298.5 157.04 L298.9 156.02 L299.3 155.29 L299.7 154.85 L300.1 154.7" stroke="#e8dc70" stroke-width="1.1" fill="none" stroke-linejoin="round" stroke-linecap="round" />
<path d="M300.1 154.7 L300.5 154.85 L300.9 155.29 L301.3 156.02 L301.7 157.04 L302.1 158.33 L302.5 159.88 L302.9 161.67 L303.3 163.7 L303.7 165.94 L304.1 168.37 L304.5 170.97 L304.9 173.73 L305.3 176.61 L305.7 179.6 L306.1 182.68 L306.5 185.82 L306.9 189.01 L307.3 192.22 L307.7 195.43 L308.1 198.63 L308.5 201.8 L308.9 204.93 L309.3 207.98 L309.7 210.97 L310.1 213.87 L310.5 216.67 L310.9 219.37 L311.3 221.95 L311.7 224.42 L312.1 226.77 L312.5 228.99 L312.9 231.08 L313.3 233.05 L313.7 234.89 L314.1 236.61 L314.5 238.21 L314.9 239.69 L315.3 241.05 L315.7 242.31 L316.1 243.46 L316.5 244.51 L316.9 245.47 L317.3 246.34 L317.7 247.12 L318.1 247.83 L318.5 248.47 L318.9 249.04 L319.3 249.55 L319.7 250 L320.1 250.4 L320.5 250.76 L320.9 251.08 L321.3 251.35 L321.7 251.6 L322.1 251.81 L322.5 252 L322.9 252.17 L323.3 252.31 L323.7 252.44 L324.1 252.54 L324.5 252.64 L324.9 252.72 L325.3 252.79 L325.7 252.86 L326.1 252.91 L326.5 252.96 L326.9 253 L327.3 253.03 L327.7 253.07 L328.1 253.09 L328.5 253.12 L328.9 253.14 L329.3 253.16 L329.7 253.18 L330.1 253.19 L330.5 253.21 L330.9 253.22 L331.3 253.23 L331.7 253.24 L332.1 253.25 L332.5 253.26 L332.9 253.27 L333.3 253.28 L333.7 253.29 L334.1 253.29 L334.5 253.3 L334.9 253.31" stroke="#f0b0b0" stroke-width="1.1" fill="none" stroke-linejoin="round" stroke-linecap="round" />
<path d="M228.1 252.83 L228.5 252.86 L228.9 252.88 L229.3 252.9 L229.7 252.92 L230.1 252.95 L230.5 252.97 L230.9 252.99 L231.3 253.01 L231.7 253.02 L232.1 253.04 L232.5 253.06 L232.9 253.07 L233.3 253.09 L233.7 253.1 L234.1 253.12 L234.5 253.13 L234.9 253.14 L235.3 253.16 L235.7 253.17 L236.1 253.18 L236.5 253.19 L236.9 253.2 L237.3 253.21 L237.7 253.22 L238.1 253.23 L238.5 253.24 L238.9 253.24 L239.3 253.25 L239.7 253.26 L240.1 253.26 L240.5 253.27 L240.9 253.28 L241.3 253.28 L241.7 253.29 L242.1 253.29 L242.5 253.29 L242.9 253.3 L243.3 253.3 L243.7 253.3 L244.1 253.31 L244.5 253.31 L244.9 253.31 L245.3 253.31 L245.7 253.31 L246.1 253.31 L246.5 253.31 L246.9 253.31 L247.3 253.31 L247.7 253.31 L248.1 253.31 L248.5 253.31 L248.9 253.31 L249.3 253.31 L249.7 253.31 L250.1 253.3 L250.5 253.3 L250.9 253.29 L251.3 253.29 L251.7 253.28 L252.1 253.28 L252.5 253.27 L252.9 253.26 L253.3 253.25 L253.7 253.24 L254.1 253.23 L254.5 253.21 L254.9 253.19 L255.3 253.17 L255.7 253.15 L256.1 253.12 L256.5 253.09 L256.9 253.05 L257.3 253.01 L257.7 252.96 L258.1 252.9 L258.5 252.83 L258.9 252.75 L259.3 252.65 L259.7 252.54 L260.1 252.42 L260.5 252.27 L260.9 252.11 L261.3 251.92 L261.7 251.7 L262.1 251.45 L262.5 251.17 L262.9 250.85 L263.3 250.49 L263.7 250.09 L264.1 249.63 L264.5 249.12 L264.9 248.56 L265.3 247.93 L265.7 247.23 L266.1 246.46 L266.5 245.61 L266.9 244.68 L267.3 243.67 L267.7 242.57 L268.1 241.38 L268.5 240.1 L268.9 238.72 L269.3 237.25 L269.7 235.68 L270.1 234.02 L270.5 232.26 L270.9 230.41 L271.3 228.48 L271.7 226.46 L272.1 224.37 L272.5 222.22 L272.9 220.01 L273.3 217.75 L273.7 215.45 L274.1 213.13 L274.5 210.81 L274.9 208.48 L275.3 206.18 L275.7 203.92 L276.1 201.71 L276.5 199.58 L276.9 197.53 L277.3 195.59 L277.7 193.77 L278.1 192.09 L278.5 190.57 L278.9 189.21 L279.3 188.04 L279.7 187.07 L280.1 186.3 L280.5 185.75 L280.9 185.41 L281.3 185.3 L281.7 185.41 L282.1 185.75 L282.5 186.3 L282.9 187.07 L283.3 188.05 L283.7 189.22 L284.1 190.57 L284.5 192.09 L284.9 193.77 L285.3 195.59 L285.7 197.53 L286.1 199.58 L286.5 201.72 L286.9 203.93 L287.3 206.19 L287.7 208.49 L288.1 210.81 L288.5 213.14 L288.9 215.45 L289.3 217.75 L289.7 220.01 L290.1 222.22 L290.5 224.38 L290.9 226.47 L291.3 228.48 L291.7 230.42 L292.1 232.27 L292.5 234.02 L292.9 235.69 L293.3 237.26 L293.7 238.73 L294.1 240.11 L294.5 241.39 L294.9 242.58 L295.3 243.68 L295.7 244.69 L296.1 245.62 L296.5 246.47 L296.9 247.24 L297.3 247.94 L297.7 248.57 L298.1 249.14 L298.5 249.65 L298.9 250.1 L299.3 250.51 L299.7 250.87 L300.1 251.19 L300.5 251.47 L300.9 251.72 L301.3 251.94 L301.7 252.13 L302.1 252.3 L302.5 252.44 L302.9 252.57 L303.3 252.68 L303.7 252.77 L304.1 252.85 L304.5 252.92 L304.9 252.98 L305.3 253.04 L305.7 253.08 L306.1 253.12 L306.5 253.16 L306.9 253.19 L307.3 253.21 L307.7 253.23 L308.1 253.25 L308.5 253.27 L308.9 253.29 L309.3 253.3 L309.7 253.31 L310.1 253.32 L310.5 253.33 L310.9 253.34 L311.3 253.35 L311.7 253.36 L312.1 253.36 L312.5 253.37 L312.9 253.38 L313.3 253.38 L313.7 253.39 L314.1 253.39 L314.5 253.4 L314.9 253.4 L315.3 253.41 L315.7 253.41 L316.1 253.42 L316.5 253.42 L316.9 253.42 L317.3 253.43 L317.7 253.43 L318.1 253.43 L318.5 253.44 L318.9 253.44 L319.3 253.44 L319.7 253.45 L320.1 253.45 L320.5 253.45 L320.9 253.46 L321.3 253.46 L321.7 253.46 L322.1 253.46 L322.5 253.47 L322.9 253.47 L323.3 253.47 L323.7 253.47 L324.1 253.48 L324.5 253.48 L324.9 253.48 L325.3 253.48 L325.7 253.48 L326.1 253.49 L326.5 253.49 L326.9 253.49 L327.3 253.49 L327.7 253.49 L328.1 253.5 L328.5 253.5 L328.9 253.5 L329.3 253.5 L329.7 253.5 L330.1 253.5 L330.5 253.51 L330.9 253.51 L331.3 253.51 L331.7 253.51 L332.1 253.51 L332.5 253.51 L332.9 253.51 L333.3 253.52 L333.7 253.52 L334.1 253.52 L334.5 253.52 L334.5 253.6 L334.1 253.6 L333.7 253.6 L333.3 253.6 L332.9 253.6 L332.5 253.6 L332.1 253.6 L331.7 253.6 L331.3 253.6 L330.9 253.6 L330.5 253.6 L330.1 253.6 L329.7 253.6 L329.3 253.6 L328.9 253.6 L328.5 253.6 L328.1 253.6 L327.7 253.6 L327.3 253.6 L326.9 253.6 L326.5 253.6 L326.1 253.6 L325.7 253.6 L325.3 253.6 L324.9 253.6 L324.5 253.6 L324.1 253.6 L323.7 253.6 L323.3 253.6 L322.9 253.6 L322.5 253.6 L322.1 253.6 L321.7 253.6 L321.3 253.6 L320.9 253.6 L320.5 253.6 L320.1 253.6 L319.7 253.6 L319.3 253.6 L318.9 253.6 L318.5 253.6 L318.1 253.6 L317.7 253.6 L317.3 253.6 L316.9 253.6 L316.5 253.6 L316.1 253.6 L315.7 253.6 L315.3 253.6 L314.9 253.6 L314.5 253.6 L314.1 253.6 L313.7 253.6 L313.3 253.6 L312.9 253.6 L312.5 253.6 L312.1 253.6 L311.7 253.6 L311.3 253.6 L310.9 253.6 L310.5 253.6 L310.1 253.6 L309.7 253.6 L309.3 253.6 L308.9 253.6 L308.5 253.6 L308.1 253.6 L307.7 253.6 L307.3 253.6 L306.9 253.6 L306.5 253.6 L306.1 253.6 L305.7 253.6 L305.3 253.6 L304.9 253.6 L304.5 253.6 L304.1 253.6 L303.7 253.6 L303.3 253.6 L302.9 253.6 L302.5 253.6 L302.1 253.6 L301.7 253.6 L301.3 253.6 L300.9 253.6 L300.5 253.6 L300.1 253.6 L299.7 253.6 L299.3 253.6 L298.9 253.6 L298.5 253.6 L298.1 253.6 L297.7 253.6 L297.3 253.6 L296.9 253.6 L296.5 253.6 L296.1 253.6 L295.7 253.6 L295.3 253.6 L294.9 253.6 L294.5 253.6 L294.1 253.6 L293.7 253.6 L293.3 253.6 L292.9 253.6 L292.5 253.6 L292.1 253.6 L291.7 253.6 L291.3 253.6 L290.9 253.6 L290.5 253.6 L290.1 253.6 L289.7 253.6 L289.3 253.6 L288.9 253.6 L288.5 253.6 L288.1 253.6 L287.7 253.6 L287.3 253.6 L286.9 253.6 L286.5 253.6 L286.1 253.6 L285.7 253.6 L285.3 253.6 L284.9 253.6 L284.5 253.6 L284.1 253.6 L283.7 253.6 L283.3 253.6 L282.9 253.6 L282.5 253.6 L282.1 253.6 L281.7 253.6 L281.3 253.6 L280.9 253.6 L280.5 253.6 L280.1 253.6 L279.7 253.6 L279.3 253.6 L278.9 253.6 L278.5 253.6 L278.1 253.6 L277.7 253.6 L277.3 253.6 L276.9 253.6 L276.5 253.6 L276.1 253.6 L275.7 253.6 L275.3 253.6 L274.9 253.6 L274.5 253.6 L274.1 253.6 L273.7 253.59 L273.3 253.59 L272.9 253.59 L272.5 253.59 L272.1 253.59 L271.7 253.59 L271.3 253.59 L270.9 253.59 L270.5 253.59 L270.1 253.59 L269.7 253.59 L269.3 253.59 L268.9 253.59 L268.5 253.59 L268.1 253.59 L267.7 253.59 L267.3 253.59 L266.9 253.59 L266.5 253.59 L266.1 253.59 L265.7 253.59 L265.3 253.59 L264.9 253.59 L264.5 253.59 L264.1 253.59 L263.7 253.58 L263.3 253.58 L262.9 253.58 L262.5 253.58 L262.1 253.58 L261.7 253.58 L261.3 253.58 L260.9 253.58 L260.5 253.58 L260.1 253.58 L259.7 253.58 L259.3 253.58 L258.9 253.57 L258.5 253.57 L258.1 253.57 L257.7 253.57 L257.3 253.57 L256.9 253.57 L256.5 253.57 L256.1 253.56 L255.7 253.56 L255.3 253.56 L254.9 253.56 L254.5 253.56 L254.1 253.56 L253.7 253.55 L253.3 253.55 L252.9 253.55 L252.5 253.55 L252.1 253.54 L251.7 253.54 L251.3 253.54 L250.9 253.54 L250.5 253.53 L250.1 253.53 L249.7 253.53 L249.3 253.53 L248.9 253.52 L248.5 253.52 L248.1 253.51 L247.7 253.51 L247.3 253.51 L246.9 253.5 L246.5 253.5 L246.1 253.49 L245.7 253.49 L245.3 253.48 L244.9 253.48 L244.5 253.47 L244.1 253.47 L243.7 253.46 L243.3 253.46 L242.9 253.45 L242.5 253.44 L242.1 253.44 L241.7 253.43 L241.3 253.42 L240.9 253.41 L240.5 253.41 L240.1 253.4 L239.7 253.39 L239.3 253.38 L238.9 253.37 L238.5 253.36 L238.1 253.35 L237.7 253.34 L237.3 253.33 L236.9 253.32 L236.5 253.3 L236.1 253.29 L235.7 253.28 L235.3 253.26 L234.9 253.25 L234.5 253.24 L234.1 253.22 L233.7 253.2 L233.3 253.19 L232.9 253.17 L232.5 253.15 L232.1 253.14 L231.7 253.12 L231.3 253.1 L230.9 253.08 L230.5 253.06 L230.1 253.03 L229.7 253.01 L229.3 252.99 L228.9 252.96 L228.5 252.94 L228.1 252.91 Z" fill="url(#gr)" stroke="none"/>
<path d="M228.1 252.83 L228.5 252.86 L228.9 252.88 L229.3 252.9 L229.7 252.92 L230.1 252.95 L230.5 252.97 L230.9 252.99 L231.3 253.01 L231.7 253.02 L232.1 253.04 L232.5 253.06 L232.9 253.07 L233.3 253.09 L233.7 253.1 L234.1 253.12 L234.5 253.13 L234.9 253.14 L235.3 253.16 L235.7 253.17 L236.1 253.18 L236.5 253.19 L236.9 253.2 L237.3 253.21 L237.7 253.22 L238.1 253.23 L238.5 253.24 L238.9 253.24 L239.3 253.25 L239.7 253.26 L240.1 253.26 L240.5 253.27 L240.9 253.28 L241.3 253.28 L241.7 253.29 L242.1 253.29 L242.5 253.29 L242.9 253.3 L243.3 253.3 L243.7 253.3 L244.1 253.31 L244.5 253.31 L244.9 253.31 L245.3 253.31 L245.7 253.31 L246.1 253.31 L246.5 253.31 L246.9 253.31 L247.3 253.31 L247.7 253.31 L248.1 253.31 L248.5 253.31 L248.9 253.31 L249.3 253.31 L249.7 253.31 L250.1 253.3 L250.5 253.3 L250.9 253.29 L251.3 253.29 L251.7 253.28 L252.1 253.28 L252.5 253.27 L252.9 253.26 L253.3 253.25 L253.7 253.24 L254.1 253.23 L254.5 253.21 L254.9 253.19 L255.3 253.17 L255.7 253.15 L256.1 253.12 L256.5 253.09 L256.9 253.05 L257.3 253.01 L257.7 252.96 L258.1 252.9 L258.5 252.83 L258.9 252.75 L259.3 252.65 L259.7 252.54 L260.1 252.42 L260.5 252.27 L260.9 252.11 L261.3 251.92 L261.7 251.7 L262.1 251.45 L262.5 251.17 L262.9 250.85 L263.3 250.49 L263.7 250.09 L264.1 249.63 L264.5 249.12 L264.9 248.56 L265.3 247.93 L265.7 247.23 L266.1 246.46 L266.5 245.61 L266.9 244.68 L267.3 243.67 L267.7 242.57 L268.1 241.38 L268.5 240.1 L268.9 238.72 L269.3 237.25 L269.7 235.68 L270.1 234.02 L270.5 232.26 L270.9 230.41 L271.3 228.48 L271.7 226.46 L272.1 224.37 L272.5 222.22 L272.9 220.01 L273.3 217.75 L273.7 215.45 L274.1 213.13 L274.5 210.81 L274.9 208.48 L275.3 206.18 L275.7 203.92 L276.1 201.71 L276.5 199.58 L276.9 197.53 L277.3 195.59 L277.7 193.77 L278.1 192.09 L278.5 190.57 L278.9 189.21 L279.3 188.04 L279.7 187.07 L280.1 186.3 L280.5 185.75 L280.9 185.41 L281.3 185.3" stroke="#ff7080" stroke-width="1.5" fill="none" stroke-linejoin="round" stroke-linecap="round" />
<path d="M281.3 185.3 L281.7 185.41 L282.1 185.75 L282.5 186.3 L282.9 187.07 L283.3 188.05 L283.7 189.22 L284.1 190.57 L284.5 192.09 L284.9 193.77 L285.3 195.59 L285.7 197.53 L286.1 199.58 L286.5 201.72 L286.9 203.93 L287.3 206.19 L287.7 208.49 L288.1 210.81 L288.5 213.14 L288.9 215.45 L289.3 217.75 L289.7 220.01 L290.1 222.22 L290.5 224.38 L290.9 226.47 L291.3 228.48 L291.7 230.42 L292.1 232.27 L292.5 234.02 L292.9 235.69 L293.3 237.26 L293.7 238.73 L294.1 240.11 L294.5 241.39 L294.9 242.58 L295.3 243.68 L295.7 244.69 L296.1 245.62 L296.5 246.47 L296.9 247.24 L297.3 247.94 L297.7 248.57 L298.1 249.14 L298.5 249.65 L298.9 250.1 L299.3 250.51 L299.7 250.87 L300.1 251.19 L300.5 251.47 L300.9 251.72 L301.3 251.94 L301.7 252.13 L302.1 252.3 L302.5 252.44 L302.9 252.57 L303.3 252.68 L303.7 252.77 L304.1 252.85 L304.5 252.92 L304.9 252.98 L305.3 253.04 L305.7 253.08 L306.1 253.12 L306.5 253.16 L306.9 253.19 L307.3 253.21 L307.7 253.23 L308.1 253.25 L308.5 253.27 L308.9 253.29 L309.3 253.3 L309.7 253.31 L310.1 253.32 L310.5 253.33 L310.9 253.34 L311.3 253.35 L311.7 253.36 L312.1 253.36 L312.5 253.37 L312.9 253.38 L313.3 253.38 L313.7 253.39 L314.1 253.39 L314.5 253.4 L314.9 253.4 L315.3 253.41 L315.7 253.41 L316.1 253.42 L316.5 253.42 L316.9 253.42 L317.3 253.43 L317.7 253.43 L318.1 253.43 L318.5 253.44 L318.9 253.44 L319.3 253.44 L319.7 253.45 L320.1 253.45 L320.5 253.45 L320.9 253.46 L321.3 253.46 L321.7 253.46 L322.1 253.46 L322.5 253.47 L322.9 253.47 L323.3 253.47 L323.7 253.47 L324.1 253.48 L324.5 253.48 L324.9 253.48 L325.3 253.48 L325.7 253.48 L326.1 253.49 L326.5 253.49 L326.9 253.49 L327.3 253.49 L327.7 253.49 L328.1 253.5 L328.5 253.5 L328.9 253.5 L329.3 253.5 L329.7 253.5 L330.1 253.5 L330.5 253.51 L330.9 253.51 L331.3 253.51 L331.7 253.51 L332.1 253.51 L332.5 253.51 L332.9 253.51 L333.3 253.52 L333.7 253.52 L334.1 253.52 L334.5 253.52" stroke="#ee0000" stroke-width="1.5" fill="none" stroke-linejoin="round" stroke-linecap="round" />
<path d="M185.3 249.03 L185.7 249.05 L186.1 249.06 L186.5 249.07 L186.9 249.08 L187.3 249.09 L187.7 249.1 L188.1 249.12 L188.5 249.13 L188.9 249.14 L189.3 249.16 L189.7 249.17 L190.1 249.19 L190.5 249.2 L190.9 249.22 L191.3 249.24 L191.7 249.26 L192.1 249.27 L192.5 249.29 L192.9 249.31 L193.3 249.33 L193.7 249.36 L194.1 249.38 L194.5 249.4 L194.9 249.42 L195.3 249.45 L195.7 249.47 L196.1 249.5 L196.5 249.53 L196.9 249.56 L197.3 249.58 L197.7 249.61 L198.1 249.64 L198.5 249.68 L198.9 249.71 L199.3 249.74 L199.7 249.78 L200.1 249.81 L200.5 249.85 L200.9 249.88 L201.3 249.92 L201.7 249.96 L202.1 250 L202.5 250.04 L202.9 250.08 L203.3 250.12 L203.7 250.17 L204.1 250.21 L204.5 250.25 L204.9 250.3 L205.3 250.35 L205.7 250.39 L206.1 250.44 L206.5 250.49 L206.9 250.54 L207.3 250.59 L207.7 250.64 L208.1 250.69 L208.5 250.74 L208.9 250.79 L209.3 250.84 L209.7 250.89 L210.1 250.95 L210.5 251 L210.9 251.05 L211.3 251.11 L211.7 251.16 L212.1 251.21 L212.5 251.27 L212.9 251.32 L213.3 251.37 L213.7 251.43 L214.1 251.48 L214.5 251.53 L214.9 251.58 L215.3 251.64 L215.7 251.69 L216.1 251.74 L216.5 251.79 L216.9 251.84 L217.3 251.89 L217.7 251.94 L218.1 251.98 L218.5 252.03 L218.9 252.08 L219.3 252.12 L219.7 252.17 L220.1 252.21 L220.5 252.26 L220.9 252.3 L221.3 252.34 L221.7 252.38 L222.1 252.42 L222.5 252.46 L222.9 252.5 L223.3 252.54 L223.7 252.57 L224.1 252.61 L224.5 252.64 L224.9 252.68 L225.3 252.71 L225.7 252.74 L226.1 252.77 L226.5 252.8 L226.9 252.83 L227.3 252.86 L227.7 252.89 L228.1 252.91 L228.5 252.94 L228.9 252.96 L229.3 252.99 L229.7 253.01 L230.1 253.03 L230.5 253.06 L230.9 253.08 L231.3 253.1 L231.7 253.12 L232.1 253.14 L232.5 253.15 L232.9 253.17 L233.3 253.19 L233.7 253.2 L234.1 253.22 L234.5 253.24 L234.9 253.25 L235.3 253.26 L235.7 253.28 L236.1 253.29 L236.5 253.3 L236.9 253.32 L237.3 253.33 L237.7 253.34 L238.1 253.35 L238.5 253.36 L238.9 253.37 L239.3 253.38 L239.7 253.39 L240.1 253.4 L240.5 253.41 L240.9 253.41 L241.3 253.42 L241.7 253.43 L242.1 253.44 L242.5 253.44 L242.9 253.45 L243.3 253.46 L243.7 253.46 L244.1 253.47 L244.5 253.47 L244.9 253.48 L245.3 253.48 L245.7 253.49 L246.1 253.49 L246.5 253.5 L246.9 253.5 L247.3 253.51 L247.7 253.51 L248.1 253.51 L248.5 253.52 L248.9 253.52 L249.3 253.53 L249.7 253.53 L250.1 253.53 L250.5 253.53 L250.9 253.54 L251.3 253.54 L251.7 253.54 L252.1 253.54 L252.5 253.55 L252.9 253.55 L253.3 253.55 L253.7 253.55 L254.1 253.56 L254.5 253.56 L254.9 253.56 L255.3 253.56 L255.7 253.56 L256.1 253.56 L256.5 253.57 L256.9 253.57 L257.3 253.57 L257.7 253.57 L258.1 253.57 L258.5 253.57 L258.9 253.57 L259.3 253.58 L259.7 253.58 L260.1 253.58 L260.5 253.58 L260.9 253.58 L261.3 253.58 L261.7 253.58 L262.1 253.58 L262.5 253.58 L262.9 253.58 L263.3 253.58 L263.7 253.58 L264.1 253.59 L264.5 253.59 L264.9 253.59 L265.3 253.59 L265.7 253.59 L266.1 253.59 L266.5 253.59 L266.9 253.59 L267.3 253.59 L267.7 253.59 L268.1 253.59 L268.5 253.59 L268.9 253.59 L269.3 253.59 L269.7 253.59 L270.1 253.59 L270.5 253.59 L270.9 253.59 L271.3 253.59 L271.7 253.59 L272.1 253.59 L272.5 253.59 L272.9 253.59 L273.3 253.59 L273.7 253.59 L274.1 253.6 L274.5 253.6 L274.9 253.6 L275.3 253.6 L275.7 253.6 L276.1 253.6 L276.5 253.6 L276.9 253.6 L277.3 253.6 L277.7 253.6 L278.1 253.6 L278.5 253.6 L278.9 253.6 L279.3 253.6 L279.7 253.6 L280.1 253.6 L280.5 253.6 L280.9 253.6 L281.3 253.6 L281.7 253.6 L282.1 253.6 L282.5 253.6 L282.9 253.6 L283.3 253.6 L283.7 253.6 L284.1 253.6 L284.5 253.6 L284.9 253.6 L285.3 253.6 L285.7 253.6 L286.1 253.6 L286.5 253.6 L286.9 253.6 L287.3 253.6 L287.7 253.6 L288.1 253.6 L288.5 253.6 L288.9 253.6 L289.3 253.6 L289.7 253.6 L290.1 253.6 L290.5 253.6 L290.9 253.6 L291.3 253.6 L291.7 253.6 L292.1 253.6 L292.5 253.6 L292.9 253.6 L293.3 253.6 L293.7 253.6 L294.1 253.6 L294.5 253.6 L294.9 253.6 L295.3 253.6 L295.7 253.6 L296.1 253.6 L296.5 253.6 L296.9 253.6 L297.3 253.6 L297.7 253.6 L298.1 253.6 L298.5 253.6 L298.9 253.6 L299.3 253.6 L299.7 253.6 L300.1 253.6 L300.5 253.6 L300.9 253.6 L301.3 253.6 L301.7 253.6 L302.1 253.6 L302.5 253.6 L302.9 253.6 L303.3 253.6 L303.7 253.6 L304.1 253.6 L304.5 253.6 L304.9 253.6 L305.3 253.6 L305.7 253.6 L306.1 253.6 L306.5 253.6 L306.9 253.6 L307.3 253.6 L307.7 253.6 L308.1 253.6 L308.5 253.6 L308.9 253.6 L309.3 253.6 L309.7 253.6 L310.1 253.6 L310.5 253.6 L310.9 253.6 L311.3 253.6 L311.7 253.6 L312.1 253.6 L312.5 253.6 L312.9 253.6 L313.3 253.6 L313.7 253.6 L314.1 253.6 L314.5 253.6 L314.9 253.6 L315.3 253.6 L315.7 253.6 L316.1 253.6 L316.5 253.6 L316.9 253.6 L317.3 253.6 L317.7 253.6 L318.1 253.6 L318.5 253.6 L318.9 253.6 L319.3 253.6 L319.7 253.6 L320.1 253.6 L320.5 253.6 L320.9 253.6 L321.3 253.6 L321.7 253.6 L322.1 253.6 L322.5 253.6 L322.9 253.6 L323.3 253.6 L323.7 253.6 L324.1 253.6 L324.5 253.6 L324.9 253.6 L325.3 253.6 L325.7 253.6 L326.1 253.6 L326.5 253.6 L326.9 253.6 L327.3 253.6 L327.7 253.6 L328.1 253.6 L328.5 253.6 L328.9 253.6 L329.3 253.6 L329.7 253.6 L330.1 253.6 L330.5 253.6 L330.9 253.6 L331.3 253.6 L331.7 253.6 L332.1 253.6 L332.5 253.6 L332.9 253.6 L333.3 253.6 L333.7 253.6 L334.1 253.6 L334.5 253.6 L334.9 253.6" stroke="#80b8dc" stroke-width="1.1" fill="none" stroke-linejoin="round" stroke-linecap="round" />
<rect x="184.7" y="140.3" width="150.8" height="123.8" fill="none" stroke="#000" stroke-width="1.6" />
<line x1="186.8" y1="264.1" x2="186.8" y2="261.3" stroke="#000" stroke-width="1" />
<line x1="211.8" y1="264.1" x2="211.8" y2="261.3" stroke="#000" stroke-width="1" />
<line x1="236.8" y1="264.1" x2="236.8" y2="261.3" stroke="#000" stroke-width="1" />
<line x1="261.8" y1="264.1" x2="261.8" y2="261.3" stroke="#000" stroke-width="1" />
<line x1="286.8" y1="264.1" x2="286.8" y2="261.3" stroke="#000" stroke-width="1" />
<line x1="311.8" y1="264.1" x2="311.8" y2="261.3" stroke="#000" stroke-width="1" />
<line x1="336.8" y1="264.1" x2="336.8" y2="261.3" stroke="#000" stroke-width="1" />
<line x1="199.3" y1="264.1" x2="199.3" y2="262.6" stroke="#000" stroke-width="1" />
<line x1="224.3" y1="264.1" x2="224.3" y2="262.6" stroke="#000" stroke-width="1" />
<line x1="249.3" y1="264.1" x2="249.3" y2="262.6" stroke="#000" stroke-width="1" />
<line x1="274.3" y1="264.1" x2="274.3" y2="262.6" stroke="#000" stroke-width="1" />
<line x1="299.3" y1="264.1" x2="299.3" y2="262.6" stroke="#000" stroke-width="1" />
<line x1="324.3" y1="264.1" x2="324.3" y2="262.6" stroke="#000" stroke-width="1" />
<text transform="translate(186.8 271.9) scale(1 1.06)" font-size="8.4" fill="#000" text-anchor="middle" >294</text>
<text transform="translate(211.8 271.9) scale(1 1.06)" font-size="8.4" fill="#000" text-anchor="middle" >292</text>
<text transform="translate(236.8 271.9) scale(1 1.06)" font-size="8.4" fill="#000" text-anchor="middle" >290</text>
<text transform="translate(261.8 271.9) scale(1 1.06)" font-size="8.4" fill="#000" text-anchor="middle" >288</text>
<text transform="translate(286.8 271.9) scale(1 1.06)" font-size="8.4" fill="#000" text-anchor="middle" >286</text>
<text transform="translate(311.8 271.9) scale(1 1.06)" font-size="8.4" fill="#000" text-anchor="middle" >284</text>
<text transform="translate(336.8 271.9) scale(1 1.06)" font-size="8.4" fill="#000" text-anchor="middle" >282</text>
<text transform="translate(188 151.2) scale(1 1.06)" font-size="9.68" fill="#ff1a1a" text-anchor="start" >C1s</text>
<text transform="translate(296.3 151.1) scale(1 1.06)" font-size="9.79" fill="#000" text-anchor="start" >Product</text>
<text transform="translate(171 148.6) scale(1 1.06)" font-size="9.4" fill="#000" text-anchor="start" >(F)</text>
<text transform="translate(250.5 186.75) scale(1 1.06)" font-size="6.55" fill="#000" text-anchor="start" >C-O</text>
<text transform="translate(250.5 195.5) scale(1 1.06)" font-size="7.22" fill="#000" text-anchor="start" >29.25%</text>
<text transform="translate(266.1 159.9) scale(1 1.06)" font-size="7.1" fill="#000" text-anchor="start" >C-C/C=C</text>
<text transform="translate(266.25 169.25) scale(1 1.06)" font-size="7.15" fill="#000" text-anchor="start" >48.20%</text>
<text transform="translate(192.5 220) scale(1 1.06)" font-size="7.5" fill="#000" text-anchor="start" >Π-Π*</text>
<text transform="translate(192.5 229) scale(1 1.06)" font-size="7.22" fill="#000" text-anchor="start" >10.95%</text>
<text transform="translate(242 225.75) scale(1 1.06)" font-size="7.44" fill="#000" text-anchor="start" >C=O</text>
<text transform="translate(242 234.5) scale(1 1.06)" font-size="7.49" fill="#000" text-anchor="start" >11.61%</text>
<rect x="358.1" y="142.3" width="150.8" height="122.2" fill="#fcfbf0" stroke="none" stroke-width="1" />
<path d="M358.7 258.61 L359.1 258.61 L359.5 258.61 L359.9 258.61 L360.3 258.61 L360.7 258.61 L361.1 258.6 L361.5 258.6 L361.9 258.6 L362.3 258.6 L362.7 258.6 L363.1 258.59 L363.5 258.59 L363.9 258.59 L364.3 258.59 L364.7 258.58 L365.1 258.58 L365.5 258.58 L365.9 258.58 L366.3 258.58 L366.7 258.57 L367.1 258.57 L367.5 258.57 L367.9 258.57 L368.3 258.56 L368.7 258.56 L369.1 258.56 L369.5 258.56 L369.9 258.55 L370.3 258.55 L370.7 258.55 L371.1 258.54 L371.5 258.54 L371.9 258.54 L372.3 258.54 L372.7 258.53 L373.1 258.53 L373.5 258.53 L373.9 258.52 L374.3 258.52 L374.7 258.52 L375.1 258.51 L375.5 258.51 L375.9 258.51 L376.3 258.5 L376.7 258.5 L377.1 258.49 L377.5 258.49 L377.9 258.49 L378.3 258.48 L378.7 258.48 L379.1 258.47 L379.5 258.47 L379.9 258.47 L380.3 258.46 L380.7 258.46 L381.1 258.45 L381.5 258.45 L381.9 258.44 L382.3 258.44 L382.7 258.43 L383.1 258.43 L383.5 258.42 L383.9 258.42 L384.3 258.41 L384.7 258.41 L385.1 258.4 L385.5 258.4 L385.9 258.39 L386.3 258.39 L386.7 258.38 L387.1 258.37 L387.5 258.37 L387.9 258.36 L388.3 258.35 L388.7 258.35 L389.1 258.34 L389.5 258.33 L389.9 258.32 L390.3 258.32 L390.7 258.31 L391.1 258.3 L391.5 258.29 L391.9 258.28 L392.3 258.27 L392.7 258.26 L393.1 258.25 L393.5 258.24 L393.9 258.23 L394.3 258.22 L394.7 258.21 L395.1 258.2 L395.5 258.18 L395.9 258.17 L396.3 258.15 L396.7 258.14 L397.1 258.12 L397.5 258.1 L397.9 258.08 L398.3 258.06 L398.7 258.04 L399.1 258.02 L399.5 257.99 L399.9 257.96 L400.3 257.93 L400.7 257.9 L401.1 257.86 L401.5 257.82 L401.9 257.78 L402.3 257.74 L402.7 257.69 L403.1 257.63 L403.5 257.57 L403.9 257.5 L404.3 257.43 L404.7 257.35 L405.1 257.27 L405.5 257.17 L405.9 257.07 L406.3 256.96 L406.7 256.84 L407.1 256.71 L407.5 256.56 L407.9 256.4 L408.3 256.23 L408.7 256.05 L409.1 255.84 L409.5 255.62 L409.9 255.39 L410.3 255.13 L410.7 254.85 L411.1 254.55 L411.5 254.22 L411.9 253.87 L412.3 253.49 L412.7 253.08 L413.1 252.65 L413.5 252.18 L413.9 251.67 L414.3 251.14 L414.7 250.56 L415.1 249.95 L415.5 249.29 L415.9 248.6 L416.3 247.86 L416.7 247.08 L417.1 246.25 L417.5 245.37 L417.9 244.45 L418.3 243.47 L418.7 242.44 L419.1 241.36 L419.5 240.23 L419.9 239.04 L420.3 237.8 L420.7 236.51 L421.1 235.16 L421.5 233.76 L421.9 232.3 L422.3 230.79 L422.7 229.22 L423.1 227.61 L423.5 225.95 L423.9 224.23 L424.3 222.47 L424.7 220.67 L425.1 218.83 L425.5 216.95 L425.9 215.03 L426.3 213.08 L426.7 211.1 L427.1 209.1 L427.5 207.08 L427.9 205.04 L428.3 202.99 L428.7 200.94 L429.1 198.89 L429.5 196.84 L429.9 194.81 L430.3 192.79 L430.7 190.8 L431.1 188.84 L431.5 186.91 L431.9 185.03 L432.3 183.2 L432.7 181.42 L433.1 179.7 L433.5 178.06 L433.9 176.49 L434.3 175 L434.7 173.6 L435.1 172.29 L435.5 171.08 L435.9 169.98 L436.3 168.98 L436.7 168.1 L437.1 167.34 L437.5 166.7 L437.9 166.18 L438.3 165.79 L438.7 165.53 L439.1 165.4 L439.5 165.4 L439.9 165.53 L440.3 165.8 L440.7 166.2 L441.1 166.74 L441.5 167.4 L441.9 168.18 L442.3 169.09 L442.7 170.11 L443.1 171.25 L443.5 172.49 L443.9 173.83 L444.3 175.27 L444.7 176.8 L445.1 178.41 L445.5 180.1 L445.9 181.85 L446.3 183.67 L446.7 185.54 L447.1 187.47 L447.5 189.43 L447.9 191.43 L448.3 193.45 L448.7 195.5 L449.1 197.56 L449.5 199.63 L449.9 201.7 L450.3 203.76 L450.7 205.82 L451.1 207.86 L451.5 209.88 L451.9 211.87 L452.3 213.84 L452.7 215.76 L453.1 217.65 L453.5 219.49 L453.9 221.29 L454.3 223.03 L454.7 224.72 L455.1 226.35 L455.5 227.93 L455.9 229.44 L456.3 230.89 L456.7 232.28 L457.1 233.6 L457.5 234.86 L457.9 236.05 L458.3 237.18 L458.7 238.24 L459.1 239.23 L459.5 240.16 L459.9 241.03 L460.3 241.84 L460.7 242.59 L461.1 243.29 L461.5 243.93 L461.9 244.52 L462.3 245.06 L462.7 245.56 L463.1 246.02 L463.5 246.44 L463.9 246.83 L464.3 247.18 L464.7 247.51 L465.1 247.82 L465.5 248.1 L465.9 248.37 L466.3 248.63 L466.7 248.88 L467.1 249.12 L467.5 249.36 L467.9 249.59 L468.3 249.83 L468.7 250.07 L469.1 250.31 L469.5 250.56 L469.9 250.81 L470.3 251.07 L470.7 251.33 L471.1 251.6 L471.5 251.88 L471.9 252.15 L472.3 252.43 L472.7 252.72 L473.1 253 L473.5 253.28 L473.9 253.57 L474.3 253.84 L474.7 254.12 L475.1 254.39 L475.5 254.65 L475.9 254.91 L476.3 255.16 L476.7 255.4 L477.1 255.63 L477.5 255.84 L477.9 256.05 L478.3 256.25 L478.7 256.43 L479.1 256.61 L479.5 256.77 L479.9 256.92 L480.3 257.06 L480.7 257.19 L481.1 257.31 L481.5 257.42 L481.9 257.52 L482.3 257.61 L482.7 257.69 L483.1 257.77 L483.5 257.83 L483.9 257.89 L484.3 257.95 L484.7 258 L485.1 258.04 L485.5 258.08 L485.9 258.11 L486.3 258.14 L486.7 258.17 L487.1 258.2 L487.5 258.22 L487.9 258.24 L488.3 258.26 L488.7 258.27 L489.1 258.29 L489.5 258.3 L489.9 258.31 L490.3 258.32 L490.7 258.33 L491.1 258.34 L491.5 258.35 L491.9 258.36 L492.3 258.37 L492.7 258.38 L493.1 258.38 L493.5 258.39 L493.9 258.4 L494.3 258.4 L494.7 258.41 L495.1 258.42 L495.5 258.42 L495.9 258.43 L496.3 258.43 L496.7 258.44 L497.1 258.44 L497.5 258.45 L497.9 258.45 L498.3 258.46 L498.7 258.46 L499.1 258.47 L499.5 258.47 L499.9 258.48 L500.3 258.48 L500.7 258.48 L501.1 258.49 L501.5 258.49 L501.9 258.5 L502.3 258.5 L502.7 258.5 L503.1 258.51 L503.5 258.51 L503.9 258.51 L504.3 258.52 L504.7 258.52 L505.1 258.52 L505.5 258.53 L505.9 258.53 L506.3 258.53 L506.7 258.54 L507.1 258.54 L507.5 258.54 L507.9 258.55" stroke="#ffb8cc" stroke-width="1.4" fill="none" stroke-linejoin="round" stroke-linecap="round" />
<path d="M358.7 258.61 L359.1 258.61 L359.5 258.61 L359.9 258.61 L360.3 258.61 L360.7 258.61 L361.1 258.6 L361.5 258.6 L361.9 258.6 L362.3 258.6 L362.7 258.6 L363.1 258.59 L363.5 258.59 L363.9 258.59 L364.3 258.59 L364.7 258.58 L365.1 258.58 L365.5 258.58 L365.9 258.58 L366.3 258.58 L366.7 258.57 L367.1 258.57 L367.5 258.57 L367.9 258.57 L368.3 258.56 L368.7 258.56 L369.1 258.56 L369.5 258.55 L369.9 258.55 L370.3 258.55 L370.7 258.55 L371.1 258.54 L371.5 258.54 L371.9 258.54 L372.3 258.53 L372.7 258.53 L373.1 258.53 L373.5 258.53 L373.9 258.52 L374.3 258.52 L374.7 258.52 L375.1 258.51 L375.5 258.51 L375.9 258.5 L376.3 258.5 L376.7 258.5 L377.1 258.49 L377.5 258.49 L377.9 258.49 L378.3 258.48 L378.7 258.48 L379.1 258.47 L379.5 258.47 L379.9 258.47 L380.3 258.46 L380.7 258.46 L381.1 258.45 L381.5 258.45 L381.9 258.44 L382.3 258.44 L382.7 258.43 L383.1 258.43 L383.5 258.42 L383.9 258.42 L384.3 258.41 L384.7 258.41 L385.1 258.4 L385.5 258.39 L385.9 258.39 L386.3 258.38 L386.7 258.38 L387.1 258.37 L387.5 258.36 L387.9 258.36 L388.3 258.35 L388.7 258.34 L389.1 258.34 L389.5 258.33 L389.9 258.32 L390.3 258.31 L390.7 258.31 L391.1 258.3 L391.5 258.29 L391.9 258.28 L392.3 258.27 L392.7 258.26 L393.1 258.25 L393.5 258.24 L393.9 258.23 L394.3 258.22 L394.7 258.2 L395.1 258.19 L395.5 258.18 L395.9 258.16 L396.3 258.15 L396.7 258.13 L397.1 258.11 L397.5 258.09 L397.9 258.07 L398.3 258.05 L398.7 258.03 L399.1 258 L399.5 257.97 L399.9 257.94 L400.3 257.91 L400.7 257.88 L401.1 257.84 L401.5 257.8 L401.9 257.75 L402.3 257.7 L402.7 257.65 L403.1 257.59 L403.5 257.52 L403.9 257.45 L404.3 257.38 L404.7 257.29 L405.1 257.2 L405.5 257.1 L405.9 256.99 L406.3 256.88 L406.7 256.75 L407.1 256.6 L407.5 256.45 L407.9 256.28 L408.3 256.1 L408.7 255.9 L409.1 255.69 L409.5 255.45 L409.9 255.2 L410.3 254.93 L410.7 254.63 L411.1 254.31 L411.5 253.96 L411.9 253.59 L412.3 253.19 L412.7 252.76 L413.1 252.3 L413.5 251.81 L413.9 251.28 L414.3 250.71 L414.7 250.11 L415.1 249.47 L415.5 248.78 L415.9 248.06 L416.3 247.28 L416.7 246.47 L417.1 245.6 L417.5 244.69 L417.9 243.72 L418.3 242.71 L418.7 241.64 L419.1 240.52 L419.5 239.35 L419.9 238.13 L420.3 236.84 L420.7 235.51 L421.1 234.12 L421.5 232.68 L421.9 231.18 L422.3 229.63 L422.7 228.03 L423.1 226.37 L423.5 224.67 L423.9 222.93 L424.3 221.13 L424.7 219.3 L425.1 217.43 L425.5 215.52 L425.9 213.58 L426.3 211.6 L426.7 209.61 L427.1 207.59 L427.5 205.56 L427.9 203.51 L428.3 201.46 L428.7 199.41 L429.1 197.36 L429.5 195.33 L429.9 193.3 L430.3 191.31 L430.7 189.34 L431.1 187.4 L431.5 185.51 L431.9 183.66 L432.3 181.87 L432.7 180.14 L433.1 178.48 L433.5 176.89 L433.9 175.38 L434.3 173.95 L434.7 172.62 L435.1 171.39 L435.5 170.26 L435.9 169.24 L436.3 168.33 L436.7 167.54 L437.1 166.86 L437.5 166.32 L437.9 165.89 L438.3 165.6 L438.7 165.44 L439.1 165.4 L439.5 165.51 L439.9 165.76 L440.3 166.15 L440.7 166.67 L441.1 167.33 L441.5 168.12 L441.9 169.04 L442.3 170.08 L442.7 171.24 L443.1 172.52 L443.5 173.9 L443.9 175.37 L444.3 176.95 L444.7 178.61 L445.1 180.34 L445.5 182.15 L445.9 184.03 L446.3 185.96 L446.7 187.94 L447.1 189.97 L447.5 192.03 L447.9 194.12 L448.3 196.23 L448.7 198.36 L449.1 200.49 L449.5 202.63 L449.9 204.76 L450.3 206.88 L450.7 208.98 L451.1 211.07 L451.5 213.13 L451.9 215.15 L452.3 217.15 L452.7 219.1 L453.1 221.01 L453.5 222.88 L453.9 224.7 L454.3 226.47 L454.7 228.18 L455.1 229.84 L455.5 231.45 L455.9 232.99 L456.3 234.48 L456.7 235.91 L457.1 237.28 L457.5 238.6 L457.9 239.85 L458.3 241.05 L458.7 242.19 L459.1 243.27 L459.5 244.29 L459.9 245.26 L460.3 246.18 L460.7 247.05 L461.1 247.86 L461.5 248.63 L461.9 249.35 L462.3 250.03 L462.7 250.66 L463.1 251.25 L463.5 251.8 L463.9 252.32 L464.3 252.8 L464.7 253.24 L465.1 253.65 L465.5 254.03 L465.9 254.39 L466.3 254.71 L466.7 255.01 L467.1 255.29 L467.5 255.55 L467.9 255.78 L468.3 256 L468.7 256.2 L469.1 256.38 L469.5 256.54 L469.9 256.7 L470.3 256.83 L470.7 256.96 L471.1 257.08 L471.5 257.18 L471.9 257.28 L472.3 257.37 L472.7 257.45 L473.1 257.52 L473.5 257.59 L473.9 257.65 L474.3 257.71 L474.7 257.76 L475.1 257.8 L475.5 257.85 L475.9 257.88 L476.3 257.92 L476.7 257.95 L477.1 257.98 L477.5 258.01 L477.9 258.04 L478.3 258.06 L478.7 258.08 L479.1 258.1 L479.5 258.12 L479.9 258.14 L480.3 258.16 L480.7 258.17 L481.1 258.19 L481.5 258.2 L481.9 258.21 L482.3 258.23 L482.7 258.24 L483.1 258.25 L483.5 258.26 L483.9 258.27 L484.3 258.28 L484.7 258.29 L485.1 258.3 L485.5 258.31 L485.9 258.32 L486.3 258.32 L486.7 258.33 L487.1 258.34 L487.5 258.35 L487.9 258.35 L488.3 258.36 L488.7 258.37 L489.1 258.37 L489.5 258.38 L489.9 258.39 L490.3 258.39 L490.7 258.4 L491.1 258.41 L491.5 258.41 L491.9 258.42 L492.3 258.42 L492.7 258.43 L493.1 258.43 L493.5 258.44 L493.9 258.44 L494.3 258.45 L494.7 258.45 L495.1 258.46 L495.5 258.46 L495.9 258.47 L496.3 258.47 L496.7 258.48 L497.1 258.48 L497.5 258.48 L497.9 258.49 L498.3 258.49 L498.7 258.5 L499.1 258.5 L499.5 258.5 L499.9 258.51 L500.3 258.51 L500.7 258.51 L501.1 258.52 L501.5 258.52 L501.9 258.52 L502.3 258.53 L502.7 258.53 L503.1 258.53 L503.5 258.54 L503.9 258.54 L504.3 258.54 L504.7 258.55 L505.1 258.55 L505.5 258.55 L505.9 258.56 L506.3 258.56 L506.7 258.56 L507.1 258.56 L507.5 258.57 L507.9 258.57 L507.9 258.8 L507.5 258.8 L507.1 258.8 L506.7 258.8 L506.3 258.8 L505.9 258.8 L505.5 258.8 L505.1 258.8 L504.7 258.8 L504.3 258.8 L503.9 258.8 L503.5 258.8 L503.1 258.8 L502.7 258.8 L502.3 258.8 L501.9 258.8 L501.5 258.8 L501.1 258.8 L500.7 258.8 L500.3 258.8 L499.9 258.8 L499.5 258.8 L499.1 258.8 L498.7 258.8 L498.3 258.8 L497.9 258.8 L497.5 258.8 L497.1 258.8 L496.7 258.8 L496.3 258.8 L495.9 258.8 L495.5 258.8 L495.1 258.8 L494.7 258.8 L494.3 258.8 L493.9 258.8 L493.5 258.8 L493.1 258.8 L492.7 258.8 L492.3 258.8 L491.9 258.8 L491.5 258.8 L491.1 258.8 L490.7 258.8 L490.3 258.8 L489.9 258.8 L489.5 258.8 L489.1 258.8 L488.7 258.8 L488.3 258.8 L487.9 258.8 L487.5 258.8 L487.1 258.8 L486.7 258.8 L486.3 258.8 L485.9 258.8 L485.5 258.8 L485.1 258.8 L484.7 258.8 L484.3 258.8 L483.9 258.8 L483.5 258.8 L483.1 258.8 L482.7 258.8 L482.3 258.8 L481.9 258.8 L481.5 258.8 L481.1 258.8 L480.7 258.8 L480.3 258.8 L479.9 258.8 L479.5 258.8 L479.1 258.8 L478.7 258.8 L478.3 258.8 L477.9 258.8 L477.5 258.8 L477.1 258.8 L476.7 258.8 L476.3 258.8 L475.9 258.8 L475.5 258.8 L475.1 258.8 L474.7 258.8 L474.3 258.8 L473.9 258.8 L473.5 258.8 L473.1 258.8 L472.7 258.8 L472.3 258.8 L471.9 258.8 L471.5 258.8 L471.1 258.8 L470.7 258.8 L470.3 258.8 L469.9 258.8 L469.5 258.8 L469.1 258.8 L468.7 258.8 L468.3 258.8 L467.9 258.8 L467.5 258.8 L467.1 258.8 L466.7 258.8 L466.3 258.8 L465.9 258.8 L465.5 258.8 L465.1 258.8 L464.7 258.8 L464.3 258.8 L463.9 258.8 L463.5 258.8 L463.1 258.8 L462.7 258.8 L462.3 258.8 L461.9 258.8 L461.5 258.8 L461.1 258.8 L460.7 258.8 L460.3 258.8 L459.9 258.8 L459.5 258.8 L459.1 258.8 L458.7 258.8 L458.3 258.8 L457.9 258.8 L457.5 258.8 L457.1 258.8 L456.7 258.8 L456.3 258.8 L455.9 258.8 L455.5 258.8 L455.1 258.8 L454.7 258.8 L454.3 258.8 L453.9 258.8 L453.5 258.8 L453.1 258.8 L452.7 258.8 L452.3 258.8 L451.9 258.8 L451.5 258.8 L451.1 258.8 L450.7 258.8 L450.3 258.8 L449.9 258.8 L449.5 258.8 L449.1 258.8 L448.7 258.8 L448.3 258.8 L447.9 258.8 L447.5 258.8 L447.1 258.8 L446.7 258.8 L446.3 258.8 L445.9 258.8 L445.5 258.8 L445.1 258.8 L444.7 258.8 L444.3 258.8 L443.9 258.8 L443.5 258.8 L443.1 258.8 L442.7 258.8 L442.3 258.8 L441.9 258.8 L441.5 258.8 L441.1 258.8 L440.7 258.8 L440.3 258.8 L439.9 258.8 L439.5 258.8 L439.1 258.8 L438.7 258.8 L438.3 258.8 L437.9 258.8 L437.5 258.8 L437.1 258.8 L436.7 258.8 L436.3 258.8 L435.9 258.8 L435.5 258.8 L435.1 258.8 L434.7 258.8 L434.3 258.8 L433.9 258.8 L433.5 258.8 L433.1 258.8 L432.7 258.8 L432.3 258.8 L431.9 258.8 L431.5 258.8 L431.1 258.8 L430.7 258.8 L430.3 258.8 L429.9 258.8 L429.5 258.8 L429.1 258.8 L428.7 258.8 L428.3 258.8 L427.9 258.8 L427.5 258.8 L427.1 258.8 L426.7 258.8 L426.3 258.8 L425.9 258.8 L425.5 258.8 L425.1 258.8 L424.7 258.8 L424.3 258.8 L423.9 258.8 L423.5 258.8 L423.1 258.8 L422.7 258.8 L422.3 258.8 L421.9 258.8 L421.5 258.8 L421.1 258.8 L420.7 258.8 L420.3 258.8 L419.9 258.8 L419.5 258.8 L419.1 258.8 L418.7 258.8 L418.3 258.8 L417.9 258.8 L417.5 258.8 L417.1 258.8 L416.7 258.8 L416.3 258.8 L415.9 258.8 L415.5 258.8 L415.1 258.8 L414.7 258.8 L414.3 258.8 L413.9 258.8 L413.5 258.8 L413.1 258.8 L412.7 258.8 L412.3 258.8 L411.9 258.8 L411.5 258.8 L411.1 258.8 L410.7 258.8 L410.3 258.8 L409.9 258.8 L409.5 258.8 L409.1 258.8 L408.7 258.8 L408.3 258.8 L407.9 258.8 L407.5 258.8 L407.1 258.8 L406.7 258.8 L406.3 258.8 L405.9 258.8 L405.5 258.8 L405.1 258.8 L404.7 258.8 L404.3 258.8 L403.9 258.8 L403.5 258.8 L403.1 258.8 L402.7 258.8 L402.3 258.8 L401.9 258.8 L401.5 258.8 L401.1 258.8 L400.7 258.8 L400.3 258.8 L399.9 258.8 L399.5 258.8 L399.1 258.8 L398.7 258.8 L398.3 258.8 L397.9 258.8 L397.5 258.8 L397.1 258.8 L396.7 258.8 L396.3 258.8 L395.9 258.8 L395.5 258.8 L395.1 258.8 L394.7 258.8 L394.3 258.8 L393.9 258.8 L393.5 258.8 L393.1 258.8 L392.7 258.8 L392.3 258.8 L391.9 258.8 L391.5 258.8 L391.1 258.8 L390.7 258.8 L390.3 258.8 L389.9 258.8 L389.5 258.8 L389.1 258.8 L388.7 258.8 L388.3 258.8 L387.9 258.8 L387.5 258.8 L387.1 258.8 L386.7 258.8 L386.3 258.8 L385.9 258.8 L385.5 258.8 L385.1 258.8 L384.7 258.8 L384.3 258.8 L383.9 258.8 L383.5 258.8 L383.1 258.8 L382.7 258.8 L382.3 258.8 L381.9 258.8 L381.5 258.8 L381.1 258.8 L380.7 258.8 L380.3 258.8 L379.9 258.8 L379.5 258.8 L379.1 258.8 L378.7 258.8 L378.3 258.8 L377.9 258.8 L377.5 258.8 L377.1 258.8 L376.7 258.8 L376.3 258.8 L375.9 258.8 L375.5 258.8 L375.1 258.8 L374.7 258.8 L374.3 258.8 L373.9 258.8 L373.5 258.8 L373.1 258.8 L372.7 258.8 L372.3 258.8 L371.9 258.8 L371.5 258.8 L371.1 258.8 L370.7 258.8 L370.3 258.8 L369.9 258.8 L369.5 258.8 L369.1 258.8 L368.7 258.8 L368.3 258.8 L367.9 258.8 L367.5 258.8 L367.1 258.8 L366.7 258.8 L366.3 258.8 L365.9 258.8 L365.5 258.8 L365.1 258.8 L364.7 258.8 L364.3 258.8 L363.9 258.8 L363.5 258.8 L363.1 258.8 L362.7 258.8 L362.3 258.8 L361.9 258.8 L361.5 258.8 L361.1 258.8 L360.7 258.8 L360.3 258.8 L359.9 258.8 L359.5 258.8 L359.1 258.8 L358.7 258.8 Z" fill="url(#gr2)" stroke="none"/>
<path d="M358.7 258.61 L359.1 258.61 L359.5 258.61 L359.9 258.61 L360.3 258.61 L360.7 258.61 L361.1 258.6 L361.5 258.6 L361.9 258.6 L362.3 258.6 L362.7 258.6 L363.1 258.59 L363.5 258.59 L363.9 258.59 L364.3 258.59 L364.7 258.58 L365.1 258.58 L365.5 258.58 L365.9 258.58 L366.3 258.58 L366.7 258.57 L367.1 258.57 L367.5 258.57 L367.9 258.57 L368.3 258.56 L368.7 258.56 L369.1 258.56 L369.5 258.55 L369.9 258.55 L370.3 258.55 L370.7 258.55 L371.1 258.54 L371.5 258.54 L371.9 258.54 L372.3 258.53 L372.7 258.53 L373.1 258.53 L373.5 258.53 L373.9 258.52 L374.3 258.52 L374.7 258.52 L375.1 258.51 L375.5 258.51 L375.9 258.5 L376.3 258.5 L376.7 258.5 L377.1 258.49 L377.5 258.49 L377.9 258.49 L378.3 258.48 L378.7 258.48 L379.1 258.47 L379.5 258.47 L379.9 258.47 L380.3 258.46 L380.7 258.46 L381.1 258.45 L381.5 258.45 L381.9 258.44 L382.3 258.44 L382.7 258.43 L383.1 258.43 L383.5 258.42 L383.9 258.42 L384.3 258.41 L384.7 258.41 L385.1 258.4 L385.5 258.39 L385.9 258.39 L386.3 258.38 L386.7 258.38 L387.1 258.37 L387.5 258.36 L387.9 258.36 L388.3 258.35 L388.7 258.34 L389.1 258.34 L389.5 258.33 L389.9 258.32 L390.3 258.31 L390.7 258.31 L391.1 258.3 L391.5 258.29 L391.9 258.28 L392.3 258.27 L392.7 258.26 L393.1 258.25 L393.5 258.24 L393.9 258.23 L394.3 258.22 L394.7 258.2 L395.1 258.19 L395.5 258.18 L395.9 258.16 L396.3 258.15 L396.7 258.13 L397.1 258.11 L397.5 258.09 L397.9 258.07 L398.3 258.05 L398.7 258.03 L399.1 258 L399.5 257.97 L399.9 257.94 L400.3 257.91 L400.7 257.88 L401.1 257.84 L401.5 257.8 L401.9 257.75 L402.3 257.7 L402.7 257.65 L403.1 257.59 L403.5 257.52 L403.9 257.45 L404.3 257.38 L404.7 257.29 L405.1 257.2 L405.5 257.1 L405.9 256.99 L406.3 256.88 L406.7 256.75 L407.1 256.6 L407.5 256.45 L407.9 256.28 L408.3 256.1 L408.7 255.9 L409.1 255.69 L409.5 255.45 L409.9 255.2 L410.3 254.93 L410.7 254.63 L411.1 254.31 L411.5 253.96 L411.9 253.59 L412.3 253.19 L412.7 252.76 L413.1 252.3 L413.5 251.81 L413.9 251.28 L414.3 250.71 L414.7 250.11 L415.1 249.47 L415.5 248.78 L415.9 248.06 L416.3 247.28 L416.7 246.47 L417.1 245.6 L417.5 244.69 L417.9 243.72 L418.3 242.71 L418.7 241.64 L419.1 240.52 L419.5 239.35 L419.9 238.13 L420.3 236.84 L420.7 235.51 L421.1 234.12 L421.5 232.68 L421.9 231.18 L422.3 229.63 L422.7 228.03 L423.1 226.37 L423.5 224.67 L423.9 222.93 L424.3 221.13 L424.7 219.3 L425.1 217.43 L425.5 215.52 L425.9 213.58 L426.3 211.6 L426.7 209.61 L427.1 207.59 L427.5 205.56 L427.9 203.51 L428.3 201.46 L428.7 199.41 L429.1 197.36 L429.5 195.33 L429.9 193.3 L430.3 191.31 L430.7 189.34 L431.1 187.4 L431.5 185.51 L431.9 183.66 L432.3 181.87 L432.7 180.14 L433.1 178.48 L433.5 176.89 L433.9 175.38 L434.3 173.95 L434.7 172.62 L435.1 171.39 L435.5 170.26 L435.9 169.24 L436.3 168.33 L436.7 167.54 L437.1 166.86 L437.5 166.32 L437.9 165.89 L438.3 165.6 L438.7 165.44 L439.1 165.4" stroke="#ff5a7a" stroke-width="1.3" fill="none" stroke-linejoin="round" stroke-linecap="round" />
<path d="M438.7 165.44 L439.1 165.4 L439.5 165.51 L439.9 165.76 L440.3 166.15 L440.7 166.67 L441.1 167.33 L441.5 168.12 L441.9 169.04 L442.3 170.08 L442.7 171.24 L443.1 172.52 L443.5 173.9 L443.9 175.37 L444.3 176.95 L444.7 178.61 L445.1 180.34 L445.5 182.15 L445.9 184.03 L446.3 185.96 L446.7 187.94 L447.1 189.97 L447.5 192.03 L447.9 194.12 L448.3 196.23 L448.7 198.36 L449.1 200.49 L449.5 202.63 L449.9 204.76 L450.3 206.88 L450.7 208.98 L451.1 211.07 L451.5 213.13 L451.9 215.15 L452.3 217.15 L452.7 219.1 L453.1 221.01 L453.5 222.88 L453.9 224.7 L454.3 226.47 L454.7 228.18 L455.1 229.84 L455.5 231.45 L455.9 232.99 L456.3 234.48 L456.7 235.91 L457.1 237.28 L457.5 238.6 L457.9 239.85 L458.3 241.05 L458.7 242.19 L459.1 243.27 L459.5 244.29 L459.9 245.26 L460.3 246.18 L460.7 247.05 L461.1 247.86 L461.5 248.63 L461.9 249.35 L462.3 250.03 L462.7 250.66 L463.1 251.25 L463.5 251.8 L463.9 252.32 L464.3 252.8 L464.7 253.24 L465.1 253.65 L465.5 254.03 L465.9 254.39 L466.3 254.71 L466.7 255.01 L467.1 255.29 L467.5 255.55 L467.9 255.78 L468.3 256 L468.7 256.2 L469.1 256.38 L469.5 256.54 L469.9 256.7 L470.3 256.83 L470.7 256.96 L471.1 257.08 L471.5 257.18 L471.9 257.28 L472.3 257.37 L472.7 257.45 L473.1 257.52 L473.5 257.59 L473.9 257.65 L474.3 257.71 L474.7 257.76 L475.1 257.8 L475.5 257.85 L475.9 257.88 L476.3 257.92 L476.7 257.95 L477.1 257.98 L477.5 258.01 L477.9 258.04 L478.3 258.06 L478.7 258.08 L479.1 258.1 L479.5 258.12 L479.9 258.14 L480.3 258.16 L480.7 258.17 L481.1 258.19 L481.5 258.2 L481.9 258.21 L482.3 258.23 L482.7 258.24 L483.1 258.25 L483.5 258.26 L483.9 258.27 L484.3 258.28 L484.7 258.29 L485.1 258.3 L485.5 258.31 L485.9 258.32 L486.3 258.32 L486.7 258.33 L487.1 258.34 L487.5 258.35 L487.9 258.35 L488.3 258.36 L488.7 258.37 L489.1 258.37 L489.5 258.38 L489.9 258.39 L490.3 258.39 L490.7 258.4 L491.1 258.41 L491.5 258.41 L491.9 258.42 L492.3 258.42 L492.7 258.43 L493.1 258.43 L493.5 258.44 L493.9 258.44 L494.3 258.45 L494.7 258.45 L495.1 258.46 L495.5 258.46 L495.9 258.47 L496.3 258.47 L496.7 258.48 L497.1 258.48 L497.5 258.48 L497.9 258.49 L498.3 258.49 L498.7 258.5 L499.1 258.5 L499.5 258.5 L499.9 258.51 L500.3 258.51 L500.7 258.51 L501.1 258.52 L501.5 258.52 L501.9 258.52 L502.3 258.53 L502.7 258.53 L503.1 258.53 L503.5 258.54 L503.9 258.54 L504.3 258.54 L504.7 258.55 L505.1 258.55 L505.5 258.55 L505.9 258.56 L506.3 258.56 L506.7 258.56 L507.1 258.56 L507.5 258.57 L507.9 258.57" stroke="#f01828" stroke-width="1.3" fill="none" stroke-linejoin="round" stroke-linecap="round" />
<path d="M450.3 258.71 L450.7 258.7 L451.1 258.68 L451.5 258.67 L451.9 258.64 L452.3 258.62 L452.7 258.59 L453.1 258.56 L453.5 258.52 L453.9 258.48 L454.3 258.43 L454.7 258.37 L455.1 258.31 L455.5 258.23 L455.9 258.16 L456.3 258.07 L456.7 257.97 L457.1 257.86 L457.5 257.74 L457.9 257.62 L458.3 257.48 L458.7 257.33 L459.1 257.17 L459.5 257 L459.9 256.83 L460.3 256.64 L460.7 256.45 L461.1 256.25 L461.5 256.05 L461.9 255.84 L462.3 255.63 L462.7 255.42 L463.1 255.21 L463.5 255.01 L463.9 254.81 L464.3 254.62 L464.7 254.44 L465.1 254.27 L465.5 254.12 L465.9 253.98 L466.3 253.86 L466.7 253.77 L467.1 253.69 L467.5 253.64 L467.9 253.61 L468.3 253.6 L468.7 253.62 L469.1 253.66 L469.5 253.73 L469.9 253.81 L470.3 253.92 L470.7 254.05 L471.1 254.19 L471.5 254.35 L471.9 254.53 L472.3 254.71 L472.7 254.91 L473.1 255.11 L473.5 255.31 L473.9 255.52 L474.3 255.73 L474.7 255.94 L475.1 256.15 L475.5 256.35 L475.9 256.55 L476.3 256.74 L476.7 256.92 L477.1 257.09 L477.5 257.25 L477.9 257.41 L478.3 257.55 L478.7 257.68 L479.1 257.8 L479.5 257.92 L479.9 258.02 L480.3 258.11 L480.7 258.2 L481.1 258.27 L481.5 258.34 L481.9 258.4 L482.3 258.45 L482.7 258.5 L483.1 258.54 L483.5 258.57 L483.9 258.61 L484.3 258.63 L484.7 258.66 L485.1 258.68 L485.5 258.69 L485.9 258.71 L486.3 258.72 L486.3 258.8 L485.9 258.8 L485.5 258.8 L485.1 258.8 L484.7 258.8 L484.3 258.8 L483.9 258.8 L483.5 258.8 L483.1 258.8 L482.7 258.8 L482.3 258.8 L481.9 258.8 L481.5 258.8 L481.1 258.8 L480.7 258.8 L480.3 258.8 L479.9 258.8 L479.5 258.8 L479.1 258.8 L478.7 258.8 L478.3 258.8 L477.9 258.8 L477.5 258.8 L477.1 258.8 L476.7 258.8 L476.3 258.8 L475.9 258.8 L475.5 258.8 L475.1 258.8 L474.7 258.8 L474.3 258.8 L473.9 258.8 L473.5 258.8 L473.1 258.8 L472.7 258.8 L472.3 258.8 L471.9 258.8 L471.5 258.8 L471.1 258.8 L470.7 258.8 L470.3 258.8 L469.9 258.8 L469.5 258.8 L469.1 258.8 L468.7 258.8 L468.3 258.8 L467.9 258.8 L467.5 258.8 L467.1 258.8 L466.7 258.8 L466.3 258.8 L465.9 258.8 L465.5 258.8 L465.1 258.8 L464.7 258.8 L464.3 258.8 L463.9 258.8 L463.5 258.8 L463.1 258.8 L462.7 258.8 L462.3 258.8 L461.9 258.8 L461.5 258.8 L461.1 258.8 L460.7 258.8 L460.3 258.8 L459.9 258.8 L459.5 258.8 L459.1 258.8 L458.7 258.8 L458.3 258.8 L457.9 258.8 L457.5 258.8 L457.1 258.8 L456.7 258.8 L456.3 258.8 L455.9 258.8 L455.5 258.8 L455.1 258.8 L454.7 258.8 L454.3 258.8 L453.9 258.8 L453.5 258.8 L453.1 258.8 L452.7 258.8 L452.3 258.8 L451.9 258.8 L451.5 258.8 L451.1 258.8 L450.7 258.8 L450.3 258.8 Z" fill="url(#gb)" stroke="none"/>
<path d="M450.3 258.71 L450.7 258.7 L451.1 258.68 L451.5 258.67 L451.9 258.64 L452.3 258.62 L452.7 258.59 L453.1 258.56 L453.5 258.52 L453.9 258.48 L454.3 258.43 L454.7 258.37 L455.1 258.31 L455.5 258.23 L455.9 258.16 L456.3 258.07 L456.7 257.97 L457.1 257.86 L457.5 257.74 L457.9 257.62 L458.3 257.48 L458.7 257.33 L459.1 257.17 L459.5 257 L459.9 256.83 L460.3 256.64 L460.7 256.45 L461.1 256.25 L461.5 256.05 L461.9 255.84 L462.3 255.63 L462.7 255.42 L463.1 255.21 L463.5 255.01 L463.9 254.81 L464.3 254.62 L464.7 254.44 L465.1 254.27 L465.5 254.12 L465.9 253.98 L466.3 253.86 L466.7 253.77 L467.1 253.69 L467.5 253.64 L467.9 253.61 L468.3 253.6" stroke="#0000e8" stroke-width="1.3" fill="none" stroke-linejoin="round" stroke-linecap="round" />
<path d="M467.9 253.61 L468.3 253.6 L468.7 253.62 L469.1 253.66 L469.5 253.73 L469.9 253.81 L470.3 253.92 L470.7 254.05 L471.1 254.19 L471.5 254.35 L471.9 254.53 L472.3 254.71 L472.7 254.91 L473.1 255.11 L473.5 255.31 L473.9 255.52 L474.3 255.73 L474.7 255.94 L475.1 256.15 L475.5 256.35 L475.9 256.55 L476.3 256.74 L476.7 256.92 L477.1 257.09 L477.5 257.25 L477.9 257.41 L478.3 257.55 L478.7 257.68 L479.1 257.8 L479.5 257.92 L479.9 258.02 L480.3 258.11 L480.7 258.2 L481.1 258.27 L481.5 258.34 L481.9 258.4 L482.3 258.45 L482.7 258.5 L483.1 258.54 L483.5 258.57 L483.9 258.61 L484.3 258.63 L484.7 258.66 L485.1 258.68 L485.5 258.69 L485.9 258.71 L486.3 258.72" stroke="#0000e8" stroke-width="1.3" fill="none" stroke-linejoin="round" stroke-linecap="round" />
<path d="M358.7 258.8 L359.1 258.8 L359.5 258.8 L359.9 258.8 L360.3 258.8 L360.7 258.8 L361.1 258.8 L361.5 258.8 L361.9 258.8 L362.3 258.8 L362.7 258.8 L363.1 258.8 L363.5 258.8 L363.9 258.8 L364.3 258.8 L364.7 258.8 L365.1 258.8 L365.5 258.8 L365.9 258.8 L366.3 258.8 L366.7 258.8 L367.1 258.8 L367.5 258.8 L367.9 258.8 L368.3 258.8 L368.7 258.8 L369.1 258.8 L369.5 258.8 L369.9 258.8 L370.3 258.8 L370.7 258.8 L371.1 258.8 L371.5 258.8 L371.9 258.8 L372.3 258.8 L372.7 258.8 L373.1 258.8 L373.5 258.8 L373.9 258.8 L374.3 258.8 L374.7 258.8 L375.1 258.8 L375.5 258.8 L375.9 258.8 L376.3 258.8 L376.7 258.8 L377.1 258.8 L377.5 258.8 L377.9 258.8 L378.3 258.8 L378.7 258.8 L379.1 258.8 L379.5 258.8 L379.9 258.8 L380.3 258.8 L380.7 258.8 L381.1 258.8 L381.5 258.8 L381.9 258.8 L382.3 258.8 L382.7 258.8 L383.1 258.8 L383.5 258.8 L383.9 258.8 L384.3 258.8 L384.7 258.8 L385.1 258.8 L385.5 258.8 L385.9 258.8 L386.3 258.8 L386.7 258.8 L387.1 258.8 L387.5 258.8 L387.9 258.8 L388.3 258.8 L388.7 258.8 L389.1 258.8 L389.5 258.8 L389.9 258.8 L390.3 258.8 L390.7 258.8 L391.1 258.8 L391.5 258.8 L391.9 258.8 L392.3 258.8 L392.7 258.8 L393.1 258.8 L393.5 258.8 L393.9 258.8 L394.3 258.8 L394.7 258.8 L395.1 258.8 L395.5 258.8 L395.9 258.8 L396.3 258.8 L396.7 258.8 L397.1 258.8 L397.5 258.8 L397.9 258.8 L398.3 258.8 L398.7 258.8 L399.1 258.8 L399.5 258.8 L399.9 258.8 L400.3 258.8 L400.7 258.8 L401.1 258.8 L401.5 258.8 L401.9 258.8 L402.3 258.8 L402.7 258.8 L403.1 258.8 L403.5 258.8 L403.9 258.8 L404.3 258.8 L404.7 258.8 L405.1 258.8 L405.5 258.8 L405.9 258.8 L406.3 258.8 L406.7 258.8 L407.1 258.8 L407.5 258.8 L407.9 258.8 L408.3 258.8 L408.7 258.8 L409.1 258.8 L409.5 258.8 L409.9 258.8 L410.3 258.8 L410.7 258.8 L411.1 258.8 L411.5 258.8 L411.9 258.8 L412.3 258.8 L412.7 258.8 L413.1 258.8 L413.5 258.8 L413.9 258.8 L414.3 258.8 L414.7 258.8 L415.1 258.8 L415.5 258.8 L415.9 258.8 L416.3 258.8 L416.7 258.8 L417.1 258.8 L417.5 258.8 L417.9 258.8 L418.3 258.8 L418.7 258.8 L419.1 258.8 L419.5 258.8 L419.9 258.8 L420.3 258.8 L420.7 258.8 L421.1 258.8 L421.5 258.8 L421.9 258.8 L422.3 258.8 L422.7 258.8 L423.1 258.8 L423.5 258.8 L423.9 258.8 L424.3 258.8 L424.7 258.8 L425.1 258.8 L425.5 258.8 L425.9 258.8 L426.3 258.8 L426.7 258.8 L427.1 258.8 L427.5 258.8 L427.9 258.8 L428.3 258.8 L428.7 258.8 L429.1 258.8 L429.5 258.8 L429.9 258.8 L430.3 258.8 L430.7 258.8 L431.1 258.8 L431.5 258.8 L431.9 258.8 L432.3 258.8 L432.7 258.8 L433.1 258.8 L433.5 258.8 L433.9 258.8 L434.3 258.8 L434.7 258.8 L435.1 258.8 L435.5 258.8 L435.9 258.8 L436.3 258.8 L436.7 258.8 L437.1 258.8 L437.5 258.8 L437.9 258.8 L438.3 258.8 L438.7 258.8 L439.1 258.8 L439.5 258.8 L439.9 258.8 L440.3 258.8 L440.7 258.8 L441.1 258.8 L441.5 258.8 L441.9 258.8 L442.3 258.8 L442.7 258.8 L443.1 258.8 L443.5 258.8 L443.9 258.8 L444.3 258.8 L444.7 258.8 L445.1 258.8 L445.5 258.8 L445.9 258.8 L446.3 258.8 L446.7 258.8 L447.1 258.8 L447.5 258.8 L447.9 258.8 L448.3 258.8 L448.7 258.8 L449.1 258.8 L449.5 258.8 L449.9 258.8 L450.3 258.8 L450.7 258.8 L451.1 258.8 L451.5 258.8 L451.9 258.8 L452.3 258.8 L452.7 258.8 L453.1 258.8 L453.5 258.8 L453.9 258.8 L454.3 258.8 L454.7 258.8 L455.1 258.8 L455.5 258.8 L455.9 258.8 L456.3 258.8 L456.7 258.8 L457.1 258.8 L457.5 258.8 L457.9 258.8 L458.3 258.8 L458.7 258.8 L459.1 258.8 L459.5 258.8 L459.9 258.8 L460.3 258.8 L460.7 258.8 L461.1 258.8 L461.5 258.8 L461.9 258.8 L462.3 258.8 L462.7 258.8 L463.1 258.8 L463.5 258.8 L463.9 258.8 L464.3 258.8 L464.7 258.8 L465.1 258.8 L465.5 258.8 L465.9 258.8 L466.3 258.8 L466.7 258.8 L467.1 258.8 L467.5 258.8 L467.9 258.8 L468.3 258.8 L468.7 258.8 L469.1 258.8 L469.5 258.8 L469.9 258.8 L470.3 258.8 L470.7 258.8 L471.1 258.8 L471.5 258.8 L471.9 258.8 L472.3 258.8 L472.7 258.8 L473.1 258.8 L473.5 258.8 L473.9 258.8 L474.3 258.8 L474.7 258.8 L475.1 258.8 L475.5 258.8 L475.9 258.8 L476.3 258.8 L476.7 258.8 L477.1 258.8 L477.5 258.8 L477.9 258.8 L478.3 258.8 L478.7 258.8 L479.1 258.8 L479.5 258.8 L479.9 258.8 L480.3 258.8 L480.7 258.8 L481.1 258.8 L481.5 258.8 L481.9 258.8 L482.3 258.8 L482.7 258.8 L483.1 258.8 L483.5 258.8 L483.9 258.8 L484.3 258.8 L484.7 258.8 L485.1 258.8 L485.5 258.8 L485.9 258.8 L486.3 258.8 L486.7 258.8 L487.1 258.8 L487.5 258.8 L487.9 258.8 L488.3 258.8 L488.7 258.8 L489.1 258.8 L489.5 258.8 L489.9 258.8 L490.3 258.8 L490.7 258.8 L491.1 258.8 L491.5 258.8 L491.9 258.8 L492.3 258.8 L492.7 258.8 L493.1 258.8 L493.5 258.8 L493.9 258.8 L494.3 258.8 L494.7 258.8 L495.1 258.8 L495.5 258.8 L495.9 258.8 L496.3 258.8 L496.7 258.8 L497.1 258.8 L497.5 258.8 L497.9 258.8 L498.3 258.8 L498.7 258.8 L499.1 258.8 L499.5 258.8 L499.9 258.8 L500.3 258.8 L500.7 258.8 L501.1 258.8 L501.5 258.8 L501.9 258.8 L502.3 258.8 L502.7 258.8 L503.1 258.8 L503.5 258.8 L503.9 258.8 L504.3 258.8 L504.7 258.8 L505.1 258.8 L505.5 258.8 L505.9 258.8 L506.3 258.8 L506.7 258.8 L507.1 258.8 L507.5 258.8 L507.9 258.8" stroke="#c078c8" stroke-width="1.1" fill="none" stroke-linejoin="round" stroke-linecap="round" />
<rect x="358.1" y="142.3" width="150.8" height="122.2" fill="none" stroke="#000" stroke-width="1.6" />
<line x1="359.3" y1="264.5" x2="359.3" y2="261.7" stroke="#000" stroke-width="1" />
<line x1="389.1" y1="264.5" x2="389.1" y2="261.7" stroke="#000" stroke-width="1" />
<line x1="418.9" y1="264.5" x2="418.9" y2="261.7" stroke="#000" stroke-width="1" />
<line x1="448.7" y1="264.5" x2="448.7" y2="261.7" stroke="#000" stroke-width="1" />
<line x1="478.5" y1="264.5" x2="478.5" y2="261.7" stroke="#000" stroke-width="1" />
<line x1="508.3" y1="264.5" x2="508.3" y2="261.7" stroke="#000" stroke-width="1" />
<line x1="374.2" y1="264.5" x2="374.2" y2="263" stroke="#000" stroke-width="1" />
<line x1="404" y1="264.5" x2="404" y2="263" stroke="#000" stroke-width="1" />
<line x1="433.8" y1="264.5" x2="433.8" y2="263" stroke="#000" stroke-width="1" />
<line x1="463.6" y1="264.5" x2="463.6" y2="263" stroke="#000" stroke-width="1" />
<line x1="493.4" y1="264.5" x2="493.4" y2="263" stroke="#000" stroke-width="1" />
<text transform="translate(359.3 272.3) scale(1 1.06)" font-size="8.4" fill="#000" text-anchor="middle" >538</text>
<text transform="translate(389.1 272.3) scale(1 1.06)" font-size="8.4" fill="#000" text-anchor="middle" >536</text>
<text transform="translate(418.9 272.3) scale(1 1.06)" font-size="8.4" fill="#000" text-anchor="middle" >534</text>
<text transform="translate(448.7 272.3) scale(1 1.06)" font-size="8.4" fill="#000" text-anchor="middle" >532</text>
<text transform="translate(478.5 272.3) scale(1 1.06)" font-size="8.4" fill="#000" text-anchor="middle" >530</text>
<text transform="translate(508.3 272.3) scale(1 1.06)" font-size="8.4" fill="#000" text-anchor="middle" >528</text>
<text transform="translate(360 152.5) scale(1 1.06)" font-size="9.66" fill="#ff1a1a" text-anchor="start" >O1s</text>
<text transform="translate(492 152.5) scale(1 1.06)" font-size="9.62" fill="#000" text-anchor="start" >WP</text>
<text transform="translate(339.8 149.2) scale(1 1.06)" font-size="9.4" fill="#000" text-anchor="start" >(G)</text>
<text transform="translate(428.75 150.5) scale(1 1.06)" font-size="7.09" fill="#000" text-anchor="start" >C-O</text>
<text transform="translate(428.75 159.75) scale(1 1.06)" font-size="7.37" fill="#000" text-anchor="start" >97.12%</text>
<text transform="translate(465.75 238.25) scale(1 1.06)" font-size="6.84" fill="#000" text-anchor="start" >C=O</text>
<text transform="translate(465.75 247.5) scale(1 1.06)" font-size="7.23" fill="#000" text-anchor="start" >2.88%</text>
<rect x="528.8" y="141.3" width="149" height="122.5" fill="#eef7fd" stroke="none" stroke-width="1" />
<path d="M529.4 254.64 L529.8 254.64 L530.2 254.64 L530.6 254.63 L531 254.63 L531.4 254.63 L531.8 254.62 L532.2 254.62 L532.6 254.62 L533 254.62 L533.4 254.61 L533.8 254.61 L534.2 254.61 L534.6 254.61 L535 254.6 L535.4 254.6 L535.8 254.6 L536.2 254.59 L536.6 254.59 L537 254.59 L537.4 254.58 L537.8 254.58 L538.2 254.58 L538.6 254.57 L539 254.57 L539.4 254.57 L539.8 254.56 L540.2 254.56 L540.6 254.56 L541 254.55 L541.4 254.55 L541.8 254.54 L542.2 254.54 L542.6 254.54 L543 254.53 L543.4 254.53 L543.8 254.52 L544.2 254.52 L544.6 254.51 L545 254.51 L545.4 254.51 L545.8 254.5 L546.2 254.5 L546.6 254.49 L547 254.49 L547.4 254.48 L547.8 254.48 L548.2 254.47 L548.6 254.47 L549 254.46 L549.4 254.46 L549.8 254.45 L550.2 254.44 L550.6 254.44 L551 254.43 L551.4 254.43 L551.8 254.42 L552.2 254.41 L552.6 254.41 L553 254.4 L553.4 254.4 L553.8 254.39 L554.2 254.38 L554.6 254.38 L555 254.37 L555.4 254.36 L555.8 254.35 L556.2 254.35 L556.6 254.34 L557 254.33 L557.4 254.32 L557.8 254.31 L558.2 254.31 L558.6 254.3 L559 254.29 L559.4 254.28 L559.8 254.27 L560.2 254.26 L560.6 254.25 L561 254.24 L561.4 254.23 L561.8 254.22 L562.2 254.21 L562.6 254.2 L563 254.18 L563.4 254.17 L563.8 254.16 L564.2 254.15 L564.6 254.13 L565 254.12 L565.4 254.1 L565.8 254.09 L566.2 254.07 L566.6 254.05 L567 254.03 L567.4 254.02 L567.8 253.99 L568.2 253.97 L568.6 253.95 L569 253.93 L569.4 253.9 L569.8 253.87 L570.2 253.84 L570.6 253.81 L571 253.78 L571.4 253.74 L571.8 253.7 L572.2 253.66 L572.6 253.61 L573 253.56 L573.4 253.5 L573.8 253.44 L574.2 253.38 L574.6 253.31 L575 253.23 L575.4 253.15 L575.8 253.06 L576.2 252.96 L576.6 252.86 L577 252.74 L577.4 252.61 L577.8 252.48 L578.2 252.33 L578.6 252.17 L579 251.99 L579.4 251.8 L579.8 251.6 L580.2 251.37 L580.6 251.13 L581 250.87 L581.4 250.59 L581.8 250.29 L582.2 249.96 L582.6 249.61 L583 249.23 L583.4 248.83 L583.8 248.39 L584.2 247.93 L584.6 247.43 L585 246.9 L585.4 246.33 L585.8 245.72 L586.2 245.08 L586.6 244.39 L587 243.67 L587.4 242.9 L587.8 242.08 L588.2 241.22 L588.6 240.32 L589 239.36 L589.4 238.35 L589.8 237.3 L590.2 236.19 L590.6 235.03 L591 233.82 L591.4 232.56 L591.8 231.24 L592.2 229.87 L592.6 228.45 L593 226.98 L593.4 225.46 L593.8 223.88 L594.2 222.26 L594.6 220.59 L595 218.88 L595.4 217.12 L595.8 215.32 L596.2 213.48 L596.6 211.6 L597 209.7 L597.4 207.76 L597.8 205.8 L598.2 203.81 L598.6 201.81 L599 199.79 L599.4 197.77 L599.8 195.74 L600.2 193.71 L600.6 191.68 L601 189.67 L601.4 187.68 L601.8 185.7 L602.2 183.76 L602.6 181.84 L603 179.97 L603.4 178.14 L603.8 176.36 L604.2 174.64 L604.6 172.98 L605 171.38 L605.4 169.86 L605.8 168.42 L606.2 167.06 L606.6 165.79 L607 164.6 L607.4 163.52 L607.8 162.53 L608.2 161.64 L608.6 160.86 L609 160.19 L609.4 159.62 L609.8 159.16 L610.2 158.82 L610.6 158.6 L611 158.51 L611.4 158.54 L611.8 158.69 L612.2 158.96 L612.6 159.34 L613 159.83 L613.4 160.42 L613.8 161.11 L614.2 161.89 L614.6 162.76 L615 163.71 L615.4 164.73 L615.8 165.82 L616.2 166.97 L616.6 168.18 L617 169.44 L617.4 170.74 L617.8 172.07 L618.2 173.44 L618.6 174.83 L619 176.24 L619.4 177.67 L619.8 179.11 L620.2 180.55 L620.6 181.99 L621 183.44 L621.4 184.87 L621.8 186.3 L622.2 187.72 L622.6 189.12 L623 190.5 L623.4 191.87 L623.8 193.22 L624.2 194.54 L624.6 195.85 L625 197.13 L625.4 198.4 L625.8 199.64 L626.2 200.86 L626.6 202.06 L627 203.23 L627.4 204.39 L627.8 205.53 L628.2 206.65 L628.6 207.75 L629 208.84 L629.4 209.91 L629.8 210.96 L630.2 212 L630.6 213.03 L631 214.05 L631.4 215.06 L631.8 216.05 L632.2 217.04 L632.6 218.02 L633 218.99 L633.4 219.95 L633.8 220.9 L634.2 221.84 L634.6 222.78 L635 223.7 L635.4 224.62 L635.8 225.53 L636.2 226.43 L636.6 227.33 L637 228.21 L637.4 229.08 L637.8 229.95 L638.2 230.8 L638.6 231.64 L639 232.47 L639.4 233.29 L639.8 234.1 L640.2 234.89 L640.6 235.67 L641 236.43 L641.4 237.18 L641.8 237.91 L642.2 238.63 L642.6 239.33 L643 240.01 L643.4 240.68 L643.8 241.32 L644.2 241.95 L644.6 242.56 L645 243.16 L645.4 243.73 L645.8 244.28 L646.2 244.82 L646.6 245.33 L647 245.83 L647.4 246.31 L647.8 246.76 L648.2 247.2 L648.6 247.62 L649 248.03 L649.4 248.41 L649.8 248.78 L650.2 249.12 L650.6 249.46 L651 249.77 L651.4 250.07 L651.8 250.35 L652.2 250.62 L652.6 250.87 L653 251.11 L653.4 251.33 L653.8 251.55 L654.2 251.74 L654.6 251.93 L655 252.11 L655.4 252.27 L655.8 252.42 L656.2 252.57 L656.6 252.7 L657 252.83 L657.4 252.94 L657.8 253.05 L658.2 253.15 L658.6 253.25 L659 253.33 L659.4 253.41 L659.8 253.49 L660.2 253.56 L660.6 253.62 L661 253.68 L661.4 253.74 L661.8 253.79 L662.2 253.84 L662.6 253.88 L663 253.92 L663.4 253.96 L663.8 254 L664.2 254.03 L664.6 254.06 L665 254.09 L665.4 254.11 L665.8 254.14 L666.2 254.16 L666.6 254.18 L667 254.2 L667.4 254.22 L667.8 254.24 L668.2 254.25 L668.6 254.27 L669 254.28 L669.4 254.29 L669.8 254.31 L670.2 254.32 L670.6 254.33 L671 254.34 L671.4 254.35 L671.8 254.36 L672.2 254.37 L672.6 254.38 L673 254.39 L673.4 254.4 L673.8 254.4 L674.2 254.41 L674.6 254.42 L675 254.43 L675.4 254.43 L675.8 254.44 L676.2 254.45 L676.6 254.45 L677 254.46" stroke="#ffb8d0" stroke-width="1.4" fill="none" stroke-linejoin="round" stroke-linecap="round" />
<path d="M529.4 254.72 L529.8 254.72 L530.2 254.72 L530.6 254.71 L531 254.71 L531.4 254.71 L531.8 254.71 L532.2 254.71 L532.6 254.7 L533 254.7 L533.4 254.7 L533.8 254.7 L534.2 254.7 L534.6 254.69 L535 254.69 L535.4 254.69 L535.8 254.69 L536.2 254.69 L536.6 254.68 L537 254.68 L537.4 254.68 L537.8 254.68 L538.2 254.67 L538.6 254.67 L539 254.67 L539.4 254.67 L539.8 254.66 L540.2 254.66 L540.6 254.66 L541 254.65 L541.4 254.65 L541.8 254.65 L542.2 254.65 L542.6 254.64 L543 254.64 L543.4 254.64 L543.8 254.63 L544.2 254.63 L544.6 254.63 L545 254.62 L545.4 254.62 L545.8 254.62 L546.2 254.61 L546.6 254.61 L547 254.61 L547.4 254.6 L547.8 254.6 L548.2 254.6 L548.6 254.59 L549 254.59 L549.4 254.58 L549.8 254.58 L550.2 254.58 L550.6 254.57 L551 254.57 L551.4 254.56 L551.8 254.56 L552.2 254.55 L552.6 254.55 L553 254.54 L553.4 254.54 L553.8 254.53 L554.2 254.53 L554.6 254.52 L555 254.52 L555.4 254.51 L555.8 254.51 L556.2 254.5 L556.6 254.5 L557 254.49 L557.4 254.48 L557.8 254.48 L558.2 254.47 L558.6 254.46 L559 254.46 L559.4 254.45 L559.8 254.44 L560.2 254.44 L560.6 254.43 L561 254.42 L561.4 254.42 L561.8 254.41 L562.2 254.4 L562.6 254.39 L563 254.38 L563.4 254.37 L563.8 254.36 L564.2 254.36 L564.6 254.35 L565 254.34 L565.4 254.33 L565.8 254.32 L566.2 254.3 L566.6 254.29 L567 254.28 L567.4 254.27 L567.8 254.26 L568.2 254.24 L568.6 254.23 L569 254.21 L569.4 254.2 L569.8 254.18 L570.2 254.17 L570.6 254.15 L571 254.13 L571.4 254.11 L571.8 254.09 L572.2 254.06 L572.6 254.04 L573 254.01 L573.4 253.98 L573.8 253.95 L574.2 253.91 L574.6 253.87 L575 253.83 L575.4 253.79 L575.8 253.74 L576.2 253.69 L576.6 253.63 L577 253.56 L577.4 253.49 L577.8 253.41 L578.2 253.33 L578.6 253.23 L579 253.13 L579.4 253.02 L579.8 252.89 L580.2 252.75 L580.6 252.6 L581 252.44 L581.4 252.26 L581.8 252.06 L582.2 251.84 L582.6 251.6 L583 251.34 L583.4 251.06 L583.8 250.75 L584.2 250.41 L584.6 250.05 L585 249.65 L585.4 249.22 L585.8 248.76 L586.2 248.25 L586.6 247.71 L587 247.13 L587.4 246.5 L587.8 245.83 L588.2 245.11 L588.6 244.33 L589 243.51 L589.4 242.63 L589.8 241.7 L590.2 240.71 L590.6 239.66 L591 238.55 L591.4 237.38 L591.8 236.15 L592.2 234.85 L592.6 233.49 L593 232.07 L593.4 230.58 L593.8 229.03 L594.2 227.42 L594.6 225.75 L595 224.01 L595.4 222.22 L595.8 220.38 L596.2 218.48 L596.6 216.54 L597 214.55 L597.4 212.52 L597.8 210.45 L598.2 208.35 L598.6 206.23 L599 204.08 L599.4 201.93 L599.8 199.76 L600.2 197.59 L600.6 195.44 L601 193.29 L601.4 191.17 L601.8 189.08 L602.2 187.03 L602.6 185.03 L603 183.08 L603.4 181.2 L603.8 179.39 L604.2 177.66 L604.6 176.02 L605 174.48 L605.4 173.05 L605.8 171.73 L606.2 170.53 L606.6 169.46 L607 168.53 L607.4 167.74 L607.8 167.09 L608.2 166.59 L608.6 166.24 L609 166.04 L609.4 166 L609.8 166.12 L610.2 166.39 L610.6 166.82 L611 167.39 L611.4 168.11 L611.8 168.98 L612.2 169.98 L612.6 171.12 L613 172.37 L613.4 173.75 L613.8 175.24 L614.2 176.83 L614.6 178.51 L615 180.28 L615.4 182.13 L615.8 184.05 L616.2 186.02 L616.6 188.05 L617 190.12 L617.4 192.23 L617.8 194.36 L618.2 196.51 L618.6 198.68 L619 200.84 L619.4 203.01 L619.8 205.16 L620.2 207.29 L620.6 209.4 L621 211.49 L621.4 213.54 L621.8 215.55 L622.2 217.52 L622.6 219.44 L623 221.31 L623.4 223.13 L623.8 224.89 L624.2 226.59 L624.6 228.23 L625 229.81 L625.4 231.33 L625.8 232.79 L626.2 234.18 L626.6 235.51 L627 236.77 L627.4 237.97 L627.8 239.11 L628.2 240.19 L628.6 241.21 L629 242.17 L629.4 243.08 L629.8 243.93 L630.2 244.73 L630.6 245.47 L631 246.17 L631.4 246.82 L631.8 247.42 L632.2 247.99 L632.6 248.51 L633 248.99 L633.4 249.44 L633.8 249.85 L634.2 250.23 L634.6 250.58 L635 250.91 L635.4 251.2 L635.8 251.47 L636.2 251.72 L636.6 251.95 L637 252.16 L637.4 252.35 L637.8 252.52 L638.2 252.68 L638.6 252.82 L639 252.96 L639.4 253.07 L639.8 253.18 L640.2 253.28 L640.6 253.37 L641 253.45 L641.4 253.53 L641.8 253.6 L642.2 253.66 L642.6 253.71 L643 253.76 L643.4 253.81 L643.8 253.85 L644.2 253.89 L644.6 253.93 L645 253.96 L645.4 253.99 L645.8 254.02 L646.2 254.05 L646.6 254.07 L647 254.1 L647.4 254.12 L647.8 254.14 L648.2 254.16 L648.6 254.17 L649 254.19 L649.4 254.21 L649.8 254.22 L650.2 254.24 L650.6 254.25 L651 254.26 L651.4 254.28 L651.8 254.29 L652.2 254.3 L652.6 254.31 L653 254.32 L653.4 254.33 L653.8 254.34 L654.2 254.35 L654.6 254.36 L655 254.37 L655.4 254.38 L655.8 254.39 L656.2 254.4 L656.6 254.4 L657 254.41 L657.4 254.42 L657.8 254.43 L658.2 254.43 L658.6 254.44 L659 254.45 L659.4 254.45 L659.8 254.46 L660.2 254.47 L660.6 254.47 L661 254.48 L661.4 254.49 L661.8 254.49 L662.2 254.5 L662.6 254.5 L663 254.51 L663.4 254.52 L663.8 254.52 L664.2 254.53 L664.6 254.53 L665 254.54 L665.4 254.54 L665.8 254.55 L666.2 254.55 L666.6 254.56 L667 254.56 L667.4 254.56 L667.8 254.57 L668.2 254.57 L668.6 254.58 L669 254.58 L669.4 254.59 L669.8 254.59 L670.2 254.59 L670.6 254.6 L671 254.6 L671.4 254.61 L671.8 254.61 L672.2 254.61 L672.6 254.62 L673 254.62 L673.4 254.62 L673.8 254.63 L674.2 254.63 L674.6 254.63 L675 254.64 L675.4 254.64 L675.8 254.64 L676.2 254.64 L676.6 254.65 L677 254.65 L677 254.9 L676.6 254.9 L676.2 254.9 L675.8 254.9 L675.4 254.9 L675 254.9 L674.6 254.9 L674.2 254.9 L673.8 254.9 L673.4 254.9 L673 254.9 L672.6 254.9 L672.2 254.9 L671.8 254.9 L671.4 254.9 L671 254.9 L670.6 254.9 L670.2 254.9 L669.8 254.9 L669.4 254.9 L669 254.9 L668.6 254.9 L668.2 254.9 L667.8 254.9 L667.4 254.9 L667 254.9 L666.6 254.9 L666.2 254.9 L665.8 254.9 L665.4 254.9 L665 254.9 L664.6 254.9 L664.2 254.9 L663.8 254.9 L663.4 254.9 L663 254.9 L662.6 254.9 L662.2 254.9 L661.8 254.9 L661.4 254.9 L661 254.9 L660.6 254.9 L660.2 254.9 L659.8 254.9 L659.4 254.9 L659 254.9 L658.6 254.9 L658.2 254.9 L657.8 254.9 L657.4 254.9 L657 254.9 L656.6 254.9 L656.2 254.9 L655.8 254.9 L655.4 254.9 L655 254.9 L654.6 254.9 L654.2 254.9 L653.8 254.9 L653.4 254.9 L653 254.9 L652.6 254.9 L652.2 254.9 L651.8 254.9 L651.4 254.9 L651 254.9 L650.6 254.9 L650.2 254.9 L649.8 254.9 L649.4 254.9 L649 254.9 L648.6 254.9 L648.2 254.9 L647.8 254.9 L647.4 254.9 L647 254.9 L646.6 254.9 L646.2 254.9 L645.8 254.9 L645.4 254.9 L645 254.9 L644.6 254.9 L644.2 254.9 L643.8 254.9 L643.4 254.9 L643 254.9 L642.6 254.9 L642.2 254.9 L641.8 254.9 L641.4 254.9 L641 254.9 L640.6 254.9 L640.2 254.9 L639.8 254.9 L639.4 254.9 L639 254.9 L638.6 254.9 L638.2 254.9 L637.8 254.9 L637.4 254.9 L637 254.9 L636.6 254.9 L636.2 254.9 L635.8 254.9 L635.4 254.9 L635 254.9 L634.6 254.9 L634.2 254.9 L633.8 254.9 L633.4 254.9 L633 254.9 L632.6 254.9 L632.2 254.9 L631.8 254.9 L631.4 254.9 L631 254.9 L630.6 254.9 L630.2 254.9 L629.8 254.9 L629.4 254.9 L629 254.9 L628.6 254.9 L628.2 254.9 L627.8 254.9 L627.4 254.9 L627 254.9 L626.6 254.9 L626.2 254.9 L625.8 254.9 L625.4 254.9 L625 254.9 L624.6 254.9 L624.2 254.9 L623.8 254.9 L623.4 254.9 L623 254.9 L622.6 254.9 L622.2 254.9 L621.8 254.9 L621.4 254.9 L621 254.9 L620.6 254.9 L620.2 254.9 L619.8 254.9 L619.4 254.9 L619 254.9 L618.6 254.9 L618.2 254.9 L617.8 254.9 L617.4 254.9 L617 254.9 L616.6 254.9 L616.2 254.9 L615.8 254.9 L615.4 254.9 L615 254.9 L614.6 254.9 L614.2 254.9 L613.8 254.9 L613.4 254.9 L613 254.9 L612.6 254.9 L612.2 254.9 L611.8 254.9 L611.4 254.9 L611 254.9 L610.6 254.9 L610.2 254.9 L609.8 254.9 L609.4 254.9 L609 254.9 L608.6 254.9 L608.2 254.9 L607.8 254.9 L607.4 254.9 L607 254.9 L606.6 254.9 L606.2 254.9 L605.8 254.9 L605.4 254.9 L605 254.9 L604.6 254.9 L604.2 254.9 L603.8 254.9 L603.4 254.9 L603 254.9 L602.6 254.9 L602.2 254.9 L601.8 254.9 L601.4 254.9 L601 254.9 L600.6 254.9 L600.2 254.9 L599.8 254.9 L599.4 254.9 L599 254.9 L598.6 254.9 L598.2 254.9 L597.8 254.9 L597.4 254.9 L597 254.9 L596.6 254.9 L596.2 254.9 L595.8 254.9 L595.4 254.9 L595 254.9 L594.6 254.9 L594.2 254.9 L593.8 254.9 L593.4 254.9 L593 254.9 L592.6 254.9 L592.2 254.9 L591.8 254.9 L591.4 254.9 L591 254.9 L590.6 254.9 L590.2 254.9 L589.8 254.9 L589.4 254.9 L589 254.9 L588.6 254.9 L588.2 254.9 L587.8 254.9 L587.4 254.9 L587 254.9 L586.6 254.9 L586.2 254.9 L585.8 254.9 L585.4 254.9 L585 254.9 L584.6 254.9 L584.2 254.9 L583.8 254.9 L583.4 254.9 L583 254.9 L582.6 254.9 L582.2 254.9 L581.8 254.9 L581.4 254.9 L581 254.9 L580.6 254.9 L580.2 254.9 L579.8 254.9 L579.4 254.9 L579 254.9 L578.6 254.9 L578.2 254.9 L577.8 254.9 L577.4 254.9 L577 254.9 L576.6 254.9 L576.2 254.9 L575.8 254.9 L575.4 254.9 L575 254.9 L574.6 254.9 L574.2 254.9 L573.8 254.9 L573.4 254.9 L573 254.9 L572.6 254.9 L572.2 254.9 L571.8 254.9 L571.4 254.9 L571 254.9 L570.6 254.9 L570.2 254.9 L569.8 254.9 L569.4 254.9 L569 254.9 L568.6 254.9 L568.2 254.9 L567.8 254.9 L567.4 254.9 L567 254.9 L566.6 254.9 L566.2 254.9 L565.8 254.9 L565.4 254.9 L565 254.9 L564.6 254.9 L564.2 254.9 L563.8 254.9 L563.4 254.9 L563 254.9 L562.6 254.9 L562.2 254.9 L561.8 254.9 L561.4 254.9 L561 254.9 L560.6 254.9 L560.2 254.9 L559.8 254.9 L559.4 254.9 L559 254.9 L558.6 254.9 L558.2 254.9 L557.8 254.9 L557.4 254.9 L557 254.9 L556.6 254.9 L556.2 254.9 L555.8 254.9 L555.4 254.9 L555 254.9 L554.6 254.9 L554.2 254.9 L553.8 254.9 L553.4 254.9 L553 254.9 L552.6 254.9 L552.2 254.9 L551.8 254.9 L551.4 254.9 L551 254.9 L550.6 254.9 L550.2 254.9 L549.8 254.9 L549.4 254.9 L549 254.9 L548.6 254.9 L548.2 254.9 L547.8 254.9 L547.4 254.9 L547 254.9 L546.6 254.9 L546.2 254.9 L545.8 254.9 L545.4 254.9 L545 254.9 L544.6 254.9 L544.2 254.9 L543.8 254.9 L543.4 254.9 L543 254.9 L542.6 254.9 L542.2 254.9 L541.8 254.9 L541.4 254.9 L541 254.9 L540.6 254.9 L540.2 254.9 L539.8 254.9 L539.4 254.9 L539 254.9 L538.6 254.9 L538.2 254.9 L537.8 254.9 L537.4 254.9 L537 254.9 L536.6 254.9 L536.2 254.9 L535.8 254.9 L535.4 254.9 L535 254.9 L534.6 254.9 L534.2 254.9 L533.8 254.9 L533.4 254.9 L533 254.9 L532.6 254.9 L532.2 254.9 L531.8 254.9 L531.4 254.9 L531 254.9 L530.6 254.9 L530.2 254.9 L529.8 254.9 L529.4 254.9 Z" fill="url(#gr)" stroke="none"/>
<path d="M529.4 254.72 L529.8 254.72 L530.2 254.72 L530.6 254.71 L531 254.71 L531.4 254.71 L531.8 254.71 L532.2 254.71 L532.6 254.7 L533 254.7 L533.4 254.7 L533.8 254.7 L534.2 254.7 L534.6 254.69 L535 254.69 L535.4 254.69 L535.8 254.69 L536.2 254.69 L536.6 254.68 L537 254.68 L537.4 254.68 L537.8 254.68 L538.2 254.67 L538.6 254.67 L539 254.67 L539.4 254.67 L539.8 254.66 L540.2 254.66 L540.6 254.66 L541 254.65 L541.4 254.65 L541.8 254.65 L542.2 254.65 L542.6 254.64 L543 254.64 L543.4 254.64 L543.8 254.63 L544.2 254.63 L544.6 254.63 L545 254.62 L545.4 254.62 L545.8 254.62 L546.2 254.61 L546.6 254.61 L547 254.61 L547.4 254.6 L547.8 254.6 L548.2 254.6 L548.6 254.59 L549 254.59 L549.4 254.58 L549.8 254.58 L550.2 254.58 L550.6 254.57 L551 254.57 L551.4 254.56 L551.8 254.56 L552.2 254.55 L552.6 254.55 L553 254.54 L553.4 254.54 L553.8 254.53 L554.2 254.53 L554.6 254.52 L555 254.52 L555.4 254.51 L555.8 254.51 L556.2 254.5 L556.6 254.5 L557 254.49 L557.4 254.48 L557.8 254.48 L558.2 254.47 L558.6 254.46 L559 254.46 L559.4 254.45 L559.8 254.44 L560.2 254.44 L560.6 254.43 L561 254.42 L561.4 254.42 L561.8 254.41 L562.2 254.4 L562.6 254.39 L563 254.38 L563.4 254.37 L563.8 254.36 L564.2 254.36 L564.6 254.35 L565 254.34 L565.4 254.33 L565.8 254.32 L566.2 254.3 L566.6 254.29 L567 254.28 L567.4 254.27 L567.8 254.26 L568.2 254.24 L568.6 254.23 L569 254.21 L569.4 254.2 L569.8 254.18 L570.2 254.17 L570.6 254.15 L571 254.13 L571.4 254.11 L571.8 254.09 L572.2 254.06 L572.6 254.04 L573 254.01 L573.4 253.98 L573.8 253.95 L574.2 253.91 L574.6 253.87 L575 253.83 L575.4 253.79 L575.8 253.74 L576.2 253.69 L576.6 253.63 L577 253.56 L577.4 253.49 L577.8 253.41 L578.2 253.33 L578.6 253.23 L579 253.13 L579.4 253.02 L579.8 252.89 L580.2 252.75 L580.6 252.6 L581 252.44 L581.4 252.26 L581.8 252.06 L582.2 251.84 L582.6 251.6 L583 251.34 L583.4 251.06 L583.8 250.75 L584.2 250.41 L584.6 250.05 L585 249.65 L585.4 249.22 L585.8 248.76 L586.2 248.25 L586.6 247.71 L587 247.13 L587.4 246.5 L587.8 245.83 L588.2 245.11 L588.6 244.33 L589 243.51 L589.4 242.63 L589.8 241.7 L590.2 240.71 L590.6 239.66 L591 238.55 L591.4 237.38 L591.8 236.15 L592.2 234.85 L592.6 233.49 L593 232.07 L593.4 230.58 L593.8 229.03 L594.2 227.42 L594.6 225.75 L595 224.01 L595.4 222.22 L595.8 220.38 L596.2 218.48 L596.6 216.54 L597 214.55 L597.4 212.52 L597.8 210.45 L598.2 208.35 L598.6 206.23 L599 204.08 L599.4 201.93 L599.8 199.76 L600.2 197.59 L600.6 195.44 L601 193.29 L601.4 191.17 L601.8 189.08 L602.2 187.03 L602.6 185.03 L603 183.08 L603.4 181.2 L603.8 179.39 L604.2 177.66 L604.6 176.02 L605 174.48 L605.4 173.05 L605.8 171.73 L606.2 170.53 L606.6 169.46 L607 168.53 L607.4 167.74 L607.8 167.09 L608.2 166.59 L608.6 166.24 L609 166.04 L609.4 166" stroke="#ff6080" stroke-width="1.3" fill="none" stroke-linejoin="round" stroke-linecap="round" />
<path d="M609 166.04 L609.4 166 L609.8 166.12 L610.2 166.39 L610.6 166.82 L611 167.39 L611.4 168.11 L611.8 168.98 L612.2 169.98 L612.6 171.12 L613 172.37 L613.4 173.75 L613.8 175.24 L614.2 176.83 L614.6 178.51 L615 180.28 L615.4 182.13 L615.8 184.05 L616.2 186.02 L616.6 188.05 L617 190.12 L617.4 192.23 L617.8 194.36 L618.2 196.51 L618.6 198.68 L619 200.84 L619.4 203.01 L619.8 205.16 L620.2 207.29 L620.6 209.4 L621 211.49 L621.4 213.54 L621.8 215.55 L622.2 217.52 L622.6 219.44 L623 221.31 L623.4 223.13 L623.8 224.89 L624.2 226.59 L624.6 228.23 L625 229.81 L625.4 231.33 L625.8 232.79 L626.2 234.18 L626.6 235.51 L627 236.77 L627.4 237.97 L627.8 239.11 L628.2 240.19 L628.6 241.21 L629 242.17 L629.4 243.08 L629.8 243.93 L630.2 244.73 L630.6 245.47 L631 246.17 L631.4 246.82 L631.8 247.42 L632.2 247.99 L632.6 248.51 L633 248.99 L633.4 249.44 L633.8 249.85 L634.2 250.23 L634.6 250.58 L635 250.91 L635.4 251.2 L635.8 251.47 L636.2 251.72 L636.6 251.95 L637 252.16 L637.4 252.35 L637.8 252.52 L638.2 252.68 L638.6 252.82 L639 252.96 L639.4 253.07 L639.8 253.18 L640.2 253.28 L640.6 253.37 L641 253.45 L641.4 253.53 L641.8 253.6 L642.2 253.66 L642.6 253.71 L643 253.76 L643.4 253.81 L643.8 253.85 L644.2 253.89 L644.6 253.93 L645 253.96 L645.4 253.99 L645.8 254.02 L646.2 254.05 L646.6 254.07 L647 254.1 L647.4 254.12 L647.8 254.14 L648.2 254.16 L648.6 254.17 L649 254.19 L649.4 254.21 L649.8 254.22 L650.2 254.24 L650.6 254.25 L651 254.26 L651.4 254.28 L651.8 254.29 L652.2 254.3 L652.6 254.31 L653 254.32 L653.4 254.33 L653.8 254.34 L654.2 254.35 L654.6 254.36 L655 254.37 L655.4 254.38 L655.8 254.39 L656.2 254.4 L656.6 254.4 L657 254.41 L657.4 254.42 L657.8 254.43 L658.2 254.43 L658.6 254.44 L659 254.45 L659.4 254.45 L659.8 254.46 L660.2 254.47 L660.6 254.47 L661 254.48 L661.4 254.49 L661.8 254.49 L662.2 254.5 L662.6 254.5 L663 254.51 L663.4 254.52 L663.8 254.52 L664.2 254.53 L664.6 254.53 L665 254.54 L665.4 254.54 L665.8 254.55 L666.2 254.55 L666.6 254.56 L667 254.56 L667.4 254.56 L667.8 254.57 L668.2 254.57 L668.6 254.58 L669 254.58 L669.4 254.59 L669.8 254.59 L670.2 254.59 L670.6 254.6 L671 254.6 L671.4 254.61 L671.8 254.61 L672.2 254.61 L672.6 254.62 L673 254.62 L673.4 254.62 L673.8 254.63 L674.2 254.63 L674.6 254.63 L675 254.64 L675.4 254.64 L675.8 254.64 L676.2 254.64 L676.6 254.65 L677 254.65" stroke="#ee0000" stroke-width="1.3" fill="none" stroke-linejoin="round" stroke-linecap="round" />
<path d="M562.6 254.82 L563 254.82 L563.4 254.82 L563.8 254.82 L564.2 254.82 L564.6 254.81 L565 254.81 L565.4 254.81 L565.8 254.81 L566.2 254.81 L566.6 254.81 L567 254.81 L567.4 254.81 L567.8 254.81 L568.2 254.8 L568.6 254.8 L569 254.8 L569.4 254.8 L569.8 254.8 L570.2 254.8 L570.6 254.8 L571 254.8 L571.4 254.79 L571.8 254.79 L572.2 254.79 L572.6 254.79 L573 254.79 L573.4 254.79 L573.8 254.79 L574.2 254.78 L574.6 254.78 L575 254.78 L575.4 254.78 L575.8 254.78 L576.2 254.77 L576.6 254.77 L577 254.77 L577.4 254.77 L577.8 254.77 L578.2 254.76 L578.6 254.76 L579 254.76 L579.4 254.76 L579.8 254.75 L580.2 254.75 L580.6 254.75 L581 254.75 L581.4 254.74 L581.8 254.74 L582.2 254.74 L582.6 254.73 L583 254.73 L583.4 254.72 L583.8 254.72 L584.2 254.71 L584.6 254.71 L585 254.7 L585.4 254.7 L585.8 254.69 L586.2 254.69 L586.6 254.68 L587 254.67 L587.4 254.66 L587.8 254.65 L588.2 254.64 L588.6 254.63 L589 254.62 L589.4 254.61 L589.8 254.59 L590.2 254.58 L590.6 254.56 L591 254.55 L591.4 254.53 L591.8 254.51 L592.2 254.48 L592.6 254.46 L593 254.43 L593.4 254.4 L593.8 254.37 L594.2 254.34 L594.6 254.3 L595 254.26 L595.4 254.22 L595.8 254.17 L596.2 254.12 L596.6 254.06 L597 254 L597.4 253.94 L597.8 253.87 L598.2 253.8 L598.6 253.72 L599 253.63 L599.4 253.54 L599.8 253.44 L600.2 253.33 L600.6 253.22 L601 253.1 L601.4 252.97 L601.8 252.83 L602.2 252.69 L602.6 252.53 L603 252.37 L603.4 252.19 L603.8 252 L604.2 251.81 L604.6 251.6 L605 251.38 L605.4 251.15 L605.8 250.91 L606.2 250.66 L606.6 250.39 L607 250.11 L607.4 249.82 L607.8 249.52 L608.2 249.2 L608.6 248.87 L609 248.53 L609.4 248.18 L609.8 247.81 L610.2 247.43 L610.6 247.04 L611 246.63 L611.4 246.22 L611.8 245.79 L612.2 245.35 L612.6 244.9 L613 244.44 L613.4 243.98 L613.8 243.5 L614.2 243.02 L614.6 242.53 L615 242.03 L615.4 241.53 L615.8 241.02 L616.2 240.52 L616.6 240.01 L617 239.5 L617.4 238.99 L617.8 238.48 L618.2 237.97 L618.6 237.47 L619 236.98 L619.4 236.49 L619.8 236.01 L620.2 235.55 L620.6 235.09 L621 234.65 L621.4 234.22 L621.8 233.81 L622.2 233.41 L622.6 233.04 L623 232.68 L623.4 232.35 L623.8 232.04 L624.2 231.75 L624.6 231.49 L625 231.25 L625.4 231.04 L625.8 230.86 L626.2 230.71 L626.6 230.59 L627 230.5 L627.4 230.43 L627.8 230.4 L628.2 230.4 L628.6 230.43 L629 230.5 L629.4 230.59 L629.8 230.71 L630.2 230.86 L630.6 231.04 L631 231.25 L631.4 231.49 L631.8 231.75 L632.2 232.04 L632.6 232.35 L633 232.68 L633.4 233.04 L633.8 233.41 L634.2 233.81 L634.6 234.22 L635 234.65 L635.4 235.09 L635.8 235.55 L636.2 236.01 L636.6 236.49 L637 236.98 L637.4 237.47 L637.8 237.97 L638.2 238.48 L638.6 238.99 L639 239.5 L639.4 240.01 L639.8 240.52 L640.2 241.02 L640.6 241.53 L641 242.03 L641.4 242.53 L641.8 243.02 L642.2 243.5 L642.6 243.98 L643 244.44 L643.4 244.9 L643.8 245.35 L644.2 245.79 L644.6 246.22 L645 246.63 L645.4 247.04 L645.8 247.43 L646.2 247.81 L646.6 248.18 L647 248.53 L647.4 248.87 L647.8 249.2 L648.2 249.52 L648.6 249.82 L649 250.11 L649.4 250.39 L649.8 250.66 L650.2 250.91 L650.6 251.15 L651 251.38 L651.4 251.6 L651.8 251.81 L652.2 252 L652.6 252.19 L653 252.37 L653.4 252.53 L653.8 252.69 L654.2 252.83 L654.6 252.97 L655 253.1 L655.4 253.22 L655.8 253.33 L656.2 253.44 L656.6 253.54 L657 253.63 L657.4 253.72 L657.8 253.8 L658.2 253.87 L658.6 253.94 L659 254 L659.4 254.06 L659.8 254.12 L660.2 254.17 L660.6 254.22 L661 254.26 L661.4 254.3 L661.8 254.34 L662.2 254.37 L662.6 254.4 L663 254.43 L663.4 254.46 L663.8 254.48 L664.2 254.51 L664.6 254.53 L665 254.55 L665.4 254.56 L665.8 254.58 L666.2 254.59 L666.6 254.61 L667 254.62 L667.4 254.63 L667.8 254.64 L668.2 254.65 L668.6 254.66 L669 254.67 L669.4 254.68 L669.8 254.69 L670.2 254.69 L670.6 254.7 L671 254.7 L671.4 254.71 L671.8 254.71 L672.2 254.72 L672.6 254.72 L673 254.73 L673.4 254.73 L673.8 254.74 L674.2 254.74 L674.6 254.74 L675 254.75 L675.4 254.75 L675.8 254.75 L676.2 254.75 L676.6 254.76 L677 254.76 L677 254.9 L676.6 254.9 L676.2 254.9 L675.8 254.9 L675.4 254.9 L675 254.9 L674.6 254.9 L674.2 254.9 L673.8 254.9 L673.4 254.9 L673 254.9 L672.6 254.9 L672.2 254.9 L671.8 254.9 L671.4 254.9 L671 254.9 L670.6 254.9 L670.2 254.9 L669.8 254.9 L669.4 254.9 L669 254.9 L668.6 254.9 L668.2 254.9 L667.8 254.9 L667.4 254.9 L667 254.9 L666.6 254.9 L666.2 254.9 L665.8 254.9 L665.4 254.9 L665 254.9 L664.6 254.9 L664.2 254.9 L663.8 254.9 L663.4 254.9 L663 254.9 L662.6 254.9 L662.2 254.9 L661.8 254.9 L661.4 254.9 L661 254.9 L660.6 254.9 L660.2 254.9 L659.8 254.9 L659.4 254.9 L659 254.9 L658.6 254.9 L658.2 254.9 L657.8 254.9 L657.4 254.9 L657 254.9 L656.6 254.9 L656.2 254.9 L655.8 254.9 L655.4 254.9 L655 254.9 L654.6 254.9 L654.2 254.9 L653.8 254.9 L653.4 254.9 L653 254.9 L652.6 254.9 L652.2 254.9 L651.8 254.9 L651.4 254.9 L651 254.9 L650.6 254.9 L650.2 254.9 L649.8 254.9 L649.4 254.9 L649 254.9 L648.6 254.9 L648.2 254.9 L647.8 254.9 L647.4 254.9 L647 254.9 L646.6 254.9 L646.2 254.9 L645.8 254.9 L645.4 254.9 L645 254.9 L644.6 254.9 L644.2 254.9 L643.8 254.9 L643.4 254.9 L643 254.9 L642.6 254.9 L642.2 254.9 L641.8 254.9 L641.4 254.9 L641 254.9 L640.6 254.9 L640.2 254.9 L639.8 254.9 L639.4 254.9 L639 254.9 L638.6 254.9 L638.2 254.9 L637.8 254.9 L637.4 254.9 L637 254.9 L636.6 254.9 L636.2 254.9 L635.8 254.9 L635.4 254.9 L635 254.9 L634.6 254.9 L634.2 254.9 L633.8 254.9 L633.4 254.9 L633 254.9 L632.6 254.9 L632.2 254.9 L631.8 254.9 L631.4 254.9 L631 254.9 L630.6 254.9 L630.2 254.9 L629.8 254.9 L629.4 254.9 L629 254.9 L628.6 254.9 L628.2 254.9 L627.8 254.9 L627.4 254.9 L627 254.9 L626.6 254.9 L626.2 254.9 L625.8 254.9 L625.4 254.9 L625 254.9 L624.6 254.9 L624.2 254.9 L623.8 254.9 L623.4 254.9 L623 254.9 L622.6 254.9 L622.2 254.9 L621.8 254.9 L621.4 254.9 L621 254.9 L620.6 254.9 L620.2 254.9 L619.8 254.9 L619.4 254.9 L619 254.9 L618.6 254.9 L618.2 254.9 L617.8 254.9 L617.4 254.9 L617 254.9 L616.6 254.9 L616.2 254.9 L615.8 254.9 L615.4 254.9 L615 254.9 L614.6 254.9 L614.2 254.9 L613.8 254.9 L613.4 254.9 L613 254.9 L612.6 254.9 L612.2 254.9 L611.8 254.9 L611.4 254.9 L611 254.9 L610.6 254.9 L610.2 254.9 L609.8 254.9 L609.4 254.9 L609 254.9 L608.6 254.9 L608.2 254.9 L607.8 254.9 L607.4 254.9 L607 254.9 L606.6 254.9 L606.2 254.9 L605.8 254.9 L605.4 254.9 L605 254.9 L604.6 254.9 L604.2 254.9 L603.8 254.9 L603.4 254.9 L603 254.9 L602.6 254.9 L602.2 254.9 L601.8 254.9 L601.4 254.9 L601 254.9 L600.6 254.9 L600.2 254.9 L599.8 254.9 L599.4 254.9 L599 254.9 L598.6 254.9 L598.2 254.9 L597.8 254.9 L597.4 254.9 L597 254.9 L596.6 254.9 L596.2 254.9 L595.8 254.9 L595.4 254.9 L595 254.9 L594.6 254.9 L594.2 254.9 L593.8 254.9 L593.4 254.9 L593 254.9 L592.6 254.9 L592.2 254.9 L591.8 254.9 L591.4 254.9 L591 254.9 L590.6 254.9 L590.2 254.9 L589.8 254.9 L589.4 254.9 L589 254.9 L588.6 254.9 L588.2 254.9 L587.8 254.9 L587.4 254.9 L587 254.9 L586.6 254.9 L586.2 254.9 L585.8 254.9 L585.4 254.9 L585 254.9 L584.6 254.9 L584.2 254.9 L583.8 254.9 L583.4 254.9 L583 254.9 L582.6 254.9 L582.2 254.9 L581.8 254.9 L581.4 254.9 L581 254.9 L580.6 254.9 L580.2 254.9 L579.8 254.9 L579.4 254.9 L579 254.9 L578.6 254.9 L578.2 254.9 L577.8 254.9 L577.4 254.9 L577 254.9 L576.6 254.9 L576.2 254.9 L575.8 254.9 L575.4 254.9 L575 254.9 L574.6 254.9 L574.2 254.9 L573.8 254.9 L573.4 254.9 L573 254.9 L572.6 254.9 L572.2 254.9 L571.8 254.9 L571.4 254.9 L571 254.9 L570.6 254.9 L570.2 254.9 L569.8 254.9 L569.4 254.9 L569 254.9 L568.6 254.9 L568.2 254.9 L567.8 254.9 L567.4 254.9 L567 254.9 L566.6 254.9 L566.2 254.9 L565.8 254.9 L565.4 254.9 L565 254.9 L564.6 254.9 L564.2 254.9 L563.8 254.9 L563.4 254.9 L563 254.9 L562.6 254.9 Z" fill="url(#gb)" stroke="none"/>
<path d="M562.6 254.82 L563 254.82 L563.4 254.82 L563.8 254.82 L564.2 254.82 L564.6 254.81 L565 254.81 L565.4 254.81 L565.8 254.81 L566.2 254.81 L566.6 254.81 L567 254.81 L567.4 254.81 L567.8 254.81 L568.2 254.8 L568.6 254.8 L569 254.8 L569.4 254.8 L569.8 254.8 L570.2 254.8 L570.6 254.8 L571 254.8 L571.4 254.79 L571.8 254.79 L572.2 254.79 L572.6 254.79 L573 254.79 L573.4 254.79 L573.8 254.79 L574.2 254.78 L574.6 254.78 L575 254.78 L575.4 254.78 L575.8 254.78 L576.2 254.77 L576.6 254.77 L577 254.77 L577.4 254.77 L577.8 254.77 L578.2 254.76 L578.6 254.76 L579 254.76 L579.4 254.76 L579.8 254.75 L580.2 254.75 L580.6 254.75 L581 254.75 L581.4 254.74 L581.8 254.74 L582.2 254.74 L582.6 254.73 L583 254.73 L583.4 254.72 L583.8 254.72 L584.2 254.71 L584.6 254.71 L585 254.7 L585.4 254.7 L585.8 254.69 L586.2 254.69 L586.6 254.68 L587 254.67 L587.4 254.66 L587.8 254.65 L588.2 254.64 L588.6 254.63 L589 254.62 L589.4 254.61 L589.8 254.59 L590.2 254.58 L590.6 254.56 L591 254.55 L591.4 254.53 L591.8 254.51 L592.2 254.48 L592.6 254.46 L593 254.43 L593.4 254.4 L593.8 254.37 L594.2 254.34 L594.6 254.3 L595 254.26 L595.4 254.22 L595.8 254.17 L596.2 254.12 L596.6 254.06 L597 254 L597.4 253.94 L597.8 253.87 L598.2 253.8 L598.6 253.72 L599 253.63 L599.4 253.54 L599.8 253.44 L600.2 253.33 L600.6 253.22 L601 253.1 L601.4 252.97 L601.8 252.83 L602.2 252.69 L602.6 252.53 L603 252.37 L603.4 252.19 L603.8 252 L604.2 251.81 L604.6 251.6 L605 251.38 L605.4 251.15 L605.8 250.91 L606.2 250.66 L606.6 250.39 L607 250.11 L607.4 249.82 L607.8 249.52 L608.2 249.2 L608.6 248.87 L609 248.53 L609.4 248.18 L609.8 247.81 L610.2 247.43 L610.6 247.04 L611 246.63 L611.4 246.22 L611.8 245.79 L612.2 245.35 L612.6 244.9 L613 244.44 L613.4 243.98 L613.8 243.5 L614.2 243.02 L614.6 242.53 L615 242.03 L615.4 241.53 L615.8 241.02 L616.2 240.52 L616.6 240.01 L617 239.5 L617.4 238.99 L617.8 238.48 L618.2 237.97 L618.6 237.47 L619 236.98 L619.4 236.49 L619.8 236.01 L620.2 235.55 L620.6 235.09 L621 234.65 L621.4 234.22 L621.8 233.81 L622.2 233.41 L622.6 233.04 L623 232.68 L623.4 232.35 L623.8 232.04 L624.2 231.75 L624.6 231.49 L625 231.25 L625.4 231.04 L625.8 230.86 L626.2 230.71 L626.6 230.59 L627 230.5 L627.4 230.43 L627.8 230.4 L628.2 230.4" stroke="#2020ff" stroke-width="1.2" fill="none" stroke-linejoin="round" stroke-linecap="round" />
<path d="M627.8 230.4 L628.2 230.4 L628.6 230.43 L629 230.5 L629.4 230.59 L629.8 230.71 L630.2 230.86 L630.6 231.04 L631 231.25 L631.4 231.49 L631.8 231.75 L632.2 232.04 L632.6 232.35 L633 232.68 L633.4 233.04 L633.8 233.41 L634.2 233.81 L634.6 234.22 L635 234.65 L635.4 235.09 L635.8 235.55 L636.2 236.01 L636.6 236.49 L637 236.98 L637.4 237.47 L637.8 237.97 L638.2 238.48 L638.6 238.99 L639 239.5 L639.4 240.01 L639.8 240.52 L640.2 241.02 L640.6 241.53 L641 242.03 L641.4 242.53 L641.8 243.02 L642.2 243.5 L642.6 243.98 L643 244.44 L643.4 244.9 L643.8 245.35 L644.2 245.79 L644.6 246.22 L645 246.63 L645.4 247.04 L645.8 247.43 L646.2 247.81 L646.6 248.18 L647 248.53 L647.4 248.87 L647.8 249.2 L648.2 249.52 L648.6 249.82 L649 250.11 L649.4 250.39 L649.8 250.66 L650.2 250.91 L650.6 251.15 L651 251.38 L651.4 251.6 L651.8 251.81 L652.2 252 L652.6 252.19 L653 252.37 L653.4 252.53 L653.8 252.69 L654.2 252.83 L654.6 252.97 L655 253.1 L655.4 253.22 L655.8 253.33 L656.2 253.44 L656.6 253.54 L657 253.63 L657.4 253.72 L657.8 253.8 L658.2 253.87 L658.6 253.94 L659 254 L659.4 254.06 L659.8 254.12 L660.2 254.17 L660.6 254.22 L661 254.26 L661.4 254.3 L661.8 254.34 L662.2 254.37 L662.6 254.4 L663 254.43 L663.4 254.46 L663.8 254.48 L664.2 254.51 L664.6 254.53 L665 254.55 L665.4 254.56 L665.8 254.58 L666.2 254.59 L666.6 254.61 L667 254.62 L667.4 254.63 L667.8 254.64 L668.2 254.65 L668.6 254.66 L669 254.67 L669.4 254.68 L669.8 254.69 L670.2 254.69 L670.6 254.7 L671 254.7 L671.4 254.71 L671.8 254.71 L672.2 254.72 L672.6 254.72 L673 254.73 L673.4 254.73 L673.8 254.74 L674.2 254.74 L674.6 254.74 L675 254.75 L675.4 254.75 L675.8 254.75 L676.2 254.75 L676.6 254.76 L677 254.76" stroke="#2020ff" stroke-width="1.2" fill="none" stroke-linejoin="round" stroke-linecap="round" />
<path d="M529.4 254.9 L529.8 254.9 L530.2 254.9 L530.6 254.9 L531 254.9 L531.4 254.9 L531.8 254.9 L532.2 254.9 L532.6 254.9 L533 254.9 L533.4 254.9 L533.8 254.9 L534.2 254.9 L534.6 254.9 L535 254.9 L535.4 254.9 L535.8 254.9 L536.2 254.9 L536.6 254.9 L537 254.9 L537.4 254.9 L537.8 254.9 L538.2 254.9 L538.6 254.9 L539 254.9 L539.4 254.9 L539.8 254.9 L540.2 254.9 L540.6 254.9 L541 254.9 L541.4 254.9 L541.8 254.9 L542.2 254.9 L542.6 254.9 L543 254.9 L543.4 254.9 L543.8 254.9 L544.2 254.9 L544.6 254.9 L545 254.9 L545.4 254.9 L545.8 254.9 L546.2 254.9 L546.6 254.9 L547 254.9 L547.4 254.9 L547.8 254.9 L548.2 254.9 L548.6 254.9 L549 254.9 L549.4 254.9 L549.8 254.9 L550.2 254.9 L550.6 254.9 L551 254.9 L551.4 254.9 L551.8 254.9 L552.2 254.9 L552.6 254.9 L553 254.9 L553.4 254.9 L553.8 254.9 L554.2 254.9 L554.6 254.9 L555 254.9 L555.4 254.9 L555.8 254.9 L556.2 254.9 L556.6 254.9 L557 254.9 L557.4 254.9 L557.8 254.9 L558.2 254.9 L558.6 254.9 L559 254.9 L559.4 254.9 L559.8 254.9 L560.2 254.9 L560.6 254.9 L561 254.9 L561.4 254.9 L561.8 254.9 L562.2 254.9 L562.6 254.9 L563 254.9 L563.4 254.9 L563.8 254.9 L564.2 254.9 L564.6 254.9 L565 254.9 L565.4 254.9 L565.8 254.9 L566.2 254.9 L566.6 254.9 L567 254.9 L567.4 254.9 L567.8 254.9 L568.2 254.9 L568.6 254.9 L569 254.9 L569.4 254.9 L569.8 254.9 L570.2 254.9 L570.6 254.9 L571 254.9 L571.4 254.9 L571.8 254.9 L572.2 254.9 L572.6 254.9 L573 254.9 L573.4 254.9 L573.8 254.9 L574.2 254.9 L574.6 254.9 L575 254.9 L575.4 254.9 L575.8 254.9 L576.2 254.9 L576.6 254.9 L577 254.9 L577.4 254.9 L577.8 254.9 L578.2 254.9 L578.6 254.9 L579 254.9 L579.4 254.9 L579.8 254.9 L580.2 254.9 L580.6 254.9 L581 254.9 L581.4 254.9 L581.8 254.9 L582.2 254.9 L582.6 254.9 L583 254.9 L583.4 254.9 L583.8 254.9 L584.2 254.9 L584.6 254.9 L585 254.9 L585.4 254.9 L585.8 254.9 L586.2 254.9 L586.6 254.9 L587 254.9 L587.4 254.9 L587.8 254.9 L588.2 254.9 L588.6 254.9 L589 254.9 L589.4 254.9 L589.8 254.9 L590.2 254.9 L590.6 254.9 L591 254.9 L591.4 254.9 L591.8 254.9 L592.2 254.9 L592.6 254.9 L593 254.9 L593.4 254.9 L593.8 254.9 L594.2 254.9 L594.6 254.9 L595 254.9 L595.4 254.9 L595.8 254.9 L596.2 254.9 L596.6 254.9 L597 254.9 L597.4 254.9 L597.8 254.9 L598.2 254.9 L598.6 254.9 L599 254.9 L599.4 254.9 L599.8 254.9 L600.2 254.9 L600.6 254.9 L601 254.9 L601.4 254.9 L601.8 254.9 L602.2 254.9 L602.6 254.9 L603 254.9 L603.4 254.9 L603.8 254.9 L604.2 254.9 L604.6 254.9 L605 254.9 L605.4 254.9 L605.8 254.9 L606.2 254.9 L606.6 254.9 L607 254.9 L607.4 254.9 L607.8 254.9 L608.2 254.9 L608.6 254.9 L609 254.9 L609.4 254.9 L609.8 254.9 L610.2 254.9 L610.6 254.9 L611 254.9 L611.4 254.9 L611.8 254.9 L612.2 254.9 L612.6 254.9 L613 254.9 L613.4 254.9 L613.8 254.9 L614.2 254.9 L614.6 254.9 L615 254.9 L615.4 254.9 L615.8 254.9 L616.2 254.9 L616.6 254.9 L617 254.9 L617.4 254.9 L617.8 254.9 L618.2 254.9 L618.6 254.9 L619 254.9 L619.4 254.9 L619.8 254.9 L620.2 254.9 L620.6 254.9 L621 254.9 L621.4 254.9 L621.8 254.9 L622.2 254.9 L622.6 254.9 L623 254.9 L623.4 254.9 L623.8 254.9 L624.2 254.9 L624.6 254.9 L625 254.9 L625.4 254.9 L625.8 254.9 L626.2 254.9 L626.6 254.9 L627 254.9 L627.4 254.9 L627.8 254.9 L628.2 254.9 L628.6 254.9 L629 254.9 L629.4 254.9 L629.8 254.9 L630.2 254.9 L630.6 254.9 L631 254.9 L631.4 254.9 L631.8 254.9 L632.2 254.9 L632.6 254.9 L633 254.9 L633.4 254.9 L633.8 254.9 L634.2 254.9 L634.6 254.9 L635 254.9 L635.4 254.9 L635.8 254.9 L636.2 254.9 L636.6 254.9 L637 254.9 L637.4 254.9 L637.8 254.9 L638.2 254.9 L638.6 254.9 L639 254.9 L639.4 254.9 L639.8 254.9 L640.2 254.9 L640.6 254.9 L641 254.9 L641.4 254.9 L641.8 254.9 L642.2 254.9 L642.6 254.9 L643 254.9 L643.4 254.9 L643.8 254.9 L644.2 254.9 L644.6 254.9 L645 254.9 L645.4 254.9 L645.8 254.9 L646.2 254.9 L646.6 254.9 L647 254.9 L647.4 254.9 L647.8 254.9 L648.2 254.9 L648.6 254.9 L649 254.9 L649.4 254.9 L649.8 254.9 L650.2 254.9 L650.6 254.9 L651 254.9 L651.4 254.9 L651.8 254.9 L652.2 254.9 L652.6 254.9 L653 254.9 L653.4 254.9 L653.8 254.9 L654.2 254.9 L654.6 254.9 L655 254.9 L655.4 254.9 L655.8 254.9 L656.2 254.9 L656.6 254.9 L657 254.9 L657.4 254.9 L657.8 254.9 L658.2 254.9 L658.6 254.9 L659 254.9 L659.4 254.9 L659.8 254.9 L660.2 254.9 L660.6 254.9 L661 254.9 L661.4 254.9 L661.8 254.9 L662.2 254.9 L662.6 254.9 L663 254.9 L663.4 254.9 L663.8 254.9 L664.2 254.9 L664.6 254.9 L665 254.9 L665.4 254.9 L665.8 254.9 L666.2 254.9 L666.6 254.9 L667 254.9 L667.4 254.9 L667.8 254.9 L668.2 254.9 L668.6 254.9 L669 254.9 L669.4 254.9 L669.8 254.9 L670.2 254.9 L670.6 254.9 L671 254.9 L671.4 254.9 L671.8 254.9 L672.2 254.9 L672.6 254.9 L673 254.9 L673.4 254.9 L673.8 254.9 L674.2 254.9 L674.6 254.9 L675 254.9 L675.4 254.9 L675.8 254.9 L676.2 254.9 L676.6 254.9 L677 254.9" stroke="#d0a0c8" stroke-width="1.1" fill="none" stroke-linejoin="round" stroke-linecap="round" />
<rect x="528.8" y="141.3" width="149" height="122.5" fill="none" stroke="#000" stroke-width="1.6" />
<line x1="530.8" y1="263.8" x2="530.8" y2="261" stroke="#000" stroke-width="1" />
<line x1="560.42" y1="263.8" x2="560.42" y2="261" stroke="#000" stroke-width="1" />
<line x1="590.04" y1="263.8" x2="590.04" y2="261" stroke="#000" stroke-width="1" />
<line x1="619.66" y1="263.8" x2="619.66" y2="261" stroke="#000" stroke-width="1" />
<line x1="649.28" y1="263.8" x2="649.28" y2="261" stroke="#000" stroke-width="1" />
<line x1="678.9" y1="263.8" x2="678.9" y2="261" stroke="#000" stroke-width="1" />
<line x1="545.61" y1="263.8" x2="545.61" y2="262.3" stroke="#000" stroke-width="1" />
<line x1="575.23" y1="263.8" x2="575.23" y2="262.3" stroke="#000" stroke-width="1" />
<line x1="604.85" y1="263.8" x2="604.85" y2="262.3" stroke="#000" stroke-width="1" />
<line x1="634.47" y1="263.8" x2="634.47" y2="262.3" stroke="#000" stroke-width="1" />
<line x1="664.09" y1="263.8" x2="664.09" y2="262.3" stroke="#000" stroke-width="1" />
<text transform="translate(530.8 273) scale(1 1.06)" font-size="8.4" fill="#000" text-anchor="middle" >538</text>
<text transform="translate(560.42 273) scale(1 1.06)" font-size="8.4" fill="#000" text-anchor="middle" >536</text>
<text transform="translate(590.04 273) scale(1 1.06)" font-size="8.4" fill="#000" text-anchor="middle" >534</text>
<text transform="translate(619.66 273) scale(1 1.06)" font-size="8.4" fill="#000" text-anchor="middle" >532</text>
<text transform="translate(649.28 273) scale(1 1.06)" font-size="8.4" fill="#000" text-anchor="middle" >530</text>
<text transform="translate(678.9 273) scale(1 1.06)" font-size="8.4" fill="#000" text-anchor="middle" >528</text>
<text transform="translate(531.25 152.5) scale(1 1.06)" font-size="9.26" fill="#ff1a1a" text-anchor="start" >O1s</text>
<text transform="translate(639 152) scale(1 1.06)" font-size="9.6" fill="#000" text-anchor="start" >Product</text>
<text transform="translate(512.3 150.2) scale(1 1.06)" font-size="9.4" fill="#000" text-anchor="start" >(H)</text>
<text transform="translate(573.6 157.9) scale(1 1.06)" font-size="7.36" fill="#000" text-anchor="start" >C-O</text>
<text transform="translate(573.6 166.9) scale(1 1.06)" font-size="7.16" fill="#000" text-anchor="start" >77.80%</text>
<text transform="translate(639 228.25) scale(1 1.06)" font-size="7.2" fill="#000" text-anchor="start" >C=O</text>
<text transform="translate(639 237) scale(1 1.06)" font-size="7.22" fill="#000" text-anchor="start" >22.20%</text>
<text font-size="9.9" fill="#000" text-anchor="middle" transform="translate(9.4 202.7) rotate(-90) scale(1 1.12)">Intensity (arb. units)</text>
<text transform="translate(352.2 282.4) scale(1 1.06)" font-size="9.9" fill="#000" text-anchor="middle" >Binding energy (eV)</text>
</svg></body></html>
